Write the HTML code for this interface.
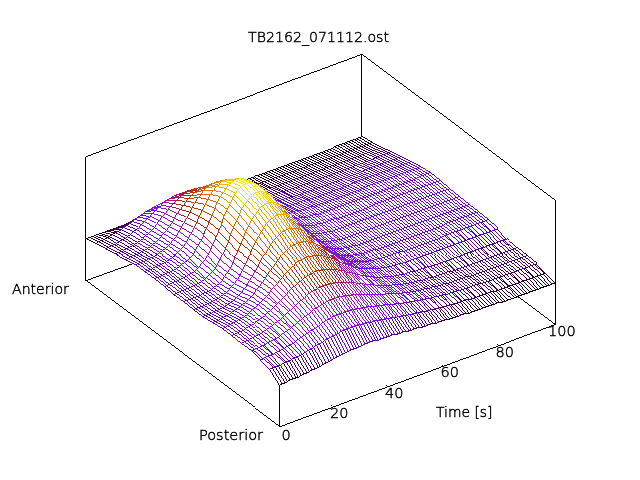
<!DOCTYPE html>
<html><head><meta charset="utf-8"><style>
html,body{margin:0;padding:0;background:#fff;width:640px;height:480px;overflow:hidden}
svg{position:absolute;left:0;top:0}
#m path{fill:#fff;stroke-width:.999}
.k{stroke:#000;fill:none;stroke-width:.999}
.c0{stroke:#000000}.c1{stroke:#250022}.c2{stroke:#350043}.c3{stroke:#400064}.c4{stroke:#4a0082}.c5{stroke:#53009e}.c6{stroke:#5b01b7}.c7{stroke:#6201cd}.c8{stroke:#6901e0}.c9{stroke:#7002ee}.c10{stroke:#7602f8}.c11{stroke:#7b03fe}.c12{stroke:#8104ff}.c13{stroke:#8605fb}.c14{stroke:#8b07f4}.c15{stroke:#9008e7}.c16{stroke:#950ad7}.c17{stroke:#990cc3}.c18{stroke:#9e0eab}.c19{stroke:#a21190}.c20{stroke:#a61473}.c21{stroke:#aa1754}.c22{stroke:#ae1a33}.c23{stroke:#b21e11}.c24{stroke:#b62200}.c25{stroke:#ba2600}.c26{stroke:#be2b00}.c27{stroke:#c13000}.c28{stroke:#c53600}.c29{stroke:#c83c00}.c30{stroke:#cc4200}.c31{stroke:#cf4900}.c32{stroke:#d25000}.c33{stroke:#d65800}.c34{stroke:#d96100}.c35{stroke:#dc6900}.c36{stroke:#df7300}.c37{stroke:#e27c00}.c38{stroke:#e58700}.c39{stroke:#e89200}.c40{stroke:#eb9d00}.c41{stroke:#eea900}.c42{stroke:#f1b600}.c43{stroke:#f4c300}.c44{stroke:#f7d100}.c45{stroke:#fae000}.c46{stroke:#fcef00}.c47{stroke:#ffff00}
text{font-family:"DejaVu Sans","Liberation Sans",sans-serif;font-weight:200;font-size:14.5px;fill:#000;stroke:#000;stroke-width:.45px}
</style></head><body>
<svg width="640" height="480" viewBox="0 0 640 480" shape-rendering="crispEdges">
<g transform="translate(.5 .5)">
<path class="k" d="M85 280L361 180L555 324M85 156L361 54L555 200M85 156V280M361 54V180M555 200V324"/>
<g id="m">
<path class="c0" d="M358 137l3-1l10 6l-3 1z"/>
<path class="c1" d="M361 136l10 6"/>
<path class="c0" d="M355 138l3-1l10 6l-3 1z"/>
<path class="c1" d="M358 137l10 6"/>
<path class="c0" d="M353 139l2-1l10 6l-3 1z"/>
<path class="c1" d="M355 138l10 6"/>
<path class="c0" d="M350 140l3-1l9 6l-2 1z"/>
<path class="c1" d="M353 139l9 6"/>
<path class="c0" d="M347 141l3-1l10 6l-3 1z"/>
<path class="c1" d="M350 140l10 6"/>
<path class="c0" d="M344 142l3-1l10 6l-3 1z"/>
<path class="c1" d="M347 141l10 6"/>
<path class="c0" d="M342 143l2-1l10 6l-3 1z"/>
<path class="c1" d="M344 142l10 6"/>
<path class="c0" d="M339 144l3-1l9 6l-2 1z"/>
<path class="c1" d="M342 143l9 6"/>
<path class="c1" d="M368 143l3-1l9 5l-2 1z"/>
<path class="c2" d="M371 142l9 5"/>
<path class="c0" d="M336 145l3-1l10 6l-3 1z"/>
<path class="c1" d="M339 144l10 6"/>
<path class="c1" d="M365 144l3-1l10 5l-3 1z"/>
<path class="c2" d="M368 143l10 5"/>
<path class="c0" d="M333 146l3-1l10 6l-3 1z"/>
<path class="c1" d="M336 145l10 6"/>
<path class="c1" d="M362 145l3-1l10 5l-3 1z"/>
<path class="c2" d="M365 144l10 5"/>
<path class="c0" d="M331 148l2-2l10 6l-3 1z"/>
<path class="c1" d="M333 146l10 6"/>
<path class="c1" d="M360 146l2-1l10 5l-3 1z"/>
<path class="c2" d="M362 145l10 5"/>
<path class="c0" d="M328 149l3-1l9 5l-2 1z"/>
<path class="c1" d="M331 148l9 5"/>
<path class="c1" d="M357 147l3-1l9 5l-2 1z"/>
<path class="c2" d="M360 146l9 5"/>
<path class="c0" d="M325 150l3-1l10 5l-3 1z"/>
<path class="c1" d="M328 149l10 5"/>
<path class="c1" d="M354 148l3-1l10 5l-3 1z"/>
<path class="c2" d="M357 147l10 5"/>
<path class="c0" d="M322 151l3-1l10 5l-3 1z"/>
<path class="c1" d="M325 150l10 5"/>
<path class="c1" d="M351 149l3-1l10 5l-3 1z"/>
<path class="c2" d="M354 148l10 5"/>
<path class="c0" d="M320 152l2-1l10 5l-3 1z"/>
<path class="c1" d="M322 151l10 5"/>
<path class="c1" d="M349 150l2-1l10 5l-3 1z"/>
<path class="c2" d="M351 149l10 5"/>
<path class="c2" d="M378 148l2-1l10 4l-3 1z"/>
<path class="c3" d="M380 147l10 4"/>
<path class="c0" d="M317 153l3-1l9 5l-2 1z"/>
<path class="c1" d="M320 152l9 5"/>
<path class="c1" d="M346 151l3-1l9 5l-2 1z"/>
<path class="c2" d="M349 150l9 5"/>
<path class="c2" d="M375 149l3-1l9 4l-2 1z"/>
<path class="c3" d="M378 148l9 4"/>
<path class="c0" d="M314 154l3-1l10 5l-3 1z"/>
<path class="c1" d="M317 153l10 5"/>
<path class="c1" d="M343 152l3-1l10 5l-3 1z"/>
<path class="c2" d="M346 151l10 5"/>
<path class="c2" d="M372 150l3-1l10 4l-3 1z"/>
<path class="c3" d="M375 149l10 4"/>
<path class="c0" d="M311 155l3-1l10 5l-3 1z"/>
<path class="c1" d="M314 154l10 5"/>
<path class="c1" d="M340 153l3-1l10 5l-3 1z"/>
<path class="c2" d="M343 152l10 5"/>
<path class="c2" d="M369 151l3-1l10 4l-3 1z"/>
<path class="c3" d="M372 150l10 4"/>
<path class="c0" d="M309 156l2-1l10 5l-3 1z"/>
<path class="c1" d="M311 155l10 5"/>
<path class="c1" d="M338 154l2-1l10 5l-3 1z"/>
<path class="c2" d="M340 153l10 5"/>
<path class="c2" d="M367 152l2-1l10 4l-3 1z"/>
<path class="c3" d="M369 151l10 4"/>
<path class="c0" d="M306 157l3-1l9 5l-2 1z"/>
<path class="c1" d="M309 156l9 5"/>
<path class="c1" d="M335 155l3-1l9 5l-2 1z"/>
<path class="c2" d="M338 154l9 5"/>
<path class="c2" d="M364 153l3-1l9 4l-2 1z"/>
<path class="c3" d="M367 152l9 4"/>
<path class="c0" d="M303 158l3-1l10 5l-3 1z"/>
<path class="c1" d="M306 157l10 5"/>
<path class="c1" d="M332 156l3-1l10 5l-3 1z"/>
<path class="c2" d="M335 155l10 5"/>
<path class="c2" d="M361 154l3-1l10 4l-3 2z"/>
<path class="c3" d="M364 153l10 4"/>
<path class="c0" d="M300 159l3-1l10 5l-3 1z"/>
<path class="c1" d="M303 158l10 5"/>
<path class="c1" d="M329 157l3-1l10 5l-3 1z"/>
<path class="c2" d="M332 156l10 5"/>
<path class="c2" d="M358 155l3-1l10 5l-3 1z"/>
<path class="c3" d="M361 154l10 5"/>
<path class="c4" d="M387 152l3-1l10 5l-3 1z"/>
<path class="c5" d="M390 151l10 5"/>
<path class="c0" d="M298 160l2-1l10 5l-3 1z"/>
<path class="c1" d="M300 159l10 5"/>
<path class="c1" d="M327 158l2-1l10 5l-3 1z"/>
<path class="c2" d="M329 157l10 5"/>
<path class="c2" d="M356 156l2-1l10 5l-3 1z"/>
<path class="c3" d="M358 155l10 5"/>
<path class="c4" d="M385 153l2-1l10 5l-3 1z"/>
<path class="c5" d="M387 152l10 5"/>
<path class="c0" d="M295 161l3-1l9 5l-3 1z"/>
<path class="c1" d="M298 160l9 5"/>
<path class="c1" d="M324 159l3-1l9 5l-3 1z"/>
<path class="c2" d="M327 158l9 5"/>
<path class="c2" d="M353 157l3-1l9 5l-3 1z"/>
<path class="c3" d="M356 156l9 5"/>
<path class="c4" d="M382 154l3-1l9 5l-2 1z"/>
<path class="c5" d="M385 153l9 5"/>
<path class="c0" d="M292 162l3-1l9 5l-2 1z"/>
<path class="c1" d="M295 161l9 5"/>
<path class="c1" d="M321 160l3-1l9 5l-2 1z"/>
<path class="c2" d="M324 159l9 5"/>
<path class="c2" d="M350 158l3-1l9 5l-2 1z"/>
<path class="c3" d="M353 157l9 5"/>
<path class="c4" d="M379 155l3-1l10 5l-3 1z"/>
<path class="c5" d="M382 154l10 5"/>
<path class="c0" d="M289 163l3-1l10 5l-3 1z"/>
<path class="c1" d="M292 162l10 5"/>
<path class="c1" d="M318 161l3-1l10 5l-3 1z"/>
<path class="c2" d="M321 160l10 5"/>
<path class="c2" d="M347 159l3-1l10 5l-3 1z"/>
<path class="c3" d="M350 158l10 5"/>
<path class="c4" d="M376 156l3-1l10 5l-3 1z"/>
<path class="c5" d="M379 155l10 5"/>
<path class="c0" d="M286 164l3-1l10 5l-3 1z"/>
<path class="c1" d="M289 163l10 5"/>
<path class="c1" d="M316 162l2-1l10 5l-3 1z"/>
<path class="c2" d="M318 161l10 5"/>
<path class="c2" d="M345 160l2-1l10 5l-3 1z"/>
<path class="c3" d="M347 159l10 5"/>
<path class="c4" d="M374 157l2-1l10 5l-3 1z"/>
<path class="c5" d="M376 156l10 5"/>
<path class="c0" d="M284 165l2-1l10 5l-3 1z"/>
<path class="c1" d="M286 164l10 5"/>
<path class="c1" d="M313 163l3-1l9 5l-3 1z"/>
<path class="c2" d="M316 162l9 5"/>
<path class="c2" d="M342 161l3-1l9 5l-3 1z"/>
<path class="c3" d="M345 160l9 5"/>
<path class="c4" d="M371 159l3-2l9 5l-3 1z"/>
<path class="c5" d="M374 157l9 5"/>
<path class="c0" d="M281 166l3-1l9 5l-2 1z"/>
<path class="c1" d="M284 165l9 5"/>
<path class="c1" d="M310 164l3-1l9 5l-2 1z"/>
<path class="c2" d="M313 163l9 5"/>
<path class="c2" d="M339 162l3-1l9 5l-2 1z"/>
<path class="c3" d="M342 161l9 5"/>
<path class="c4" d="M368 160l3-1l9 4l-2 1z"/>
<path class="c5" d="M371 159l9 4"/>
<path class="c5" d="M397 157l3-1l10 5l-3 1z"/>
<path class="c6" d="M400 156l10 5"/>
<path class="c0" d="M278 167l3-1l10 5l-3 1z"/>
<path class="c1" d="M281 166l10 5"/>
<path class="c1" d="M307 165l3-1l10 5l-3 1z"/>
<path class="c2" d="M310 164l10 5"/>
<path class="c2" d="M336 163l3-1l10 5l-3 1z"/>
<path class="c3" d="M339 162l10 5"/>
<path class="c4" d="M365 161l3-1l10 4l-3 1z"/>
<path class="c5" d="M368 160l10 4"/>
<path class="c5" d="M394 158l3-1l10 5l-3 1z"/>
<path class="c6" d="M397 157l10 5"/>
<path class="c0" d="M275 168l3-1l10 5l-3 1z"/>
<path class="c1" d="M278 167l10 5"/>
<path class="c1" d="M304 166l3-1l10 5l-3 1z"/>
<path class="c2" d="M307 165l10 5"/>
<path class="c2" d="M333 164l3-1l10 5l-3 1z"/>
<path class="c3" d="M336 163l10 5"/>
<path class="c4" d="M362 162l3-1l10 4l-3 1z"/>
<path class="c5" d="M365 161l10 4"/>
<path class="c5" d="M392 159l2-1l10 5l-3 1z"/>
<path class="c6" d="M394 158l10 5"/>
<path class="c0" d="M273 169l2-1l10 5l-3 1z"/>
<path class="c1" d="M275 168l10 5"/>
<path class="c1" d="M302 167l2-1l10 5l-3 1z"/>
<path class="c2" d="M304 166l10 5"/>
<path class="c2" d="M331 165l2-1l10 5l-3 1z"/>
<path class="c3" d="M333 164l10 5"/>
<path class="c4" d="M360 163l2-1l10 4l-3 1z"/>
<path class="c5" d="M362 162l10 4"/>
<path class="c5" d="M389 160l3-1l9 5l-3 1z"/>
<path class="c6" d="M392 159l9 5"/>
<path class="c0" d="M270 170l3-1l9 5l-2 1z"/>
<path class="c1" d="M273 169l9 5"/>
<path class="c1" d="M299 168l3-1l9 5l-2 1z"/>
<path class="c2" d="M302 167l9 5"/>
<path class="c2" d="M328 166l3-1l9 5l-2 1z"/>
<path class="c3" d="M331 165l9 5"/>
<path class="c4" d="M357 164l3-1l9 4l-2 1z"/>
<path class="c5" d="M360 163l9 4"/>
<path class="c5" d="M386 161l3-1l9 5l-2 1z"/>
<path class="c6" d="M389 160l9 5"/>
<path class="c0" d="M267 171l3-1l10 5l-3 1z"/>
<path class="c1" d="M270 170l10 5"/>
<path class="c1" d="M296 169l3-1l10 5l-3 1z"/>
<path class="c2" d="M299 168l10 5"/>
<path class="c2" d="M325 167l3-1l10 5l-3 1z"/>
<path class="c3" d="M328 166l10 5"/>
<path class="c4" d="M354 165l3-1l10 4l-3 1z"/>
<path class="c5" d="M357 164l10 4"/>
<path class="c5" d="M383 162l3-1l10 5l-3 1z"/>
<path class="c6" d="M386 161l10 5"/>
<path class="c0" d="M264 172l3-1l10 5l-3 1z"/>
<path class="c1" d="M267 171l10 5"/>
<path class="c1" d="M293 170l3-1l10 5l-3 1z"/>
<path class="c2" d="M296 169l10 5"/>
<path class="c2" d="M322 168l3-1l10 5l-3 1z"/>
<path class="c3" d="M325 167l10 5"/>
<path class="c4" d="M351 166l3-1l10 4l-3 2z"/>
<path class="c5" d="M354 165l10 4"/>
<path class="c5" d="M380 163l3-1l10 5l-3 1z"/>
<path class="c6" d="M383 162l10 5"/>
<path class="c0" d="M262 173l2-1l10 5l-3 1z"/>
<path class="c1" d="M264 172l10 5"/>
<path class="c1" d="M291 171l2-1l10 5l-3 1z"/>
<path class="c2" d="M293 170l10 5"/>
<path class="c2" d="M320 169l2-1l10 5l-3 1z"/>
<path class="c3" d="M322 168l10 5"/>
<path class="c4" d="M349 167l2-1l10 5l-3 1z"/>
<path class="c5" d="M351 166l10 5"/>
<path class="c5" d="M378 164l2-1l10 5l-3 1z"/>
<path class="c6" d="M380 163l10 5"/>
<path class="c7" d="M407 162l3-1l9 5l-3 1z"/>
<path class="c0" d="M259 174l3-1l9 5l-2 1z"/>
<path class="c1" d="M262 173l9 5"/>
<path class="c1" d="M288 172l3-1l9 5l-2 1z"/>
<path class="c2" d="M291 171l9 5"/>
<path class="c2" d="M317 170l3-1l9 5l-2 1z"/>
<path class="c3" d="M320 169l9 5"/>
<path class="c4" d="M346 168l3-1l9 5l-2 1z"/>
<path class="c5" d="M349 167l9 5"/>
<path class="c5" d="M375 165l3-1l9 5l-2 1z"/>
<path class="c6" d="M378 164l9 5"/>
<path class="c7" d="M404 163l3-1l9 5l-2 1z"/>
<path class="c0" d="M256 175l3-1l10 5l-3 1z"/>
<path class="c1" d="M259 174l10 5"/>
<path class="c1" d="M285 173l3-1l10 5l-3 1z"/>
<path class="c2" d="M288 172l10 5"/>
<path class="c2" d="M314 171l3-1l10 5l-3 1z"/>
<path class="c3" d="M317 170l10 5"/>
<path class="c4" d="M343 169l3-1l10 5l-3 1z"/>
<path class="c5" d="M346 168l10 5"/>
<path class="c5" d="M372 166l3-1l10 5l-3 1z"/>
<path class="c6" d="M375 165l10 5"/>
<path class="c7" d="M401 164l3-1l10 5l-3 1z"/>
<path class="c0" d="M253 176l3-1l10 5l-3 1z"/>
<path class="c1" d="M256 175l10 5"/>
<path class="c1" d="M282 174l3-1l10 5l-3 1z"/>
<path class="c2" d="M285 173l10 5"/>
<path class="c2" d="M311 172l3-1l10 5l-3 1z"/>
<path class="c3" d="M314 171l10 5"/>
<path class="c4" d="M340 170l3-1l10 5l-3 1z"/>
<path class="c5" d="M343 169l10 5"/>
<path class="c5" d="M369 167l3-1l10 5l-3 1z"/>
<path class="c6" d="M372 166l10 5"/>
<path class="c7" d="M398 165l3-1l10 5l-3 1z"/>
<path class="c0" d="M251 177l2-1l10 5l-3 1z"/>
<path class="c1" d="M253 176l10 5"/>
<path class="c1" d="M280 175l2-1l10 5l-3 1z"/>
<path class="c2" d="M282 174l10 5"/>
<path class="c2" d="M309 173l2-1l10 5l-3 1z"/>
<path class="c3" d="M311 172l10 5"/>
<path class="c4" d="M338 171l2-1l10 5l-3 1z"/>
<path class="c5" d="M340 170l10 5"/>
<path class="c5" d="M367 168l2-1l10 5l-3 1z"/>
<path class="c6" d="M369 167l10 5"/>
<path class="c7" d="M396 166l2-1l10 5l-3 1z"/>
<path class="c0" d="M248 178l3-1l9 5l-2 1z"/>
<path class="c1" d="M251 177l9 5"/>
<path class="c1" d="M277 176l3-1l9 5l-2 1z"/>
<path class="c2" d="M280 175l9 5"/>
<path class="c2" d="M306 174l3-1l9 5l-2 1z"/>
<path class="c3" d="M309 173l9 5"/>
<path class="c4" d="M335 172l3-1l9 5l-2 1z"/>
<path class="c5" d="M338 171l9 5"/>
<path class="c5" d="M364 169l3-1l9 5l-2 1z"/>
<path class="c6" d="M367 168l9 5"/>
<path class="c7" d="M393 167l3-1l9 5l-2 1z"/>
<path class="c0" d="M245 179l3-1l10 5l-3 0z"/>
<path class="c1" d="M248 178l10 5"/>
<path class="c1" d="M274 177l3-1l10 5l-3 1z"/>
<path class="c2" d="M277 176l10 5"/>
<path class="c2" d="M303 175l3-1l10 5l-3 1z"/>
<path class="c3" d="M306 174l10 5"/>
<path class="c4" d="M332 173l3-1l10 5l-3 1z"/>
<path class="c5" d="M335 172l10 5"/>
<path class="c5" d="M361 171l3-2l10 5l-3 1z"/>
<path class="c6" d="M364 169l10 5"/>
<path class="c7" d="M390 168l3-1l10 5l-3 1z"/>
<path class="c0" d="M242 180l3-1l10 4l-3 1z"/>
<path class="c1" d="M245 179l10 4"/>
<path class="c1" d="M271 178l3-1l10 5l-3 1z"/>
<path class="c2" d="M274 177l10 5"/>
<path class="c2" d="M300 176l3-1l10 5l-3 1z"/>
<path class="c3" d="M303 175l10 5"/>
<path class="c4" d="M329 174l3-1l10 5l-3 1z"/>
<path class="c5" d="M332 173l10 5"/>
<path class="c5" d="M358 172l3-1l10 4l-3 1z"/>
<path class="c6" d="M361 171l10 4"/>
<path class="c7" d="M387 169l3-1l10 5l-3 1z"/>
<path class="c8" d="M416 167l3-1l10 6l-3 1z"/>
<path class="c0" d="M240 181l2-1l10 4l-3 1z"/>
<path class="c1" d="M242 180l10 4"/>
<path class="c1" d="M269 179l2-1l10 5l-3 1z"/>
<path class="c2" d="M271 178l10 5"/>
<path class="c2" d="M298 177l2-1l10 5l-3 1z"/>
<path class="c3" d="M300 176l10 5"/>
<path class="c4" d="M327 175l2-1l10 5l-3 1z"/>
<path class="c5" d="M329 174l10 5"/>
<path class="c5" d="M356 173l2-1l10 4l-3 1z"/>
<path class="c6" d="M358 172l10 4"/>
<path class="c7" d="M385 170l2-1l10 5l-3 1z"/>
<path class="c8" d="M414 168l2-1l10 6l-3 1z"/>
<path class="c0" d="M237 182l3-1l9 4l-3 1z"/>
<path class="c1" d="M240 181l9 4"/>
<path class="c1" d="M266 180l3-1l9 5l-2 1z"/>
<path class="c2" d="M269 179l9 5"/>
<path class="c3" d="M295 178l3-1l9 5l-2 1z"/>
<path class="c4" d="M324 176l3-1l9 5l-2 1z"/>
<path class="c5" d="M327 175l9 5"/>
<path class="c5" d="M353 174l3-1l9 4l-2 1z"/>
<path class="c6" d="M356 173l9 4"/>
<path class="c7" d="M382 171l3-1l9 5l-2 1z"/>
<path class="c8" d="M411 169l3-1l9 6l-2 1z"/>
<path class="c0" d="M234 183l3-1l9 4l-2 1z"/>
<path class="c1" d="M237 182l9 4"/>
<path class="c1" d="M263 181l3-1l10 5l-3 1z"/>
<path class="c2" d="M266 180l10 5"/>
<path class="c3" d="M292 179l3-1l10 5l-3 1z"/>
<path class="c4" d="M321 177l3-1l10 5l-3 1z"/>
<path class="c5" d="M324 176l10 5"/>
<path class="c5" d="M350 175l3-1l10 4l-3 1z"/>
<path class="c6" d="M353 174l10 4"/>
<path class="c7" d="M379 172l3-1l10 5l-3 1z"/>
<path class="c8" d="M408 170l3-1l10 6l-3 1z"/>
<path class="c0" d="M231 184l3-1l10 4l-3 1z"/>
<path class="c1" d="M234 183l10 4"/>
<path class="c2" d="M260 182l3-1l10 5l-3 1z"/>
<path class="c3" d="M289 180l3-1l10 5l-3 1z"/>
<path class="c4" d="M318 178l3-1l10 5l-3 1z"/>
<path class="c5" d="M321 177l10 5"/>
<path class="c5" d="M347 176l3-1l10 4l-3 1z"/>
<path class="c6" d="M350 175l10 4"/>
<path class="c7" d="M376 173l3-1l10 5l-3 1z"/>
<path class="c8" d="M405 171l3-1l10 6l-3 2z"/>
<path class="c0" d="M229 185l2-1l10 4l-3 0z"/>
<path class="c1" d="M231 184l10 4"/>
<path class="c2" d="M258 183l2-1l10 5l-3 0z"/>
<path class="c3" d="M287 181l2-1l10 5l-3 1z"/>
<path class="c4" d="M316 179l2-1l10 5l-3 1z"/>
<path class="c5" d="M318 178l10 5"/>
<path class="c5" d="M345 177l2-1l10 4l-3 1z"/>
<path class="c6" d="M347 176l10 4"/>
<path class="c7" d="M374 174l2-1l10 5l-3 1z"/>
<path class="c8" d="M403 172l2-1l10 7l-3 1z"/>
<path class="c0" d="M226 186l3-1l9 3l-3 1z"/>
<path class="c1" d="M229 185l9 3"/>
<path class="c2" d="M255 183l3 0l9 4l-3 1z"/>
<path class="c3" d="M284 182l3-1l9 5l-2 1z"/>
<path class="c4" d="M313 180l3-1l9 5l-2 1z"/>
<path class="c5" d="M316 179l9 5"/>
<path class="c5" d="M342 178l3-1l9 4l-2 1z"/>
<path class="c6" d="M345 177l9 4"/>
<path class="c7" d="M371 175l3-1l9 5l-2 1z"/>
<path class="c8" d="M400 173l3-1l9 7l-2 1z"/>
<path class="c0" d="M223 187l3-1l9 3l-2 1z"/>
<path class="c1" d="M226 186l9 3"/>
<path class="c2" d="M252 184l3-1l9 5l-2 1z"/>
<path class="c3" d="M281 183l3-1l10 5l-3 1z"/>
<path class="c4" d="M310 181l3-1l10 5l-3 1z"/>
<path class="c5" d="M313 180l10 5"/>
<path class="c5" d="M339 179l3-1l10 4l-3 2z"/>
<path class="c6" d="M342 178l10 4"/>
<path class="c7" d="M368 176l3-1l10 5l-3 1z"/>
<path class="c8" d="M397 174l3-1l10 7l-3 1z"/>
<path class="c0" d="M220 188l3-1l10 3l-3 0z"/>
<path class="c1" d="M223 187l10 3"/>
<path class="c8" d="M426 173l3-1l10 8l-3 1z"/>
<path class="c2" d="M249 185l3-1l10 5l-3 1z"/>
<path class="c3" d="M278 184l3-1l10 5l-3 1z"/>
<path class="c4" d="M307 182l3-1l10 5l-3 1z"/>
<path class="c5" d="M310 181l10 5"/>
<path class="c5" d="M336 180l3-1l10 5l-3 1z"/>
<path class="c6" d="M339 179l10 5"/>
<path class="c7" d="M365 177l3-1l10 5l-3 1z"/>
<path class="c8" d="M394 175l3-1l10 7l-3 1z"/>
<path class="c0" d="M217 189l3-1l10 2l-3 1z"/>
<path class="c2" d="M220 188l10 2"/>
<path class="c8" d="M423 174l3-1l10 8l-3 1z"/>
<path class="c2" d="M246 186l3-1l10 5l-3 1z"/>
<path class="c3" d="M249 185l10 5"/>
<path class="c3" d="M276 185l2-1l10 5l-3 1z"/>
<path class="c4" d="M305 183l2-1l10 5l-3 1z"/>
<path class="c5" d="M307 182l10 5"/>
<path class="c5" d="M334 181l2-1l10 5l-3 1z"/>
<path class="c6" d="M336 180l10 5"/>
<path class="c7" d="M363 178l2-1l10 5l-3 1z"/>
<path class="c8" d="M392 176l2-1l10 7l-3 1z"/>
<path class="c0" d="M215 190l2-1l10 2l-3 0z"/>
<path class="c2" d="M217 189l10 2"/>
<path class="c8" d="M421 175l2-1l10 8l-3 1z"/>
<path class="c2" d="M244 187l2-1l10 5l-3 0z"/>
<path class="c3" d="M246 186l10 5"/>
<path class="c3" d="M273 186l3-1l9 5l-3 1z"/>
<path class="c4" d="M302 184l3-1l9 5l-3 1z"/>
<path class="c5" d="M305 183l9 5"/>
<path class="c5" d="M331 182l3-1l9 5l-3 1z"/>
<path class="c6" d="M334 181l9 5"/>
<path class="c7" d="M360 179l3-1l9 5l-2 1z"/>
<path class="c8" d="M389 177l3-1l9 7l-2 1z"/>
<path class="c0" d="M212 191l3-1l9 1l-2 1z"/>
<path class="c2" d="M215 190l9 1"/>
<path class="c8" d="M418 176l3-1l9 8l-2 1z"/>
<path class="c2" d="M241 188l3-1l9 4l-2 1z"/>
<path class="c3" d="M244 187l9 4"/>
<path class="c3" d="M270 187l3-1l9 5l-2 0z"/>
<path class="c4" d="M299 185l3-1l9 5l-2 1z"/>
<path class="c5" d="M302 184l9 5"/>
<path class="c5" d="M328 183l3-1l9 5l-2 1z"/>
<path class="c6" d="M331 182l9 5"/>
<path class="c7" d="M357 180l3-1l10 5l-3 1z"/>
<path class="c8" d="M386 178l3-1l10 7l-3 1z"/>
<path class="c0" d="M209 192l3-1l10 1l-3 0z"/>
<path class="c2" d="M212 191l10 1"/>
<path class="c8" d="M415 178l3-2l10 8l-3 1z"/>
<path class="c2" d="M238 188l3 0l10 4l-3 1z"/>
<path class="c3" d="M241 188l10 4"/>
<path class="c3" d="M267 187l3 0l10 4l-3 1z"/>
<path class="c4" d="M270 187l10 4"/>
<path class="c4" d="M296 186l3-1l10 5l-3 1z"/>
<path class="c5" d="M299 185l10 5"/>
<path class="c5" d="M325 184l3-1l10 5l-3 1z"/>
<path class="c6" d="M328 183l10 5"/>
<path class="c7" d="M354 181l3-1l10 5l-3 2z"/>
<path class="c8" d="M383 179l3-1l10 7l-3 1z"/>
<path class="c0" d="M206 193l3-1l10 0l-3 0z"/>
<path class="c2" d="M209 192l10 0"/>
<path class="c8" d="M412 179l3-1l10 7l-3 1z"/>
<path class="c3" d="M235 189l3-1l10 5l-3 0z"/>
<path class="c3" d="M264 188l3-1l10 5l-3 1z"/>
<path class="c4" d="M267 187l10 5"/>
<path class="c4" d="M294 187l2-1l10 5l-3 1z"/>
<path class="c5" d="M296 186l10 5"/>
<path class="c5" d="M323 185l2-1l10 5l-3 1z"/>
<path class="c6" d="M325 184l10 5"/>
<path class="c7" d="M352 182l2-1l10 6l-3 1z"/>
<path class="c8" d="M381 180l2-1l10 7l-3 1z"/>
<path class="c0" d="M204 194l2-1l10-1l-3 0z"/>
<path class="c2" d="M206 193l10-1"/>
<path class="c8" d="M410 180l2-1l10 7l-3 1z"/>
<path class="c3" d="M233 190l2-1l10 4l-3 0z"/>
<path class="c4" d="M235 189l10 4"/>
<path class="c3" d="M262 189l2-1l10 5l-3 1z"/>
<path class="c4" d="M264 188l10 5"/>
<path class="c4" d="M291 188l3-1l9 5l-3 1z"/>
<path class="c5" d="M294 187l9 5"/>
<path class="c5" d="M320 186l3-1l9 5l-3 1z"/>
<path class="c6" d="M323 185l9 5"/>
<path class="c7" d="M349 184l3-2l9 6l-3 1z"/>
<path class="c8" d="M378 181l3-1l9 7l-2 1z"/>
<path class="c0" d="M201 195l3-1l9-2l-2 1z"/>
<path class="c3" d="M204 194l9-2"/>
<path class="c8" d="M407 181l3-1l9 7l-2 1z"/>
<path class="c3" d="M230 190l3 0l9 3l-2 1z"/>
<path class="c4" d="M233 190l9 3"/>
<path class="c8" d="M436 181l3-1l9 8l-2 1z"/>
<path class="c3" d="M259 190l3-1l9 5l-2 1z"/>
<path class="c4" d="M262 189l9 5"/>
<path class="c4" d="M288 189l3-1l9 5l-2 1z"/>
<path class="c5" d="M291 188l9 5"/>
<path class="c5" d="M317 187l3-1l9 5l-2 1z"/>
<path class="c6" d="M320 186l9 5"/>
<path class="c7" d="M346 185l3-1l9 5l-2 1z"/>
<path class="c8" d="M375 182l3-1l10 7l-3 1z"/>
<path class="c0" d="M198 196l3-1l10-2l-3 0z"/>
<path class="c3" d="M201 195l10-2"/>
<path class="c8" d="M404 182l3-1l10 7l-3 1z"/>
<path class="c3" d="M227 191l3-1l10 4l-3 0z"/>
<path class="c4" d="M230 190l10 4"/>
<path class="c8" d="M433 182l3-1l10 8l-3 1z"/>
<path class="c3" d="M256 191l3-1l10 5l-3 0z"/>
<path class="c4" d="M259 190l10 5"/>
<path class="c4" d="M285 190l3-1l10 5l-3 1z"/>
<path class="c5" d="M288 189l10 5"/>
<path class="c5" d="M314 188l3-1l10 5l-3 1z"/>
<path class="c6" d="M317 187l10 5"/>
<path class="c7" d="M343 186l3-1l10 5l-3 1z"/>
<path class="c8" d="M372 183l3-1l10 7l-3 1z"/>
<path class="c0" d="M195 198l3-2l10-3l-3 0z"/>
<path class="c3" d="M198 196l10-3"/>
<path class="c8" d="M401 183l3-1l10 7l-3 1z"/>
<path class="c4" d="M224 191l3 0l10 3l-3 0z"/>
<path class="c5" d="M227 191l10 3"/>
<path class="c8" d="M430 183l3-1l10 8l-3 1z"/>
<path class="c4" d="M253 191l3 0l10 4l-3 1z"/>
<path class="c4" d="M282 191l3-1l10 5l-3 1z"/>
<path class="c5" d="M285 190l10 5"/>
<path class="c5" d="M311 189l3-1l10 5l-3 1z"/>
<path class="c6" d="M314 188l10 5"/>
<path class="c7" d="M340 187l3-1l10 5l-3 1z"/>
<path class="c8" d="M370 184l2-1l10 7l-3 1z"/>
<path class="c0" d="M193 199l2-1l10-5l-3 0z"/>
<path class="c3" d="M195 198l10-5"/>
<path class="c8" d="M399 184l2-1l10 7l-3 1z"/>
<path class="c4" d="M222 192l2-1l10 3l-3 0z"/>
<path class="c5" d="M224 191l10 3"/>
<path class="c8" d="M428 184l2-1l10 8l-3 1z"/>
<path class="c4" d="M251 192l2-1l10 5l-3 1z"/>
<path class="c4" d="M280 191l2 0l10 5l-3 0z"/>
<path class="c5" d="M282 191l10 5"/>
<path class="c5" d="M309 190l2-1l10 5l-3 1z"/>
<path class="c6" d="M311 189l10 5"/>
<path class="c7" d="M338 188l2-1l10 5l-3 1z"/>
<path class="c8" d="M367 185l3-1l9 7l-3 1z"/>
<path class="c0" d="M190 200l3-1l9-6l-2 1z"/>
<path class="c4" d="M193 199l9-6"/>
<path class="c8" d="M396 185l3-1l9 7l-3 1z"/>
<path class="c4" d="M219 192l3 0l9 2l-2 0z"/>
<path class="c5" d="M222 192l9 2"/>
<path class="c8" d="M425 185l3-1l9 8l-3 1z"/>
<path class="c4" d="M248 193l3-1l9 5l-2 0z"/>
<path class="c5" d="M251 192l9 5"/>
<path class="c4" d="M277 192l3-1l9 5l-2 1z"/>
<path class="c5" d="M280 191l9 5"/>
<path class="c5" d="M306 191l3-1l9 5l-2 1z"/>
<path class="c6" d="M309 190l9 5"/>
<path class="c7" d="M335 189l3-1l9 5l-2 1z"/>
<path class="c8" d="M364 187l3-2l9 7l-2 1z"/>
<path class="c0" d="M187 201l3-1l10-6l-3 0z"/>
<path class="c4" d="M190 200l10-6"/>
<path class="c8" d="M393 186l3-1l9 7l-2 1z"/>
<path class="c5" d="M216 192l3 0l10 2l-3 0z"/>
<path class="c6" d="M219 192l10 2"/>
<path class="c8" d="M422 186l3-1l9 8l-2 1z"/>
<path class="c4" d="M245 193l3 0l10 4l-3 1z"/>
<path class="c5" d="M248 193l10 4"/>
<path class="c4" d="M274 193l3-1l10 5l-3 1z"/>
<path class="c5" d="M277 192l10 5"/>
<path class="c5" d="M303 192l3-1l10 5l-3 1z"/>
<path class="c6" d="M306 191l10 5"/>
<path class="c7" d="M332 190l3-1l10 5l-3 1z"/>
<path class="c8" d="M361 188l3-1l10 6l-3 1z"/>
<path class="c0" d="M184 202l3-1l10-7l-3 0z"/>
<path class="c4" d="M187 201l10-7"/>
<path class="c8" d="M390 187l3-1l10 7l-3 1z"/>
<path class="c5" d="M213 192l3 0l10 2l-3-1z"/>
<path class="c6" d="M216 192l10 2"/>
<path class="c8" d="M419 187l3-1l10 8l-3 1z"/>
<path class="c5" d="M242 193l3 0l10 5l-3 0z"/>
<path class="c4" d="M271 194l3-1l10 5l-3 1z"/>
<path class="c5" d="M274 193l10 5"/>
<path class="c5" d="M300 193l3-1l10 5l-3 1z"/>
<path class="c6" d="M303 192l10 5"/>
<path class="c7" d="M329 191l3-1l10 5l-3 1z"/>
<path class="c8" d="M358 189l3-1l10 6l-3 1z"/>
<path class="c0" d="M182 203l2-1l10-8l-3 0z"/>
<path class="c4" d="M184 202l10-8"/>
<path class="c8" d="M388 188l2-1l10 7l-3 1z"/>
<path class="c5" d="M211 193l2-1l10 1l-3 0z"/>
<path class="c7" d="M213 192l10 1"/>
<path class="c8" d="M417 188l2-1l10 8l-3 1z"/>
<path class="c5" d="M240 194l2-1l10 5l-3 0z"/>
<path class="c6" d="M242 193l10 5"/>
<path class="c8" d="M446 189l2-1l10 8l-3 1z"/>
<path class="c5" d="M269 195l2-1l10 5l-3 1z"/>
<path class="c5" d="M298 194l2-1l10 5l-3 1z"/>
<path class="c6" d="M300 193l10 5"/>
<path class="c7" d="M327 192l2-1l10 5l-3 1z"/>
<path class="c8" d="M356 190l2-1l10 6l-3 1z"/>
<path class="c0" d="M179 204l3-1l9-9l-2 1z"/>
<path class="c4" d="M182 203l9-9"/>
<path class="c8" d="M385 189l3-1l9 7l-3 1z"/>
<path class="c6" d="M208 193l3 0l9 0l-2 0z"/>
<path class="c8" d="M211 193l9 0"/>
<path class="c8" d="M414 189l3-1l9 8l-3 1z"/>
<path class="c5" d="M237 194l3 0l9 4l-2 0z"/>
<path class="c6" d="M240 194l9 4"/>
<path class="c8" d="M443 190l3-1l9 8l-3 1z"/>
<path class="c5" d="M266 195l3 0l9 5l-2 0z"/>
<path class="c5" d="M295 195l3-1l9 5l-2 0z"/>
<path class="c6" d="M298 194l9 5"/>
<path class="c7" d="M324 193l3-1l9 5l-2 1z"/>
<path class="c8" d="M353 191l3-1l9 6l-2 1z"/>
<path class="c0" d="M176 205l3-1l10-9l-3 0z"/>
<path class="c5" d="M179 204l10-9"/>
<path class="c8" d="M382 190l3-1l9 7l-2 1z"/>
<path class="c6" d="M205 193l3 0l10 0l-3-1z"/>
<path class="c8" d="M208 193l10 0"/>
<path class="c8" d="M411 190l3-1l9 8l-2 1z"/>
<path class="c6" d="M234 194l3 0l10 4l-3 0z"/>
<path class="c7" d="M237 194l10 4"/>
<path class="c8" d="M440 191l3-1l9 8l-2 1z"/>
<path class="c5" d="M263 196l3-1l10 5l-3 1z"/>
<path class="c6" d="M266 195l10 5"/>
<path class="c5" d="M292 196l3-1l10 4l-3 1z"/>
<path class="c6" d="M295 195l10 4"/>
<path class="c7" d="M321 194l3-1l10 5l-3 1z"/>
<path class="c8" d="M350 192l3-1l10 6l-3 1z"/>
<path class="c0" d="M173 206l3-1l10-10l-3 0z"/>
<path class="c5" d="M176 205l10-10"/>
<path class="c8" d="M379 191l3-1l10 7l-3 1z"/>
<path class="c7" d="M202 193l3 0l10-1l-3 0z"/>
<path class="c9" d="M205 193l10-1"/>
<path class="c8" d="M408 191l3-1l10 8l-3 1z"/>
<path class="c6" d="M231 194l3 0l10 4l-3 0z"/>
<path class="c7" d="M234 194l10 4"/>
<path class="c8" d="M437 192l3-1l10 8l-3 1z"/>
<path class="c5" d="M260 197l3-1l10 5l-3 1z"/>
<path class="c6" d="M263 196l10 5"/>
<path class="c6" d="M289 196l3 0l10 4l-3 1z"/>
<path class="c7" d="M318 195l3-1l10 5l-3 1z"/>
<path class="c8" d="M347 193l3-1l10 6l-3 1z"/>
<path class="c0" d="M171 207l2-1l10-11l-3 1z"/>
<path class="c5" d="M173 206l10-11"/>
<path class="c8" d="M376 192l3-1l10 7l-3 1z"/>
<path class="c7" d="M200 194l2-1l10-1l-3-1z"/>
<path class="c10" d="M202 193l10-1"/>
<path class="c8" d="M405 192l3-1l10 8l-3 1z"/>
<path class="c7" d="M229 194l2 0l10 4l-3-1z"/>
<path class="c8" d="M231 194l10 4"/>
<path class="c8" d="M434 193l3-1l10 8l-3 1z"/>
<path class="c5" d="M258 197l2 0l10 5l-3 0z"/>
<path class="c6" d="M260 197l10 5"/>
<path class="c6" d="M287 197l2-1l10 5l-3 1z"/>
<path class="c7" d="M316 196l2-1l10 5l-3 1z"/>
<path class="c8" d="M345 194l2-1l10 6l-3 1z"/>
<path class="c0" d="M168 208l3-1l9-11l-2 1z"/>
<path class="c5" d="M171 207l9-11"/>
<path class="c8" d="M374 193l2-1l10 7l-3 1z"/>
<path class="c8" d="M197 194l3 0l9-3l-2 0z"/>
<path class="c10" d="M200 194l9-3"/>
<path class="c8" d="M403 193l2-1l10 8l-3 1z"/>
<path class="c8" d="M226 194l3 0l9 3l-2 0z"/>
<path class="c9" d="M229 194l9 3"/>
<path class="c8" d="M432 194l2-1l10 8l-3 1z"/>
<path class="c6" d="M255 198l3-1l9 5l-2 0z"/>
<path class="c6" d="M284 198l3-1l9 5l-2 1z"/>
<path class="c7" d="M313 197l3-1l9 5l-2 1z"/>
<path class="c8" d="M342 195l3-1l9 6l-2 1z"/>
<path class="c0" d="M165 209l3-1l10-11l-3 0z"/>
<path class="c5" d="M168 208l10-11"/>
<path class="c8" d="M371 194l3-1l9 7l-2 1z"/>
<path class="c8" d="M194 194l3 0l10-3l-3-1z"/>
<path class="c11" d="M197 194l10-3"/>
<path class="c8" d="M400 194l3-1l9 8l-2 1z"/>
<path class="c8" d="M223 193l3 1l10 3l-3-1z"/>
<path class="c9" d="M226 194l10 3"/>
<path class="c8" d="M429 195l3-1l9 8l-2 1z"/>
<path class="c6" d="M252 198l3 0l10 4l-3 0z"/>
<path class="c7" d="M255 198l10 4"/>
<path class="c6" d="M281 199l3-1l10 5l-3 1z"/>
<path class="c7" d="M310 198l3-1l10 5l-3 1z"/>
<path class="c8" d="M339 196l3-1l10 6l-3 1z"/>
<path class="c0" d="M162 210l3-1l10-12l-3 1z"/>
<path class="c5" d="M165 209l10-12"/>
<path class="c8" d="M368 195l3-1l10 7l-3 1z"/>
<path class="c9" d="M191 194l3 0l10-4l-3 0z"/>
<path class="c12" d="M194 194l10-4"/>
<path class="c8" d="M397 195l3-1l10 8l-3 1z"/>
<path class="c9" d="M220 193l3 0l10 3l-3-1z"/>
<path class="c10" d="M223 193l10 3"/>
<path class="c8" d="M426 196l3-1l10 8l-3 1z"/>
<path class="c7" d="M249 198l3 0l10 4l-3 1z"/>
<path class="c8" d="M455 197l3-1l10 8l-3 1z"/>
<path class="c6" d="M278 200l3-1l10 5l-3 1z"/>
<path class="c7" d="M281 199l10 5"/>
<path class="c7" d="M307 199l3-1l10 5l-3 1z"/>
<path class="c8" d="M336 197l3-1l10 6l-3 1z"/>
<path class="c0" d="M160 211l2-1l10-12l-3 1z"/>
<path class="c5" d="M162 210l10-12"/>
<path class="c8" d="M365 196l3-1l10 7l-3 1z"/>
<path class="c9" d="M189 195l2-1l10-4l-3 0z"/>
<path class="c12" d="M191 194l10-4"/>
<path class="c8" d="M394 196l3-1l10 8l-3 1z"/>
<path class="c10" d="M218 193l2 0l10 2l-3-1z"/>
<path class="c11" d="M220 193l10 2"/>
<path class="c8" d="M423 197l3-1l10 8l-3 1z"/>
<path class="c7" d="M247 198l2 0l10 5l-3-1z"/>
<path class="c8" d="M249 198l10 5"/>
<path class="c8" d="M452 198l3-1l10 8l-3 1z"/>
<path class="c6" d="M276 200l2 0l10 5l-3 0z"/>
<path class="c7" d="M278 200l10 5"/>
<path class="c7" d="M305 199l2 0l10 5l-3 1z"/>
<path class="c8" d="M334 198l2-1l10 6l-3 1z"/>
<path class="c0" d="M157 212l3-1l9-12l-3 1z"/>
<path class="c5" d="M160 211l9-12"/>
<path class="c8" d="M363 197l2-1l10 7l-3 1z"/>
<path class="c9" d="M186 195l3 0l9-5l-3 0z"/>
<path class="c13" d="M189 195l9-5"/>
<path class="c8" d="M392 197l2-1l10 8l-3 1z"/>
<path class="c11" d="M215 192l3 1l9 1l-3-1z"/>
<path class="c12" d="M218 193l9 1"/>
<path class="c8" d="M421 198l2-1l10 8l-3 1z"/>
<path class="c8" d="M244 198l3 0l9 4l-2 0z"/>
<path class="c8" d="M450 199l2-1l10 8l-3 1z"/>
<path class="c6" d="M273 201l3-1l9 5l-2 1z"/>
<path class="c7" d="M276 200l9 5"/>
<path class="c7" d="M302 200l3-1l9 6l-2 1z"/>
<path class="c8" d="M331 199l3-1l9 6l-2 1z"/>
<path class="c0" d="M154 213l3-1l9-12l-2 1z"/>
<path class="c5" d="M157 212l9-12"/>
<path class="c8" d="M360 198l3-1l9 7l-2 1z"/>
<path class="c10" d="M183 195l3 0l9-5l-2 0z"/>
<path class="c13" d="M186 195l9-5"/>
<path class="c8" d="M389 198l3-1l9 8l-2 1z"/>
<path class="c12" d="M212 192l3 0l9 1l-2-1z"/>
<path class="c13" d="M215 192l9 1"/>
<path class="c8" d="M418 199l3-1l9 8l-2 1z"/>
<path class="c8" d="M241 198l3 0l10 4l-3-1z"/>
<path class="c9" d="M244 198l10 4"/>
<path class="c8" d="M447 200l3-1l9 8l-2 1z"/>
<path class="c7" d="M270 202l3-1l10 5l-3 0z"/>
<path class="c7" d="M299 201l3-1l10 6l-3 0z"/>
<path class="c8" d="M328 200l3-1l10 6l-3 1z"/>
<path class="c0" d="M151 214l3-1l10-12l-3 1z"/>
<path class="c5" d="M154 213l10-12"/>
<path class="c8" d="M357 199l3-1l10 7l-3 2z"/>
<path class="c10" d="M180 196l3-1l10-5l-3 0z"/>
<path class="c14" d="M183 195l10-5"/>
<path class="c8" d="M386 199l3-1l10 8l-3 1z"/>
<path class="c13" d="M209 191l3 1l10 0l-3-1z"/>
<path class="c14" d="M212 192l10 0"/>
<path class="c8" d="M415 200l3-1l10 8l-3 1z"/>
<path class="c9" d="M238 197l3 1l10 3l-3 0z"/>
<path class="c10" d="M241 198l10 3"/>
<path class="c8" d="M444 201l3-1l10 8l-3 1z"/>
<path class="c7" d="M267 202l3 0l10 4l-3 1z"/>
<path class="c7" d="M296 202l3-1l10 5l-3 1z"/>
<path class="c8" d="M299 201l10 5"/>
<path class="c8" d="M325 201l3-1l10 6l-3 1z"/>
<path class="c0" d="M148 215l3-1l10-12l-3 2z"/>
<path class="c5" d="M151 214l10-12"/>
<path class="c8" d="M354 200l3-1l10 8l-3 1z"/>
<path class="c10" d="M178 197l2-1l10-6l-3 0z"/>
<path class="c14" d="M180 196l10-6"/>
<path class="c8" d="M383 200l3-1l10 8l-3 1z"/>
<path class="c13" d="M207 191l2 0l10 0l-3-1z"/>
<path class="c15" d="M209 191l10 0"/>
<path class="c8" d="M412 201l3-1l10 8l-3 1z"/>
<path class="c10" d="M236 197l2 0l10 4l-3-1z"/>
<path class="c11" d="M238 197l10 4"/>
<path class="c8" d="M441 202l3-1l10 8l-3 1z"/>
<path class="c7" d="M265 202l2 0l10 5l-3 0z"/>
<path class="c8" d="M267 202l10 5"/>
<path class="c7" d="M294 203l2-1l10 5l-3 1z"/>
<path class="c8" d="M296 202l10 5"/>
<path class="c8" d="M323 202l2-1l10 6l-3 1z"/>
<path class="c0" d="M146 216l2-1l10-11l-3 1z"/>
<path class="c5" d="M148 215l10-11"/>
<path class="c8" d="M352 201l2-1l10 8l-3 1z"/>
<path class="c10" d="M175 197l3 0l9-7l-3 1z"/>
<path class="c14" d="M178 197l9-7"/>
<path class="c8" d="M381 201l2-1l10 8l-3 1z"/>
<path class="c14" d="M204 190l3 1l9-1l-3-1z"/>
<path class="c16" d="M207 191l9-1"/>
<path class="c8" d="M410 202l2-1l10 8l-3 1z"/>
<path class="c11" d="M233 196l3 1l9 3l-3-1z"/>
<path class="c12" d="M236 197l9 3"/>
<path class="c8" d="M439 203l2-1l10 8l-3 1z"/>
<path class="c8" d="M262 202l3 0l9 5l-2 0z"/>
<path class="c7" d="M291 204l3-1l9 5l-2 1z"/>
<path class="c8" d="M294 203l9 5"/>
<path class="c8" d="M320 203l3-1l9 6l-2 1z"/>
<path class="c0" d="M143 217l3-1l9-11l-2 1z"/>
<path class="c5" d="M146 216l9-11"/>
<path class="c8" d="M349 202l3-1l9 8l-2 1z"/>
<path class="c11" d="M172 198l3-1l9-6l-2 1z"/>
<path class="c14" d="M175 197l9-6"/>
<path class="c8" d="M378 202l3-1l9 8l-2 1z"/>
<path class="c15" d="M201 190l3 0l9-1l-2-1z"/>
<path class="c17" d="M204 190l9-1"/>
<path class="c8" d="M407 203l3-1l9 8l-2 1z"/>
<path class="c12" d="M230 195l3 1l9 3l-2-2z"/>
<path class="c13" d="M233 196l9 3"/>
<path class="c8" d="M436 204l3-1l9 8l-2 1z"/>
<path class="c8" d="M259 203l3-1l10 5l-3 0z"/>
<path class="c9" d="M262 202l10 5"/>
<path class="c7" d="M465 205l3-1l9 7l-2 1z"/>
<path class="c7" d="M288 205l3-1l10 5l-3 1z"/>
<path class="c8" d="M291 204l10 5"/>
<path class="c8" d="M317 204l3-1l10 6l-3 1z"/>
<path class="c0" d="M140 218l3-1l10-11l-3 2z"/>
<path class="c5" d="M143 217l10-11"/>
<path class="c8" d="M346 203l3-1l10 8l-3 1z"/>
<path class="c11" d="M169 199l3-1l10-6l-3 1z"/>
<path class="c15" d="M172 198l10-6"/>
<path class="c8" d="M375 203l3-1l10 8l-3 1z"/>
<path class="c16" d="M198 190l3 0l10-2l-3 0z"/>
<path class="c18" d="M201 190l10-2"/>
<path class="c8" d="M404 204l3-1l10 8l-3 1z"/>
<path class="c13" d="M227 194l3 1l10 2l-3-1z"/>
<path class="c14" d="M230 195l10 2"/>
<path class="c8" d="M433 205l3-1l10 8l-3 1z"/>
<path class="c9" d="M256 202l3 1l10 4l-3-1z"/>
<path class="c7" d="M462 206l3-1l10 7l-3 1z"/>
<path class="c8" d="M285 205l3 0l10 5l-3 0z"/>
<path class="c8" d="M314 205l3-1l10 6l-3 1z"/>
<path class="c0" d="M137 219l3-1l10-10l-3 2z"/>
<path class="c5" d="M140 218l10-10"/>
<path class="c8" d="M343 204l3-1l10 8l-3 1z"/>
<path class="c11" d="M166 200l3-1l10-6l-3 1z"/>
<path class="c15" d="M169 199l10-6"/>
<path class="c8" d="M372 204l3-1l10 8l-3 1z"/>
<path class="c16" d="M195 190l3 0l10-2l-3-1z"/>
<path class="c19" d="M198 190l10-2"/>
<path class="c8" d="M401 205l3-1l10 8l-3 1z"/>
<path class="c14" d="M224 193l3 1l10 2l-3-2z"/>
<path class="c15" d="M227 194l10 2"/>
<path class="c8" d="M430 206l3-1l10 8l-3 1z"/>
<path class="c10" d="M254 202l2 0l10 4l-3 0z"/>
<path class="c7" d="M459 207l3-1l10 7l-3 1z"/>
<path class="c8" d="M283 206l2-1l10 5l-3 1z"/>
<path class="c8" d="M312 206l2-1l10 6l-3 1z"/>
<path class="c0" d="M135 220l2-1l10-9l-3 1z"/>
<path class="c5" d="M137 219l10-9"/>
<path class="c8" d="M341 205l2-1l10 8l-3 1z"/>
<path class="c11" d="M164 201l2-1l10-6l-3 1z"/>
<path class="c15" d="M166 200l10-6"/>
<path class="c8" d="M370 205l2-1l10 8l-3 1z"/>
<path class="c17" d="M193 190l2 0l10-3l-3 0z"/>
<path class="c19" d="M195 190l10-3"/>
<path class="c8" d="M399 206l2-1l10 8l-3 1z"/>
<path class="c15" d="M222 192l2 1l10 1l-3-1z"/>
<path class="c17" d="M224 193l10 1"/>
<path class="c8" d="M428 207l2-1l10 8l-3 1z"/>
<path class="c10" d="M251 201l3 1l9 4l-3-1z"/>
<path class="c11" d="M254 202l9 4"/>
<path class="c7" d="M457 208l2-1l10 7l-3 1z"/>
<path class="c8" d="M280 206l3 0l9 5l-3 0z"/>
<path class="c8" d="M309 206l3 0l9 6l-3 1z"/>
<path class="c0" d="M132 221l3-1l9-9l-2 2z"/>
<path class="c4" d="M135 220l9-9"/>
<path class="c8" d="M338 206l3-1l9 8l-2 1z"/>
<path class="c11" d="M161 202l3-1l9-6l-2 2z"/>
<path class="c14" d="M164 201l9-6"/>
<path class="c8" d="M367 207l3-2l9 8l-2 1z"/>
<path class="c17" d="M190 190l3 0l9-3l-2 0z"/>
<path class="c20" d="M193 190l9-3"/>
<path class="c8" d="M396 207l3-1l9 8l-2 1z"/>
<path class="c17" d="M219 191l3 1l9 1l-2-2z"/>
<path class="c18" d="M222 192l9 1"/>
<path class="c8" d="M425 208l3-1l9 8l-2 1z"/>
<path class="c11" d="M248 201l3 0l9 4l-2-1z"/>
<path class="c12" d="M251 201l9 4"/>
<path class="c7" d="M454 209l3-1l9 7l-2 1z"/>
<path class="c8" d="M277 207l3-1l9 5l-2 1z"/>
<path class="c9" d="M280 206l9 5"/>
<path class="c8" d="M306 207l3-1l9 7l-2 1z"/>
<path class="c0" d="M129 222l3-1l10-8l-3 2z"/>
<path class="c4" d="M132 221l10-8"/>
<path class="c8" d="M335 207l3-1l10 8l-3 1z"/>
<path class="c11" d="M158 204l3-2l10-5l-3 1z"/>
<path class="c14" d="M161 202l10-5"/>
<path class="c8" d="M364 208l3-1l10 7l-3 1z"/>
<path class="c18" d="M187 190l3 0l10-3l-3 1z"/>
<path class="c20" d="M190 190l10-3"/>
<path class="c8" d="M393 208l3-1l10 8l-3 1z"/>
<path class="c18" d="M216 190l3 1l10 0l-3-2z"/>
<path class="c19" d="M219 191l10 0"/>
<path class="c8" d="M422 209l3-1l10 8l-3 1z"/>
<path class="c12" d="M245 200l3 1l10 3l-3-2z"/>
<path class="c13" d="M248 201l10 3"/>
<path class="c7" d="M451 210l3-1l10 7l-3 1z"/>
<path class="c9" d="M274 207l3 0l10 5l-3 0z"/>
<path class="c8" d="M303 208l3-1l10 7l-3 0z"/>
<path class="c9" d="M306 207l10 7"/>
<path class="c0" d="M126 223l3-1l10-7l-3 2z"/>
<path class="c4" d="M129 222l10-7"/>
<path class="c9" d="M332 208l3-1l10 8l-3 1z"/>
<path class="c8" d="M335 207l10 8"/>
<path class="c10" d="M155 205l3-1l10-6l-3 2z"/>
<path class="c14" d="M158 204l10-6"/>
<path class="c8" d="M361 209l3-1l10 7l-3 1z"/>
<path class="c18" d="M184 191l3-1l10-2l-3 0z"/>
<path class="c21" d="M187 190l10-2"/>
<path class="c8" d="M390 209l3-1l10 8l-3 1z"/>
<path class="c19" d="M213 189l3 1l10-1l-3-1z"/>
<path class="c21" d="M216 190l10-1"/>
<path class="c8" d="M419 210l3-1l10 8l-3 1z"/>
<path class="c7" d="M422 209l10 8"/>
<path class="c14" d="M242 199l3 1l10 2l-3-1z"/>
<path class="c7" d="M448 211l3-1l10 7l-3 1z"/>
<path class="c9" d="M272 207l2 0l10 5l-3 0z"/>
<path class="c10" d="M274 207l10 5"/>
<path class="c8" d="M301 209l2-1l10 6l-3 1z"/>
<path class="c9" d="M303 208l10 6"/>
<path class="c0" d="M124 224l2-1l10-6l-3 2z"/>
<path class="c4" d="M126 223l10-6"/>
<path class="c9" d="M330 209l2-1l10 8l-3 1z"/>
<path class="c8" d="M332 208l10 8"/>
<path class="c10" d="M153 206l2-1l10-5l-3 2z"/>
<path class="c14" d="M155 205l10-5"/>
<path class="c8" d="M359 210l2-1l10 7l-3 1z"/>
<path class="c18" d="M182 192l2-1l10-3l-3 1z"/>
<path class="c21" d="M184 191l10-3"/>
<path class="c8" d="M388 210l2-1l10 8l-3 1z"/>
<path class="c20" d="M211 188l2 1l10-1l-3-1z"/>
<path class="c22" d="M213 189l10-1"/>
<path class="c8" d="M417 211l2-1l10 8l-3 1z"/>
<path class="c7" d="M419 210l10 8"/>
<path class="c15" d="M240 197l2 2l10 2l-3-2z"/>
<path class="c16" d="M242 199l10 2"/>
<path class="c7" d="M446 212l2-1l10 7l-3 1z"/>
<path class="c10" d="M269 207l3 0l9 5l-3-1z"/>
<path class="c7" d="M475 212l2-1l10 8l-3 1z"/>
<path class="c9" d="M298 210l3-1l9 6l-3 1z"/>
<path class="c0" d="M121 225l3-1l9-5l-2 2z"/>
<path class="c3" d="M124 224l9-5"/>
<path class="c9" d="M327 210l3-1l9 8l-3 1z"/>
<path class="c8" d="M330 209l9 8"/>
<path class="c10" d="M150 208l3-2l9-4l-2 3z"/>
<path class="c13" d="M153 206l9-4"/>
<path class="c8" d="M356 211l3-1l9 7l-2 1z"/>
<path class="c18" d="M179 193l3-1l9-3l-2 1z"/>
<path class="c21" d="M182 192l9-3"/>
<path class="c8" d="M385 211l3-1l9 8l-2 1z"/>
<path class="c21" d="M208 188l3 0l9-1l-2-1z"/>
<path class="c23" d="M211 188l9-1"/>
<path class="c8" d="M414 212l3-1l9 8l-2 1z"/>
<path class="c7" d="M417 211l9 8"/>
<path class="c16" d="M237 196l3 1l9 2l-2-2z"/>
<path class="c17" d="M240 197l9 2"/>
<path class="c7" d="M443 213l3-1l9 7l-2 1z"/>
<path class="c11" d="M266 206l3 1l9 4l-2 0z"/>
<path class="c7" d="M472 213l3-1l9 8l-2 1z"/>
<path class="c9" d="M295 210l3 0l9 6l-2 1z"/>
<path class="c0" d="M118 226l3-1l10-4l-3 2z"/>
<path class="c3" d="M121 225l10-4"/>
<path class="c9" d="M324 211l3-1l9 8l-2 0z"/>
<path class="c8" d="M327 210l9 8"/>
<path class="c10" d="M147 210l3-2l10-3l-3 2z"/>
<path class="c13" d="M150 208l10-3"/>
<path class="c8" d="M353 212l3-1l10 7l-3 1z"/>
<path class="c18" d="M176 194l3-1l10-3l-3 1z"/>
<path class="c21" d="M179 193l10-3"/>
<path class="c8" d="M382 212l3-1l10 8l-3 1z"/>
<path class="c22" d="M205 187l3 1l10-2l-3-1z"/>
<path class="c24" d="M208 188l10-2"/>
<path class="c8" d="M411 213l3-1l10 8l-3 1z"/>
<path class="c7" d="M414 212l10 8"/>
<path class="c18" d="M234 194l3 2l10 1l-3-3z"/>
<path class="c19" d="M237 196l10 1"/>
<path class="c7" d="M440 214l3-1l10 7l-3 1z"/>
<path class="c11" d="M263 206l3 0l10 5l-3-1z"/>
<path class="c12" d="M266 206l10 5"/>
<path class="c7" d="M469 214l3-1l10 8l-3 1z"/>
<path class="c9" d="M292 211l3-1l10 7l-3 0z"/>
<path class="c0" d="M115 227l3-1l10-3l-3 2z"/>
<path class="c3" d="M118 226l10-3"/>
<path class="c9" d="M321 212l3-1l10 7l-3 1z"/>
<path class="c9" d="M144 211l3-1l10-3l-3 3z"/>
<path class="c12" d="M147 210l10-3"/>
<path class="c8" d="M350 213l3-1l10 7l-3 1z"/>
<path class="c18" d="M173 195l3-1l10-3l-3 2z"/>
<path class="c21" d="M176 194l10-3"/>
<path class="c8" d="M379 213l3-1l10 8l-3 1z"/>
<path class="c22" d="M202 187l3 0l10-2l-3 0z"/>
<path class="c25" d="M205 187l10-2"/>
<path class="c8" d="M408 214l3-1l10 8l-3 1z"/>
<path class="c7" d="M411 213l10 8"/>
<path class="c19" d="M231 193l3 1l10 0l-3-2z"/>
<path class="c20" d="M234 194l10 0"/>
<path class="c7" d="M437 215l3-1l10 7l-3 1z"/>
<path class="c12" d="M260 205l3 1l10 4l-3-1z"/>
<path class="c13" d="M263 206l10 4"/>
<path class="c7" d="M466 215l3-1l10 8l-3 1z"/>
<path class="c9" d="M289 211l3 0l10 6l-3 0z"/>
<path class="c0" d="M113 228l2-1l10-2l-3 2z"/>
<path class="c3" d="M115 227l10-2"/>
<path class="c9" d="M318 213l3-1l10 7l-3 1z"/>
<path class="c9" d="M142 213l2-2l10-1l-3 3z"/>
<path class="c11" d="M144 211l10-1"/>
<path class="c8" d="M348 214l2-1l10 7l-3 1z"/>
<path class="c18" d="M171 197l2-2l10-2l-3 2z"/>
<path class="c21" d="M173 195l10-2"/>
<path class="c8" d="M377 214l2-1l10 8l-3 1z"/>
<path class="c23" d="M200 187l2 0l10-2l-3 0z"/>
<path class="c25" d="M202 187l10-2"/>
<path class="c8" d="M406 215l2-1l10 8l-3 1z"/>
<path class="c7" d="M408 214l10 8"/>
<path class="c21" d="M229 191l2 2l10-1l-3-2z"/>
<path class="c22" d="M231 193l10-1"/>
<path class="c7" d="M435 216l2-1l10 7l-3 1z"/>
<path class="c14" d="M258 204l2 1l10 4l-3-2z"/>
<path class="c7" d="M464 216l2-1l10 8l-3 1z"/>
<path class="c10" d="M287 212l2-1l10 6l-3 1z"/>
<path class="c0" d="M110 229l3-1l9-1l-2 2z"/>
<path class="c2" d="M113 228l9-1"/>
<path class="c9" d="M316 214l2-1l10 7l-3 1z"/>
<path class="c8" d="M139 215l3-2l9 0l-2 3z"/>
<path class="c11" d="M142 213l9 0"/>
<path class="c8" d="M345 215l3-1l9 7l-3 1z"/>
<path class="c18" d="M168 198l3-1l9-2l-2 2z"/>
<path class="c20" d="M171 197l9-2"/>
<path class="c8" d="M374 215l3-1l9 8l-3 1z"/>
<path class="c24" d="M197 188l3-1l9-2l-2 0z"/>
<path class="c26" d="M200 187l9-2"/>
<path class="c8" d="M403 216l3-1l9 8l-3 1z"/>
<path class="c7" d="M406 215l9 8"/>
<path class="c22" d="M226 189l3 2l9-1l-2-2z"/>
<path class="c24" d="M229 191l9-1"/>
<path class="c7" d="M432 217l3-1l9 7l-2 2z"/>
<path class="c15" d="M255 202l3 2l9 3l-2-2z"/>
<path class="c7" d="M461 217l3-1l9 8l-2 1z"/>
<path class="c10" d="M284 212l3 0l9 6l-2 0z"/>
<path class="c0" d="M107 230l3-1l10 0l-3 2z"/>
<path class="c2" d="M110 229l10 0"/>
<path class="c9" d="M313 214l3 0l9 7l-2 1z"/>
<path class="c8" d="M136 217l3-2l10 1l-3 2z"/>
<path class="c10" d="M139 215l10 1"/>
<path class="c8" d="M342 216l3-1l9 7l-2 1z"/>
<path class="c17" d="M165 200l3-2l10-1l-3 3z"/>
<path class="c20" d="M168 198l10-1"/>
<path class="c8" d="M371 216l3-1l9 8l-2 1z"/>
<path class="c24" d="M194 188l3 0l10-3l-3 1z"/>
<path class="c26" d="M197 188l10-3"/>
<path class="c8" d="M400 217l3-1l9 8l-2 1z"/>
<path class="c7" d="M403 216l9 8"/>
<path class="c23" d="M223 188l3 1l10-1l-3-2z"/>
<path class="c25" d="M226 189l10-1"/>
<path class="c7" d="M429 218l3-1l10 8l-3 1z"/>
<path class="c16" d="M252 201l3 1l10 3l-3-2z"/>
<path class="c17" d="M255 202l10 3"/>
<path class="c7" d="M458 218l3-1l10 8l-3 1z"/>
<path class="c11" d="M281 212l3 0l10 6l-3 0z"/>
<path class="c0" d="M104 231l3-1l10 1l-3 1z"/>
<path class="c2" d="M107 230l10 1"/>
<path class="c9" d="M310 215l3-1l10 8l-3 1z"/>
<path class="c7" d="M133 219l3-2l10 1l-3 3z"/>
<path class="c9" d="M136 217l10 1"/>
<path class="c8" d="M339 217l3-1l10 7l-3 1z"/>
<path class="c17" d="M162 202l3-2l10 0l-3 3z"/>
<path class="c19" d="M165 200l10 0"/>
<path class="c8" d="M368 217l3-1l10 8l-3 1z"/>
<path class="c24" d="M191 189l3-1l10-2l-3 1z"/>
<path class="c27" d="M194 188l10-2"/>
<path class="c8" d="M397 218l3-1l10 8l-3 1z"/>
<path class="c7" d="M400 217l10 8"/>
<path class="c25" d="M220 187l3 1l10-2l-3-2z"/>
<path class="c27" d="M223 188l10-2"/>
<path class="c7" d="M426 219l3-1l10 8l-3 1z"/>
<path class="c18" d="M249 199l3 2l10 2l-3-2z"/>
<path class="c7" d="M455 219l3-1l10 8l-3 1z"/>
<path class="c11" d="M278 211l3 1l10 6l-3-1z"/>
<path class="c0" d="M102 232l2-1l10 1l-3 2z"/>
<path class="c2" d="M104 231l10 1"/>
<path class="c7" d="M484 220l3-1l10 9l-3 1z"/>
<path class="c6" d="M487 219l10 9"/>
<path class="c9" d="M307 216l3-1l10 8l-3 0z"/>
<path class="c7" d="M131 221l2-2l10 2l-3 3z"/>
<path class="c8" d="M133 219l10 2"/>
<path class="c8" d="M336 218l3-1l10 7l-3 1z"/>
<path class="c16" d="M160 205l2-3l10 1l-3 3z"/>
<path class="c18" d="M162 202l10 1"/>
<path class="c8" d="M366 218l2-1l10 8l-3 1z"/>
<path class="c24" d="M189 190l2-1l10-2l-3 1z"/>
<path class="c27" d="M191 189l10-2"/>
<path class="c8" d="M395 219l2-1l10 8l-3 1z"/>
<path class="c7" d="M397 218l10 8"/>
<path class="c26" d="M218 186l2 1l10-3l-3-1z"/>
<path class="c28" d="M220 187l10-3"/>
<path class="c7" d="M424 220l2-1l10 8l-3 1z"/>
<path class="c20" d="M247 197l2 2l10 2l-3-3z"/>
<path class="c7" d="M453 220l2-1l10 8l-3 1z"/>
<path class="c12" d="M276 211l2 0l10 6l-3-1z"/>
<path class="c0" d="M99 233l3-1l9 2l-3 2z"/>
<path class="c2" d="M102 232l9 2"/>
<path class="c7" d="M482 221l2-1l10 9l-3 1z"/>
<path class="c6" d="M484 220l10 9"/>
<path class="c9" d="M305 217l2-1l10 7l-3 1z"/>
<path class="c6" d="M128 223l3-2l9 3l-2 3z"/>
<path class="c8" d="M131 221l9 3"/>
<path class="c8" d="M334 218l2 0l10 7l-3 1z"/>
<path class="c15" d="M157 207l3-2l9 1l-2 3z"/>
<path class="c17" d="M160 205l9 1"/>
<path class="c8" d="M363 219l3-1l9 8l-3 1z"/>
<path class="c24" d="M186 191l3-1l9-2l-2 2z"/>
<path class="c27" d="M189 190l9-2"/>
<path class="c8" d="M392 220l3-1l9 8l-3 1z"/>
<path class="c7" d="M395 219l9 8"/>
<path class="c27" d="M215 185l3 1l9-3l-2-1z"/>
<path class="c29" d="M218 186l9-3"/>
<path class="c7" d="M421 221l3-1l9 8l-3 1z"/>
<path class="c21" d="M244 194l3 3l9 1l-2-3z"/>
<path class="c22" d="M247 197l9 1"/>
<path class="c7" d="M450 221l3-1l9 8l-2 1z"/>
<path class="c13" d="M273 210l3 1l9 5l-2-1z"/>
<path class="c0" d="M96 234l3-1l9 3l-2 1z"/>
<path class="c1" d="M99 233l9 3"/>
<path class="c7" d="M479 222l3-1l9 9l-2 1z"/>
<path class="c6" d="M482 221l9 9"/>
<path class="c10" d="M302 217l3 0l9 7l-2 1z"/>
<path class="c9" d="M305 217l9 7"/>
<path class="c5" d="M125 225l3-2l10 4l-3 2z"/>
<path class="c7" d="M128 223l10 4"/>
<path class="c8" d="M331 219l3-1l9 8l-2 1z"/>
<path class="c14" d="M154 210l3-3l10 2l-3 4z"/>
<path class="c16" d="M157 207l10 2"/>
<path class="c8" d="M360 220l3-1l9 8l-2 1z"/>
<path class="c24" d="M183 193l3-2l10-1l-3 2z"/>
<path class="c26" d="M186 191l10-1"/>
<path class="c8" d="M389 221l3-1l9 8l-2 1z"/>
<path class="c7" d="M392 220l9 8"/>
<path class="c28" d="M212 185l3 0l10-3l-3-1z"/>
<path class="c30" d="M215 185l10-3"/>
<path class="c7" d="M418 222l3-1l9 8l-2 1z"/>
<path class="c23" d="M241 192l3 2l10 1l-3-3z"/>
<path class="c24" d="M244 194l10 1"/>
<path class="c7" d="M447 222l3-1l10 8l-3 1z"/>
<path class="c14" d="M270 209l3 1l10 5l-3-1z"/>
<path class="c0" d="M93 235l3-1l10 3l-3 2z"/>
<path class="c1" d="M96 234l10 3"/>
<path class="c7" d="M476 223l3-1l10 9l-3 1z"/>
<path class="c6" d="M479 222l10 9"/>
<path class="c10" d="M299 217l3 0l10 8l-3 0z"/>
<path class="c5" d="M122 227l3-2l10 4l-3 2z"/>
<path class="c6" d="M125 225l10 4"/>
<path class="c9" d="M328 220l3-1l10 8l-3 1z"/>
<path class="c8" d="M331 219l10 8"/>
<path class="c13" d="M151 213l3-3l10 3l-3 3z"/>
<path class="c15" d="M154 210l10 3"/>
<path class="c8" d="M357 221l3-1l10 8l-3 1z"/>
<path class="c23" d="M180 195l3-2l10-1l-3 3z"/>
<path class="c26" d="M183 193l10-1"/>
<path class="c8" d="M386 222l3-1l10 8l-3 1z"/>
<path class="c7" d="M389 221l10 8"/>
<path class="c28" d="M209 185l3 0l10-4l-3 0z"/>
<path class="c31" d="M212 185l10-4"/>
<path class="c7" d="M415 223l3-1l10 8l-3 1z"/>
<path class="c25" d="M238 190l3 2l10 0l-3-3z"/>
<path class="c26" d="M241 192l10 0"/>
<path class="c7" d="M444 223l3-1l10 8l-3 1z"/>
<path class="c16" d="M267 207l3 2l10 5l-3-2z"/>
<path class="c0" d="M91 236l2-1l10 4l-3 1z"/>
<path class="c1" d="M93 235l10 4"/>
<path class="c7" d="M473 224l3-1l10 9l-3 1z"/>
<path class="c6" d="M476 223l10 9"/>
<path class="c10" d="M296 218l3-1l10 8l-3 0z"/>
<path class="c4" d="M120 229l2-2l10 4l-3 3z"/>
<path class="c6" d="M122 227l10 4"/>
<path class="c9" d="M325 221l3-1l10 8l-3 1z"/>
<path class="c8" d="M328 220l10 8"/>
<path class="c12" d="M149 216l2-3l10 3l-3 4z"/>
<path class="c14" d="M151 213l10 3"/>
<path class="c8" d="M354 222l3-1l10 8l-3 1z"/>
<path class="c23" d="M178 197l2-2l10 0l-3 3z"/>
<path class="c25" d="M180 195l10 0"/>
<path class="c8" d="M383 223l3-1l10 8l-3 1z"/>
<path class="c29" d="M207 185l2 0l10-4l-3 0z"/>
<path class="c32" d="M209 185l10-4"/>
<path class="c7" d="M412 224l3-1l10 8l-3 1z"/>
<path class="c27" d="M236 188l2 2l10-1l-3-2z"/>
<path class="c28" d="M238 190l10-1"/>
<path class="c7" d="M442 225l2-2l10 8l-3 1z"/>
<path class="c17" d="M265 205l2 2l10 5l-3-2z"/>
<path class="c0" d="M88 237l3-1l9 4l-3 1z"/>
<path class="c1" d="M91 236l9 4"/>
<path class="c7" d="M471 225l2-1l10 9l-3 1z"/>
<path class="c6" d="M473 224l10 9"/>
<path class="c11" d="M294 218l2 0l10 7l-3 0z"/>
<path class="c4" d="M117 231l3-2l9 5l-3 2z"/>
<path class="c5" d="M120 229l9 5"/>
<path class="c9" d="M323 222l2-1l10 8l-3 1z"/>
<path class="c11" d="M146 218l3-2l9 4l-2 3z"/>
<path class="c13" d="M149 216l9 4"/>
<path class="c8" d="M352 223l2-1l10 8l-3 1z"/>
<path class="c22" d="M175 200l3-3l9 1l-2 3z"/>
<path class="c24" d="M178 197l9 1"/>
<path class="c8" d="M381 224l2-1l10 8l-3 1z"/>
<path class="c29" d="M204 186l3-1l9-4l-2 1z"/>
<path class="c32" d="M207 185l9-4"/>
<path class="c7" d="M410 225l2-1l10 8l-3 1z"/>
<path class="c29" d="M233 186l3 2l9-1l-2-3z"/>
<path class="c30" d="M236 188l9-1"/>
<path class="c7" d="M439 226l3-1l9 7l-3 1z"/>
<path class="c19" d="M262 203l3 2l9 5l-2-3z"/>
<path class="c0" d="M85 238l3-1l9 4l-2 2z"/>
<path class="c1" d="M88 237l9 4"/>
<path class="c1" d="M85 238l10 5"/>
<path class="c7" d="M468 226l3-1l9 9l-3 1z"/>
<path class="c6" d="M471 225l9 9"/>
<path class="c11" d="M291 218l3 0l9 7l-2 0z"/>
<path class="c4" d="M114 232l3-1l9 5l-2 2z"/>
<path class="c9" d="M320 223l3-1l9 8l-2 1z"/>
<path class="c10" d="M143 221l3-3l10 5l-3 4z"/>
<path class="c12" d="M146 218l10 5"/>
<path class="c8" d="M349 224l3-1l9 8l-2 1z"/>
<path class="c21" d="M172 203l3-3l10 1l-3 4z"/>
<path class="c23" d="M175 200l10 1"/>
<path class="c8" d="M378 225l3-1l9 8l-2 1z"/>
<path class="c29" d="M201 187l3-1l10-4l-3 1z"/>
<path class="c32" d="M204 186l10-4"/>
<path class="c7" d="M407 226l3-1l9 8l-2 1z"/>
<path class="c30" d="M230 184l3 2l10-2l-3-2z"/>
<path class="c32" d="M233 186l10-2"/>
<path class="c7" d="M436 227l3-1l9 7l-2 1z"/>
<path class="c21" d="M259 201l3 2l10 4l-3-3z"/>
<path class="c7" d="M465 227l3-1l9 9l-2 1z"/>
<path class="c6" d="M468 226l9 9"/>
<path class="c12" d="M288 217l3 1l10 7l-3-1z"/>
<path class="c3" d="M111 234l3-2l10 6l-3 1z"/>
<path class="c4" d="M114 232l10 6"/>
<path class="c6" d="M494 229l3-1l9 10l-2 1z"/>
<path class="c5" d="M497 228l9 10"/>
<path class="c9" d="M317 223l3 0l10 8l-3 0z"/>
<path class="c9" d="M140 224l3-3l10 6l-3 3z"/>
<path class="c10" d="M143 221l10 6"/>
<path class="c8" d="M346 225l3-1l10 8l-3 1z"/>
<path class="c20" d="M169 206l3-3l10 2l-3 4z"/>
<path class="c22" d="M172 203l10 2"/>
<path class="c8" d="M375 226l3-1l10 8l-3 1z"/>
<path class="c29" d="M198 188l3-1l10-4l-3 2z"/>
<path class="c32" d="M201 187l10-4"/>
<path class="c7" d="M404 227l3-1l10 8l-3 1z"/>
<path class="c32" d="M227 183l3 1l10-2l-3-1z"/>
<path class="c34" d="M230 184l10-2"/>
<path class="c7" d="M433 228l3-1l10 7l-3 1z"/>
<path class="c23" d="M256 198l3 3l10 3l-3-3z"/>
<path class="c7" d="M462 228l3-1l10 9l-3 1z"/>
<path class="c6" d="M465 227l10 9"/>
<path class="c13" d="M285 216l3 1l10 7l-3-1z"/>
<path class="c3" d="M108 236l3-2l10 5l-3 2z"/>
<path class="c4" d="M111 234l10 5"/>
<path class="c6" d="M491 230l3-1l10 10l-3 1z"/>
<path class="c5" d="M494 229l10 10"/>
<path class="c9" d="M314 224l3-1l10 8l-3 1z"/>
<path class="c8" d="M138 227l2-3l10 6l-3 3z"/>
<path class="c9" d="M140 224l10 6"/>
<path class="c8" d="M343 226l3-1l10 8l-3 1z"/>
<path class="c18" d="M167 209l2-3l10 3l-3 4z"/>
<path class="c20" d="M169 206l10 3"/>
<path class="c8" d="M372 227l3-1l10 8l-3 1z"/>
<path class="c29" d="M196 190l2-2l10-3l-3 2z"/>
<path class="c32" d="M198 188l10-3"/>
<path class="c7" d="M401 228l3-1l10 8l-3 1z"/>
<path class="c33" d="M225 182l2 1l10-2l-3-2z"/>
<path class="c35" d="M227 183l10-2"/>
<path class="c7" d="M430 229l3-1l10 7l-3 2z"/>
<path class="c25" d="M254 195l2 3l10 3l-3-4z"/>
<path class="c7" d="M460 229l2-1l10 9l-3 1z"/>
<path class="c6" d="M462 228l10 9"/>
<path class="c14" d="M283 215l2 1l10 7l-3-1z"/>
<path class="c3" d="M106 237l2-1l10 5l-3 2z"/>
<path class="c6" d="M489 231l2-1l10 10l-3 1z"/>
<path class="c5" d="M491 230l10 10"/>
<path class="c10" d="M312 225l2-1l10 8l-3 0z"/>
<path class="c9" d="M314 224l10 8"/>
<path class="c8" d="M135 229l3-2l9 6l-3 2z"/>
<path class="c8" d="M341 227l2-1l10 8l-3 1z"/>
<path class="c17" d="M164 213l3-4l9 4l-3 5z"/>
<path class="c19" d="M167 209l9 4"/>
<path class="c8" d="M370 228l2-1l10 8l-3 1z"/>
<path class="c28" d="M193 192l3-2l9-3l-3 3z"/>
<path class="c32" d="M196 190l9-3"/>
<path class="c7" d="M399 229l2-1l10 8l-3 1z"/>
<path class="c34" d="M222 181l3 1l9-3l-2 0z"/>
<path class="c36" d="M225 182l9-3"/>
<path class="c7" d="M428 230l2-1l10 8l-3 1z"/>
<path class="c27" d="M251 192l3 3l9 2l-2-3z"/>
<path class="c28" d="M254 195l9 2"/>
<path class="c7" d="M457 230l3-1l9 9l-3 1z"/>
<path class="c6" d="M460 229l9 9"/>
<path class="c15" d="M280 214l3 1l9 7l-2-2z"/>
<path class="c2" d="M103 239l3-2l9 6l-2 1z"/>
<path class="c3" d="M106 237l9 6"/>
<path class="c6" d="M486 232l3-1l9 10l-3 1z"/>
<path class="c5" d="M489 231l9 10"/>
<path class="c10" d="M309 225l3 0l9 7l-2 1z"/>
<path class="c9" d="M312 225l9 7"/>
<path class="c7" d="M132 231l3-2l9 6l-2 3z"/>
<path class="c8" d="M338 228l3-1l9 8l-2 1z"/>
<path class="c16" d="M161 216l3-3l9 5l-2 4z"/>
<path class="c17" d="M164 213l9 5"/>
<path class="c8" d="M367 229l3-1l9 8l-2 1z"/>
<path class="c28" d="M190 195l3-3l9-2l-2 4z"/>
<path class="c31" d="M193 192l9-2"/>
<path class="c7" d="M396 230l3-1l9 8l-2 1z"/>
<path class="c35" d="M219 181l3 0l10-2l-3 0z"/>
<path class="c37" d="M222 181l10-2"/>
<path class="c7" d="M425 231l3-1l9 8l-2 1z"/>
<path class="c29" d="M248 189l3 3l10 2l-3-3z"/>
<path class="c30" d="M251 192l10 2"/>
<path class="c7" d="M454 231l3-1l9 9l-2 1z"/>
<path class="c6" d="M457 230l9 9"/>
<path class="c17" d="M277 212l3 2l10 6l-3-2z"/>
<path class="c16" d="M280 214l10 6"/>
<path class="c2" d="M100 240l3-1l10 5l-3 1z"/>
<path class="c3" d="M103 239l10 5"/>
<path class="c6" d="M483 233l3-1l9 10l-2 1z"/>
<path class="c5" d="M486 232l9 10"/>
<path class="c10" d="M306 225l3 0l10 8l-3 0z"/>
<path class="c6" d="M129 234l3-3l10 7l-3 2z"/>
<path class="c7" d="M132 231l10 7"/>
<path class="c8" d="M335 229l3-1l10 8l-3 1z"/>
<path class="c14" d="M158 220l3-4l10 6l-3 4z"/>
<path class="c15" d="M161 216l10 6"/>
<path class="c8" d="M364 230l3-1l10 8l-3 1z"/>
<path class="c27" d="M187 198l3-3l10-1l-3 3z"/>
<path class="c30" d="M190 195l10-1"/>
<path class="c7" d="M393 231l3-1l10 8l-3 1z"/>
<path class="c35" d="M216 181l3 0l10-2l-3 0z"/>
<path class="c38" d="M219 181l10-2"/>
<path class="c7" d="M422 232l3-1l10 8l-3 1z"/>
<path class="c32" d="M245 187l3 2l10 2l-3-4z"/>
<path class="c7" d="M451 232l3-1l10 9l-3 1z"/>
<path class="c6" d="M454 231l10 9"/>
<path class="c19" d="M274 210l3 2l10 6l-3-2z"/>
<path class="c18" d="M277 212l10 6"/>
<path class="c2" d="M97 241l3-1l10 5l-3 2z"/>
<path class="c3" d="M100 240l10 5"/>
<path class="c6" d="M480 234l3-1l10 10l-3 1z"/>
<path class="c5" d="M483 233l10 10"/>
<path class="c11" d="M303 225l3 0l10 8l-3 0z"/>
<path class="c10" d="M306 225l10 8"/>
<path class="c5" d="M126 236l3-2l10 6l-3 2z"/>
<path class="c6" d="M129 234l10 6"/>
<path class="c8" d="M332 230l3-1l10 8l-3 1z"/>
<path class="c13" d="M156 223l2-3l10 6l-3 4z"/>
<path class="c14" d="M158 220l10 6"/>
<path class="c8" d="M361 231l3-1l10 8l-3 1z"/>
<path class="c25" d="M185 201l2-3l10-1l-3 5z"/>
<path class="c28" d="M187 198l10-1"/>
<path class="c7" d="M390 232l3-1l10 8l-3 1z"/>
<path class="c35" d="M214 182l2-1l10-2l-3 1z"/>
<path class="c38" d="M216 181l10-2"/>
<path class="c7" d="M419 233l3-1l10 8l-3 1z"/>
<path class="c34" d="M243 184l2 3l10 0l-3-2z"/>
<path class="c7" d="M448 233l3-1l10 9l-3 1z"/>
<path class="c6" d="M451 232l10 9"/>
<path class="c21" d="M272 207l2 3l10 6l-3-3z"/>
<path class="c20" d="M274 210l10 6"/>
<path class="c2" d="M95 243l2-2l10 6l-3 1z"/>
<path class="c2" d="M95 243l9 5"/>
<path class="c6" d="M477 235l3-1l10 10l-3 1z"/>
<path class="c5" d="M480 234l10 10"/>
<path class="c11" d="M301 225l2 0l10 8l-3 0z"/>
<path class="c5" d="M124 238l2-2l10 6l-3 2z"/>
<path class="c9" d="M330 231l2-1l10 8l-3 1z"/>
<path class="c8" d="M332 230l10 8"/>
<path class="c12" d="M153 227l3-4l9 7l-3 3z"/>
<path class="c8" d="M359 232l2-1l10 8l-3 1z"/>
<path class="c24" d="M182 205l3-4l9 1l-3 5z"/>
<path class="c27" d="M185 201l9 1"/>
<path class="c7" d="M388 233l2-1l10 8l-3 1z"/>
<path class="c35" d="M211 183l3-1l9-2l-3 1z"/>
<path class="c38" d="M214 182l9-2"/>
<path class="c7" d="M417 234l2-1l10 8l-3 1z"/>
<path class="c35" d="M240 182l3 2l9 1l-2-3z"/>
<path class="c36" d="M243 184l9 1"/>
<path class="c7" d="M446 234l2-1l10 9l-3 1z"/>
<path class="c6" d="M448 233l10 9"/>
<path class="c23" d="M269 204l3 3l9 6l-2-4z"/>
<path class="c22" d="M272 207l9 6"/>
<path class="c6" d="M475 236l2-1l10 10l-3 1z"/>
<path class="c5" d="M477 235l10 10"/>
<path class="c12" d="M298 224l3 1l9 8l-2-1z"/>
<path class="c4" d="M121 239l3-1l9 6l-2 1z"/>
<path class="c5" d="M124 238l9 6"/>
<path class="c5" d="M504 239l2-1l10 9l-3 1z"/>
<path class="c4" d="M506 238l10 9"/>
<path class="c9" d="M327 231l3 0l9 8l-2 0z"/>
<path class="c8" d="M330 231l9 8"/>
<path class="c10" d="M150 230l3-3l9 6l-2 3z"/>
<path class="c11" d="M153 227l9 6"/>
<path class="c8" d="M356 233l3-1l9 8l-2 1z"/>
<path class="c22" d="M179 209l3-4l9 2l-2 5z"/>
<path class="c25" d="M182 205l9 2"/>
<path class="c7" d="M385 234l3-1l9 8l-2 1z"/>
<path class="c35" d="M208 185l3-2l9-2l-2 3z"/>
<path class="c38" d="M211 183l9-2"/>
<path class="c7" d="M414 235l3-1l9 8l-2 1z"/>
<path class="c37" d="M237 181l3 1l10 0l-3-2z"/>
<path class="c38" d="M240 182l10 0"/>
<path class="c7" d="M443 235l3-1l9 9l-2 1z"/>
<path class="c6" d="M446 234l9 9"/>
<path class="c25" d="M266 201l3 3l10 5l-3-3z"/>
<path class="c6" d="M472 237l3-1l9 10l-2 1z"/>
<path class="c5" d="M475 236l9 10"/>
<path class="c13" d="M295 223l3 1l10 8l-3-1z"/>
<path class="c4" d="M118 241l3-2l10 6l-3 2z"/>
<path class="c5" d="M121 239l10 6"/>
<path class="c5" d="M501 240l3-1l9 9l-2 1z"/>
<path class="c4" d="M504 239l9 9"/>
<path class="c9" d="M324 232l3-1l10 8l-3 1z"/>
<path class="c9" d="M147 233l3-3l10 6l-3 3z"/>
<path class="c10" d="M150 230l10 6"/>
<path class="c8" d="M353 234l3-1l10 8l-3 1z"/>
<path class="c21" d="M176 213l3-4l10 3l-3 5z"/>
<path class="c23" d="M179 209l10 3"/>
<path class="c7" d="M382 235l3-1l10 8l-3 1z"/>
<path class="c35" d="M205 187l3-2l10-1l-3 2z"/>
<path class="c38" d="M208 185l10-1"/>
<path class="c7" d="M411 236l3-1l10 8l-3 1z"/>
<path class="c38" d="M234 179l3 2l10-1l-3-1z"/>
<path class="c40" d="M237 181l10-1"/>
<path class="c7" d="M440 237l3-2l10 9l-3 1z"/>
<path class="c6" d="M443 235l10 9"/>
<path class="c28" d="M263 197l3 4l10 5l-3-4z"/>
<path class="c27" d="M266 201l10 5"/>
<path class="c6" d="M469 238l3-1l10 10l-3 1z"/>
<path class="c5" d="M472 237l10 10"/>
<path class="c14" d="M292 222l3 1l10 8l-3-1z"/>
<path class="c4" d="M115 243l3-2l10 6l-3 1z"/>
<path class="c5" d="M498 241l3-1l10 9l-3 1z"/>
<path class="c4" d="M501 240l10 9"/>
<path class="c9" d="M321 232l3 0l10 8l-3 0z"/>
<path class="c8" d="M144 235l3-2l10 6l-3 3z"/>
<path class="c9" d="M147 233l10 6"/>
<path class="c8" d="M350 235l3-1l10 8l-3 1z"/>
<path class="c19" d="M173 218l3-5l10 4l-3 5z"/>
<path class="c21" d="M176 213l10 4"/>
<path class="c7" d="M379 236l3-1l10 8l-3 1z"/>
<path class="c34" d="M202 190l3-3l10-1l-3 4z"/>
<path class="c37" d="M205 187l10-1"/>
<path class="c7" d="M408 237l3-1l10 8l-3 1z"/>
<path class="c39" d="M232 179l2 0l10 0l-3-1z"/>
<path class="c41" d="M234 179l10 0"/>
<path class="c7" d="M437 238l3-1l10 8l-3 1z"/>
<path class="c6" d="M440 237l10 8"/>
<path class="c30" d="M261 194l2 3l10 5l-3-4z"/>
<path class="c6" d="M466 239l3-1l10 10l-3 1z"/>
<path class="c5" d="M469 238l10 10"/>
<path class="c16" d="M290 220l2 2l10 8l-3-2z"/>
<path class="c15" d="M292 222l10 8"/>
<path class="c3" d="M113 244l2-1l10 5l-3 2z"/>
<path class="c4" d="M115 243l10 5"/>
<path class="c5" d="M495 242l3-1l10 9l-3 1z"/>
<path class="c4" d="M498 241l10 9"/>
<path class="c10" d="M319 233l2-1l10 8l-3 1z"/>
<path class="c9" d="M321 232l10 8"/>
<path class="c7" d="M142 238l2-3l10 7l-3 2z"/>
<path class="c8" d="M144 235l10 7"/>
<path class="c8" d="M348 236l2-1l10 8l-3 1z"/>
<path class="c17" d="M171 222l2-4l10 4l-3 5z"/>
<path class="c19" d="M173 218l10 4"/>
<path class="c7" d="M377 237l2-1l10 8l-3 1z"/>
<path class="c33" d="M200 194l2-4l10 0l-3 4z"/>
<path class="c36" d="M202 190l10 0"/>
<path class="c7" d="M406 238l2-1l10 8l-3 1z"/>
<path class="c40" d="M229 179l3 0l9-1l-3 0z"/>
<path class="c42" d="M232 179l9-1"/>
<path class="c7" d="M435 239l2-1l10 8l-3 1z"/>
<path class="c6" d="M437 238l10 8"/>
<path class="c33" d="M258 191l3 3l9 4l-3-3z"/>
<path class="c32" d="M261 194l9 4"/>
<path class="c6" d="M464 240l2-1l10 10l-3 1z"/>
<path class="c5" d="M466 239l10 10"/>
<path class="c17" d="M287 218l3 2l9 8l-3-2z"/>
<path class="c16" d="M290 220l9 8"/>
<path class="c3" d="M110 245l3-1l9 6l-2 1z"/>
<path class="c4" d="M113 244l9 6"/>
<path class="c5" d="M493 243l2-1l10 9l-3 1z"/>
<path class="c4" d="M495 242l10 9"/>
<path class="c10" d="M316 233l3 0l9 8l-2 0z"/>
<path class="c7" d="M139 240l3-2l9 6l-2 2z"/>
<path class="c8" d="M345 237l3-1l9 8l-2 1z"/>
<path class="c15" d="M168 226l3-4l9 5l-2 4z"/>
<path class="c17" d="M171 222l9 5"/>
<path class="c7" d="M374 238l3-1l9 8l-2 1z"/>
<path class="c31" d="M197 197l3-3l9 0l-2 5z"/>
<path class="c34" d="M200 194l9 0"/>
<path class="c7" d="M403 239l3-1l9 8l-2 1z"/>
<path class="c41" d="M226 179l3 0l9-1l-2 1z"/>
<path class="c43" d="M229 179l9-1"/>
<path class="c7" d="M432 240l3-1l9 8l-2 1z"/>
<path class="c6" d="M435 239l9 8"/>
<path class="c35" d="M255 187l3 4l9 4l-2-3z"/>
<path class="c6" d="M461 241l3-1l9 10l-2 1z"/>
<path class="c5" d="M464 240l9 10"/>
<path class="c19" d="M284 216l3 2l9 8l-2-2z"/>
<path class="c18" d="M287 218l9 8"/>
<path class="c3" d="M107 247l3-2l10 6l-3 1z"/>
<path class="c4" d="M110 245l10 6"/>
<path class="c5" d="M490 244l3-1l9 9l-2 1z"/>
<path class="c4" d="M493 243l9 9"/>
<path class="c10" d="M313 233l3 0l10 8l-3 0z"/>
<path class="c6" d="M136 242l3-2l10 6l-3 2z"/>
<path class="c7" d="M139 240l10 6"/>
<path class="c8" d="M342 238l3-1l10 8l-3 0z"/>
<path class="c14" d="M165 230l3-4l10 5l-3 5z"/>
<path class="c15" d="M168 226l10 5"/>
<path class="c7" d="M371 239l3-1l10 8l-3 1z"/>
<path class="c29" d="M194 202l3-5l10 2l-3 5z"/>
<path class="c32" d="M197 197l10 2"/>
<path class="c7" d="M400 240l3-1l10 8l-3 1z"/>
<path class="c41" d="M223 180l3-1l10 0l-3 1z"/>
<path class="c43" d="M226 179l10 0"/>
<path class="c7" d="M429 241l3-1l10 8l-3 1z"/>
<path class="c6" d="M432 240l10 8"/>
<path class="c37" d="M252 185l3 2l10 5l-3-3z"/>
<path class="c6" d="M458 242l3-1l10 10l-3 1z"/>
<path class="c5" d="M461 241l10 10"/>
<path class="c21" d="M281 213l3 3l10 8l-3-3z"/>
<path class="c20" d="M284 216l10 8"/>
<path class="c3" d="M104 248l3-1l10 5l-3 1z"/>
<path class="c3" d="M104 248l10 5"/>
<path class="c5" d="M487 245l3-1l10 9l-3 1z"/>
<path class="c4" d="M490 244l10 9"/>
<path class="c11" d="M310 233l3 0l10 8l-3 0z"/>
<path class="c6" d="M133 244l3-2l10 6l-3 2z"/>
<path class="c8" d="M339 239l3-1l10 7l-3 1z"/>
<path class="c12" d="M162 233l3-3l10 6l-3 3z"/>
<path class="c13" d="M165 230l10 6"/>
<path class="c7" d="M368 240l3-1l10 8l-3 1z"/>
<path class="c27" d="M191 207l3-5l10 2l-3 6z"/>
<path class="c30" d="M194 202l10 2"/>
<path class="c7" d="M397 241l3-1l10 8l-3 1z"/>
<path class="c41" d="M220 181l3-1l10 0l-3 2z"/>
<path class="c43" d="M223 180l10 0"/>
<path class="c7" d="M426 242l3-1l10 8l-3 1z"/>
<path class="c6" d="M429 241l10 8"/>
<path class="c39" d="M250 182l2 3l10 4l-3-3z"/>
<path class="c6" d="M455 243l3-1l10 10l-3 1z"/>
<path class="c5" d="M458 242l10 10"/>
<path class="c24" d="M279 209l2 4l10 8l-3-4z"/>
<path class="c22" d="M281 213l10 8"/>
<path class="c5" d="M484 246l3-1l10 9l-3 1z"/>
<path class="c4" d="M487 245l10 9"/>
<path class="c12" d="M308 232l2 1l10 8l-3-1z"/>
<path class="c11" d="M310 233l10 8"/>
<path class="c5" d="M131 245l2-1l10 6l-3 1z"/>
<path class="c6" d="M133 244l10 6"/>
<path class="c4" d="M513 248l3-1l10 8l-3 1z"/>
<path class="c3" d="M516 247l10 8"/>
<path class="c8" d="M337 239l2 0l10 7l-3 1z"/>
<path class="c11" d="M160 236l2-3l10 6l-3 4z"/>
<path class="c12" d="M162 233l10 6"/>
<path class="c8" d="M366 241l2-1l10 8l-3 1z"/>
<path class="c7" d="M368 240l10 8"/>
<path class="c25" d="M189 212l2-5l10 3l-3 6z"/>
<path class="c28" d="M191 207l10 3"/>
<path class="c7" d="M395 242l2-1l10 8l-3 1z"/>
<path class="c40" d="M218 184l2-3l10 1l-3 2z"/>
<path class="c43" d="M220 181l10 1"/>
<path class="c7" d="M424 243l2-1l10 8l-3 1z"/>
<path class="c6" d="M426 242l10 8"/>
<path class="c41" d="M247 180l3 2l9 4l-3-2z"/>
<path class="c6" d="M453 244l2-1l10 10l-3 1z"/>
<path class="c5" d="M455 243l10 10"/>
<path class="c26" d="M276 206l3 3l9 8l-3-3z"/>
<path class="c25" d="M279 209l9 8"/>
<path class="c5" d="M482 247l2-1l10 9l-3 1z"/>
<path class="c4" d="M484 246l10 9"/>
<path class="c13" d="M305 231l3 1l9 8l-3-1z"/>
<path class="c12" d="M308 232l9 8"/>
<path class="c5" d="M128 247l3-2l9 6l-2 2z"/>
<path class="c4" d="M511 249l2-1l10 8l-3 1z"/>
<path class="c3" d="M513 248l10 8"/>
<path class="c9" d="M334 240l3-1l9 8l-2 0z"/>
<path class="c8" d="M337 239l9 8"/>
<path class="c10" d="M157 239l3-3l9 7l-2 2z"/>
<path class="c8" d="M363 242l3-1l9 8l-2 0z"/>
<path class="c7" d="M366 241l9 8"/>
<path class="c23" d="M186 217l3-5l9 4l-2 6z"/>
<path class="c25" d="M189 212l9 4"/>
<path class="c7" d="M392 243l3-1l9 8l-2 1z"/>
<path class="c40" d="M215 186l3-2l9 0l-2 4z"/>
<path class="c42" d="M218 184l9 0"/>
<path class="c7" d="M421 244l3-1l9 8l-2 1z"/>
<path class="c6" d="M424 243l9 8"/>
<path class="c43" d="M244 179l3 1l9 4l-2-1z"/>
<path class="c6" d="M450 245l3-1l9 10l-2 1z"/>
<path class="c5" d="M453 244l9 10"/>
<path class="c29" d="M273 202l3 4l9 8l-2-4z"/>
<path class="c27" d="M276 206l9 8"/>
<path class="c5" d="M479 248l3-1l9 9l-2 1z"/>
<path class="c4" d="M482 247l9 9"/>
<path class="c14" d="M302 230l3 1l9 8l-2-1z"/>
<path class="c13" d="M305 231l9 8"/>
<path class="c5" d="M125 248l3-1l10 6l-3 1z"/>
<path class="c4" d="M508 250l3-1l9 8l-2 1z"/>
<path class="c3" d="M511 249l9 8"/>
<path class="c9" d="M331 240l3 0l10 7l-3 1z"/>
<path class="c9" d="M154 242l3-3l10 6l-3 3z"/>
<path class="c8" d="M360 243l3-1l10 7l-3 1z"/>
<path class="c21" d="M183 222l3-5l10 5l-3 5z"/>
<path class="c23" d="M186 217l10 5"/>
<path class="c7" d="M389 244l3-1l10 8l-3 0z"/>
<path class="c38" d="M212 190l3-4l10 2l-3 4z"/>
<path class="c41" d="M215 186l10 2"/>
<path class="c7" d="M418 245l3-1l10 8l-3 1z"/>
<path class="c6" d="M421 244l10 8"/>
<path class="c44" d="M241 178l3 1l10 4l-3-1z"/>
<path class="c6" d="M447 246l3-1l10 10l-3 1z"/>
<path class="c5" d="M450 245l10 10"/>
<path class="c32" d="M270 198l3 4l10 8l-3-3z"/>
<path class="c30" d="M273 202l10 8"/>
<path class="c5" d="M476 249l3-1l10 9l-3 1z"/>
<path class="c4" d="M479 248l10 9"/>
<path class="c16" d="M299 228l3 2l10 8l-3-2z"/>
<path class="c15" d="M302 230l10 8"/>
<path class="c4" d="M122 250l3-2l10 6l-3 1z"/>
<path class="c5" d="M125 248l10 6"/>
<path class="c4" d="M505 251l3-1l10 8l-3 1z"/>
<path class="c3" d="M508 250l10 8"/>
<path class="c9" d="M328 241l3-1l10 8l-3 0z"/>
<path class="c8" d="M151 244l3-2l10 6l-3 2z"/>
<path class="c8" d="M357 244l3-1l10 7l-3 1z"/>
<path class="c18" d="M180 227l3-5l10 5l-3 6z"/>
<path class="c20" d="M183 222l10 5"/>
<path class="c7" d="M386 245l3-1l10 7l-3 1z"/>
<path class="c37" d="M209 194l3-4l10 2l-3 4z"/>
<path class="c39" d="M212 190l10 2"/>
<path class="c7" d="M415 246l3-1l10 8l-3 1z"/>
<path class="c6" d="M418 245l10 8"/>
<path class="c45" d="M238 178l3 0l10 4l-3 0z"/>
<path class="c6" d="M444 247l3-1l10 10l-3 1z"/>
<path class="c5" d="M447 246l10 10"/>
<path class="c34" d="M267 195l3 3l10 9l-3-4z"/>
<path class="c33" d="M270 198l10 9"/>
<path class="c5" d="M473 250l3-1l10 9l-3 1z"/>
<path class="c4" d="M476 249l10 9"/>
<path class="c17" d="M296 226l3 2l10 8l-3-2z"/>
<path class="c16" d="M299 228l10 8"/>
<path class="c4" d="M120 251l2-1l10 5l-3 1z"/>
<path class="c5" d="M122 250l10 5"/>
<path class="c4" d="M502 252l3-1l10 8l-3 1z"/>
<path class="c3" d="M505 251l10 8"/>
<path class="c10" d="M326 241l2 0l10 7l-3 0z"/>
<path class="c9" d="M328 241l10 7"/>
<path class="c7" d="M149 246l2-2l10 6l-3 2z"/>
<path class="c8" d="M151 244l10 6"/>
<path class="c8" d="M355 245l2-1l10 7l-3 1z"/>
<path class="c16" d="M178 231l2-4l10 6l-3 5z"/>
<path class="c18" d="M180 227l10 6"/>
<path class="c7" d="M384 246l2-1l10 7l-3 1z"/>
<path class="c35" d="M207 199l2-5l10 2l-3 6z"/>
<path class="c37" d="M209 194l10 2"/>
<path class="c7" d="M413 247l2-1l10 8l-3 1z"/>
<path class="c6" d="M415 246l10 8"/>
<path class="c45" d="M236 179l2-1l10 4l-3 1z"/>
<path class="c46" d="M238 178l10 4"/>
<path class="c6" d="M442 248l2-1l10 10l-3 1z"/>
<path class="c5" d="M444 247l10 10"/>
<path class="c37" d="M265 192l2 3l10 8l-3-3z"/>
<path class="c35" d="M267 195l10 8"/>
<path class="c5" d="M471 251l2-1l10 9l-3 1z"/>
<path class="c4" d="M473 250l10 9"/>
<path class="c19" d="M294 224l2 2l10 8l-3-2z"/>
<path class="c18" d="M296 226l10 8"/>
<path class="c4" d="M117 252l3-1l9 5l-2 2z"/>
<path class="c5" d="M120 251l9 5"/>
<path class="c4" d="M500 253l2-1l10 8l-3 1z"/>
<path class="c3" d="M502 252l10 8"/>
<path class="c10" d="M323 241l3 0l9 7l-3 0z"/>
<path class="c7" d="M146 248l3-2l9 6l-2 2z"/>
<path class="c8" d="M352 245l3 0l9 7l-3 1z"/>
<path class="c14" d="M175 236l3-5l9 7l-2 4z"/>
<path class="c16" d="M178 231l9 7"/>
<path class="c7" d="M381 247l3-1l9 7l-3 1z"/>
<path class="c33" d="M204 204l3-5l9 3l-2 6z"/>
<path class="c35" d="M207 199l9 3"/>
<path class="c7" d="M410 248l3-1l9 8l-2 1z"/>
<path class="c6" d="M413 247l9 8"/>
<path class="c45" d="M233 180l3-1l9 4l-2 1z"/>
<path class="c46" d="M236 179l9 4"/>
<path class="c6" d="M439 249l3-1l9 10l-2 1z"/>
<path class="c5" d="M442 248l9 10"/>
<path class="c39" d="M262 189l3 3l9 8l-2-3z"/>
<path class="c38" d="M265 192l9 8"/>
<path class="c5" d="M468 252l3-1l9 9l-2 1z"/>
<path class="c4" d="M471 251l9 9"/>
<path class="c21" d="M291 221l3 3l9 8l-2-3z"/>
<path class="c20" d="M294 224l9 8"/>
<path class="c4" d="M114 253l3-1l10 6l-3 1z"/>
<path class="c5" d="M117 252l10 6"/>
<path class="c4" d="M114 253l10 6"/>
<path class="c4" d="M497 254l3-1l9 8l-2 1z"/>
<path class="c3" d="M500 253l9 8"/>
<path class="c11" d="M320 241l3 0l9 7l-2 0z"/>
<path class="c10" d="M323 241l9 7"/>
<path class="c6" d="M143 250l3-2l10 6l-3 2z"/>
<path class="c7" d="M146 248l10 6"/>
<path class="c8" d="M349 246l3-1l9 8l-2 0z"/>
<path class="c13" d="M172 239l3-3l10 6l-3 4z"/>
<path class="c14" d="M175 236l10 6"/>
<path class="c7" d="M378 248l3-1l9 7l-2 1z"/>
<path class="c30" d="M201 210l3-6l10 4l-3 7z"/>
<path class="c32" d="M204 204l10 4"/>
<path class="c7" d="M407 249l3-1l10 8l-3 1z"/>
<path class="c6" d="M410 248l10 8"/>
<path class="c45" d="M230 182l3-2l10 4l-3 2z"/>
<path class="c46" d="M233 180l10 4"/>
<path class="c6" d="M436 250l3-1l10 10l-3 1z"/>
<path class="c5" d="M439 249l10 10"/>
<path class="c41" d="M259 186l3 3l10 8l-3-2z"/>
<path class="c40" d="M262 189l10 8"/>
<path class="c5" d="M465 253l3-1l10 9l-3 1z"/>
<path class="c4" d="M468 252l10 9"/>
<path class="c24" d="M288 217l3 4l10 8l-3-3z"/>
<path class="c22" d="M291 221l10 8"/>
<path class="c4" d="M494 255l3-1l10 8l-3 1z"/>
<path class="c3" d="M497 254l10 8"/>
<path class="c12" d="M317 240l3 1l10 7l-3-1z"/>
<path class="c11" d="M320 241l10 7"/>
<path class="c6" d="M140 251l3-1l10 6l-3 1z"/>
<path class="c3" d="M523 256l3-1l10 8l-3 1z"/>
<path class="c8" d="M346 247l3-1l10 7l-3 1z"/>
<path class="c11" d="M169 243l3-4l10 7l-3 3z"/>
<path class="c12" d="M172 239l10 7"/>
<path class="c7" d="M375 249l3-1l10 7l-3 1z"/>
<path class="c27" d="M198 216l3-6l10 5l-3 7z"/>
<path class="c29" d="M201 210l10 5"/>
<path class="c7" d="M404 250l3-1l10 8l-3 1z"/>
<path class="c44" d="M227 184l3-2l10 4l-3 3z"/>
<path class="c45" d="M230 182l10 4"/>
<path class="c6" d="M433 251l3-1l10 10l-3 1z"/>
<path class="c5" d="M436 250l10 10"/>
<path class="c43" d="M256 184l3 2l10 9l-3-2z"/>
<path class="c42" d="M259 186l10 9"/>
<path class="c5" d="M462 254l3-1l10 9l-3 1z"/>
<path class="c4" d="M465 253l10 9"/>
<path class="c26" d="M285 214l3 3l10 9l-3-4z"/>
<path class="c24" d="M288 217l10 9"/>
<path class="c4" d="M491 256l3-1l10 8l-3 1z"/>
<path class="c3" d="M494 255l10 8"/>
<path class="c13" d="M314 239l3 1l10 7l-3 0z"/>
<path class="c12" d="M317 240l10 7"/>
<path class="c6" d="M138 253l2-2l10 6l-3 1z"/>
<path class="c3" d="M520 257l3-1l10 8l-3 1z"/>
<path class="c8" d="M344 247l2 0l10 7l-3 0z"/>
<path class="c10" d="M167 245l2-2l10 6l-3 3z"/>
<path class="c11" d="M169 243l10 6"/>
<path class="c7" d="M373 249l2 0l10 7l-3 1z"/>
<path class="c25" d="M196 222l2-6l10 6l-3 6z"/>
<path class="c26" d="M198 216l10 6"/>
<path class="c7" d="M402 251l2-1l10 8l-3 1z"/>
<path class="c43" d="M225 188l2-4l10 5l-3 4z"/>
<path class="c45" d="M227 184l10 5"/>
<path class="c6" d="M431 252l2-1l10 10l-3 1z"/>
<path class="c5" d="M433 251l10 10"/>
<path class="c45" d="M254 183l2 1l10 9l-3-1z"/>
<path class="c43" d="M256 184l10 9"/>
<path class="c5" d="M460 255l2-1l10 9l-3 1z"/>
<path class="c4" d="M462 254l10 9"/>
<path class="c29" d="M283 210l2 4l10 8l-3-3z"/>
<path class="c27" d="M285 214l10 8"/>
<path class="c4" d="M489 257l2-1l10 8l-3 1z"/>
<path class="c3" d="M491 256l10 8"/>
<path class="c14" d="M312 238l2 1l10 8l-3-2z"/>
<path class="c13" d="M314 239l10 8"/>
<path class="c5" d="M135 254l3-1l9 5l-2 2z"/>
<path class="c6" d="M138 253l9 5"/>
<path class="c3" d="M518 258l2-1l10 8l-3 1z"/>
<path class="c9" d="M341 248l3-1l9 7l-3 1z"/>
<path class="c9" d="M164 248l3-3l9 7l-2 3z"/>
<path class="c10" d="M167 245l9 7"/>
<path class="c8" d="M370 250l3-1l9 8l-3 1z"/>
<path class="c7" d="M373 249l9 8"/>
<path class="c22" d="M193 227l3-5l9 6l-2 6z"/>
<path class="c23" d="M196 222l9 6"/>
<path class="c7" d="M399 251l3 0l9 8l-3 1z"/>
<path class="c42" d="M222 192l3-4l9 5l-2 4z"/>
<path class="c43" d="M225 188l9 5"/>
<path class="c6" d="M428 253l3-1l9 10l-2 1z"/>
<path class="c5" d="M431 252l9 10"/>
<path class="c46" d="M251 182l3 1l9 9l-2-1z"/>
<path class="c45" d="M254 183l9 9"/>
<path class="c5" d="M457 256l3-1l9 9l-2 1z"/>
<path class="c4" d="M460 255l9 9"/>
<path class="c31" d="M280 207l3 3l9 9l-2-3z"/>
<path class="c29" d="M283 210l9 9"/>
<path class="c4" d="M486 258l3-1l9 8l-2 1z"/>
<path class="c3" d="M489 257l9 8"/>
<path class="c15" d="M309 236l3 2l9 7l-2-1z"/>
<path class="c14" d="M312 238l9 7"/>
<path class="c5" d="M132 255l3-1l10 6l-3 1z"/>
<path class="c6" d="M135 254l10 6"/>
<path class="c3" d="M515 259l3-1l9 8l-2 1z"/>
<path class="c9" d="M338 248l3 0l9 7l-2 0z"/>
<path class="c8" d="M161 250l3-2l10 7l-3 2z"/>
<path class="c9" d="M164 248l10 7"/>
<path class="c8" d="M367 251l3-1l9 8l-2 0z"/>
<path class="c19" d="M190 233l3-6l10 7l-3 6z"/>
<path class="c21" d="M193 227l10 7"/>
<path class="c7" d="M396 252l3-1l9 9l-2 1z"/>
<path class="c40" d="M219 196l3-4l10 5l-3 6z"/>
<path class="c41" d="M222 192l10 5"/>
<path class="c6" d="M425 254l3-1l10 10l-3 1z"/>
<path class="c5" d="M428 253l10 10"/>
<path class="c46" d="M248 182l3 0l10 9l-3 0z"/>
<path class="c5" d="M454 257l3-1l10 9l-3 1z"/>
<path class="c4" d="M457 256l10 9"/>
<path class="c34" d="M277 203l3 4l10 9l-3-4z"/>
<path class="c32" d="M280 207l10 9"/>
<path class="c4" d="M483 259l3-1l10 8l-3 1z"/>
<path class="c3" d="M486 258l10 8"/>
<path class="c17" d="M306 234l3 2l10 8l-3-2z"/>
<path class="c16" d="M309 236l10 8"/>
<path class="c5" d="M129 256l3-1l10 6l-3 1z"/>
<path class="c6" d="M132 255l10 6"/>
<path class="c3" d="M512 260l3-1l10 8l-3 1z"/>
<path class="c10" d="M335 248l3 0l10 7l-3 0z"/>
<path class="c9" d="M338 248l10 7"/>
<path class="c8" d="M158 252l3-2l10 7l-3 2z"/>
<path class="c8" d="M364 252l3-1l10 7l-3 1z"/>
<path class="c17" d="M187 238l3-5l10 7l-3 5z"/>
<path class="c18" d="M190 233l10 7"/>
<path class="c7" d="M393 253l3-1l10 9l-3 1z"/>
<path class="c37" d="M216 202l3-6l10 7l-3 6z"/>
<path class="c39" d="M219 196l10 7"/>
<path class="c6" d="M422 255l3-1l10 10l-3 1z"/>
<path class="c5" d="M425 254l10 10"/>
<path class="c47" d="M245 183l3-1l10 9l-3 1z"/>
<path class="c46" d="M248 182l10 9"/>
<path class="c5" d="M451 258l3-1l10 9l-3 1z"/>
<path class="c4" d="M454 257l10 9"/>
<path class="c36" d="M274 200l3 3l10 9l-3-3z"/>
<path class="c35" d="M277 203l10 9"/>
<path class="c4" d="M480 260l3-1l10 8l-3 1z"/>
<path class="c3" d="M483 259l10 8"/>
<path class="c19" d="M303 232l3 2l10 8l-3-2z"/>
<path class="c17" d="M306 234l10 8"/>
<path class="c5" d="M127 258l2-2l10 6l-3 1z"/>
<path class="c6" d="M129 256l10 6"/>
<path class="c3" d="M509 261l3-1l10 8l-3 1z"/>
<path class="c10" d="M332 248l3 0l10 7l-3 0z"/>
<path class="c7" d="M156 254l2-2l10 7l-3 2z"/>
<path class="c8" d="M158 252l10 7"/>
<path class="c8" d="M361 253l3-1l10 7l-3 1z"/>
<path class="c15" d="M185 242l2-4l10 7l-3 5z"/>
<path class="c16" d="M187 238l10 7"/>
<path class="c7" d="M390 254l3-1l10 9l-3 1z"/>
<path class="c35" d="M214 208l2-6l10 7l-3 7z"/>
<path class="c36" d="M216 202l10 7"/>
<path class="c6" d="M420 256l2-1l10 10l-3 1z"/>
<path class="c47" d="M243 184l2-1l10 9l-3 2z"/>
<path class="c46" d="M245 183l10 9"/>
<path class="c5" d="M449 259l2-1l10 9l-3 1z"/>
<path class="c4" d="M451 258l10 9"/>
<path class="c39" d="M272 197l2 3l10 9l-3-2z"/>
<path class="c37" d="M274 200l10 9"/>
<path class="c4" d="M478 261l2-1l10 8l-3 1z"/>
<path class="c3" d="M480 260l10 8"/>
<path class="c21" d="M301 229l2 3l10 8l-3-3z"/>
<path class="c19" d="M303 232l10 8"/>
<path class="c5" d="M124 259l3-1l9 5l-2 1z"/>
<path class="c6" d="M127 258l9 5"/>
<path class="c5" d="M124 259l10 5"/>
<path class="c3" d="M507 262l2-1l10 8l-3 1z"/>
<path class="c11" d="M330 248l2 0l10 7l-3 0z"/>
<path class="c7" d="M153 256l3-2l9 7l-2 1z"/>
<path class="c8" d="M359 253l2 0l10 7l-3 0z"/>
<path class="c13" d="M182 246l3-4l9 8l-2 4z"/>
<path class="c14" d="M185 242l9 8"/>
<path class="c7" d="M388 255l2-1l10 9l-3 0z"/>
<path class="c32" d="M211 215l3-7l9 8l-2 7z"/>
<path class="c33" d="M214 208l9 8"/>
<path class="c6" d="M417 257l3-1l9 10l-3 0z"/>
<path class="c47" d="M240 186l3-2l9 10l-2 2z"/>
<path class="c46" d="M243 184l9 10"/>
<path class="c5" d="M446 260l3-1l9 9l-3 1z"/>
<path class="c4" d="M449 259l9 9"/>
<path class="c41" d="M269 195l3 2l9 10l-2-2z"/>
<path class="c39" d="M272 197l9 10"/>
<path class="c4" d="M475 262l3-1l9 8l-3 1z"/>
<path class="c3" d="M478 261l9 8"/>
<path class="c23" d="M298 226l3 3l9 8l-2-3z"/>
<path class="c21" d="M301 229l9 8"/>
<path class="c3" d="M504 263l3-1l9 8l-2 1z"/>
<path class="c12" d="M327 247l3 1l9 7l-2-1z"/>
<path class="c11" d="M330 248l9 7"/>
<path class="c7" d="M150 257l3-1l10 6l-3 2z"/>
<path class="c3" d="M533 264l3-1l9 9l-2 1z"/>
<path class="c2" d="M536 263l9 9"/>
<path class="c8" d="M356 254l3-1l9 7l-2 1z"/>
<path class="c12" d="M179 249l3-3l10 8l-3 3z"/>
<path class="c7" d="M385 256l3-1l9 8l-2 1z"/>
<path class="c28" d="M208 222l3-7l10 8l-3 7z"/>
<path class="c30" d="M211 215l10 8"/>
<path class="c6" d="M414 258l3-1l9 9l-2 1z"/>
<path class="c46" d="M237 189l3-3l10 10l-3 3z"/>
<path class="c5" d="M443 261l3-1l9 9l-2 1z"/>
<path class="c4" d="M446 260l9 9"/>
<path class="c42" d="M266 193l3 2l10 10l-3-2z"/>
<path class="c41" d="M269 195l10 10"/>
<path class="c4" d="M472 263l3-1l9 8l-2 1z"/>
<path class="c3" d="M475 262l9 8"/>
<path class="c25" d="M295 222l3 4l10 8l-3-3z"/>
<path class="c24" d="M298 226l10 8"/>
<path class="c3" d="M501 264l3-1l10 8l-3 1z"/>
<path class="c13" d="M324 247l3 0l10 7l-3-1z"/>
<path class="c12" d="M327 247l10 7"/>
<path class="c6" d="M147 258l3-1l10 7l-3 1z"/>
<path class="c7" d="M150 257l10 7"/>
<path class="c3" d="M530 265l3-1l10 9l-3 1z"/>
<path class="c2" d="M533 264l10 9"/>
<path class="c9" d="M353 254l3 0l10 7l-3 0z"/>
<path class="c10" d="M176 252l3-3l10 8l-3 3z"/>
<path class="c11" d="M179 249l10 8"/>
<path class="c7" d="M382 257l3-1l10 8l-3 1z"/>
<path class="c25" d="M205 228l3-6l10 8l-3 7z"/>
<path class="c26" d="M208 222l10 8"/>
<path class="c6" d="M411 259l3-1l10 9l-3 1z"/>
<path class="c44" d="M234 193l3-4l10 10l-3 4z"/>
<path class="c45" d="M237 189l10 10"/>
<path class="c5" d="M440 262l3-1l10 9l-3 1z"/>
<path class="c4" d="M443 261l10 9"/>
<path class="c44" d="M263 192l3 1l10 10l-3-1z"/>
<path class="c42" d="M266 193l10 10"/>
<path class="c4" d="M469 264l3-1l10 8l-3 1z"/>
<path class="c3" d="M472 263l10 8"/>
<path class="c28" d="M292 219l3 3l10 9l-3-3z"/>
<path class="c26" d="M295 222l10 9"/>
<path class="c3" d="M498 265l3-1l10 8l-3 1z"/>
<path class="c14" d="M321 245l3 2l10 6l-3-1z"/>
<path class="c13" d="M324 247l10 6"/>
<path class="c6" d="M145 260l2-2l10 7l-3 1z"/>
<path class="c7" d="M147 258l10 7"/>
<path class="c3" d="M527 266l3-1l10 9l-3 1z"/>
<path class="c2" d="M530 265l10 9"/>
<path class="c9" d="M350 255l3-1l10 7l-3 0z"/>
<path class="c9" d="M174 255l2-3l10 8l-3 2z"/>
<path class="c10" d="M176 252l10 8"/>
<path class="c7" d="M379 258l3-1l10 8l-3 1z"/>
<path class="c22" d="M203 234l2-6l10 9l-3 6z"/>
<path class="c23" d="M205 228l10 9"/>
<path class="c6" d="M408 260l3-1l10 9l-3 1z"/>
<path class="c43" d="M232 197l2-4l10 10l-3 4z"/>
<path class="c5" d="M438 263l2-1l10 9l-3 0z"/>
<path class="c4" d="M440 262l10 9"/>
<path class="c45" d="M261 191l2 1l10 10l-3 0z"/>
<path class="c43" d="M263 192l10 10"/>
<path class="c4" d="M467 265l2-1l10 8l-3 1z"/>
<path class="c30" d="M290 216l2 3l10 9l-3-3z"/>
<path class="c29" d="M292 219l10 9"/>
<path class="c3" d="M496 266l2-1l10 8l-3 1z"/>
<path class="c15" d="M319 244l2 1l10 7l-3-1z"/>
<path class="c14" d="M321 245l10 7"/>
<path class="c6" d="M142 261l3-1l9 6l-3 2z"/>
<path class="c3" d="M525 267l2-1l10 9l-3 1z"/>
<path class="c2" d="M527 266l10 9"/>
<path class="c9" d="M348 255l2 0l10 6l-3 0z"/>
<path class="c9" d="M171 257l3-2l9 7l-3 2z"/>
<path class="c8" d="M377 258l2 0l10 8l-3 0z"/>
<path class="c7" d="M379 258l10 8"/>
<path class="c19" d="M200 240l3-6l9 9l-2 6z"/>
<path class="c20" d="M203 234l9 9"/>
<path class="c6" d="M406 261l2-1l10 9l-3 1z"/>
<path class="c40" d="M229 203l3-6l9 10l-2 6z"/>
<path class="c41" d="M232 197l9 10"/>
<path class="c5" d="M435 264l3-1l9 8l-3 1z"/>
<path class="c4" d="M438 263l9 8"/>
<path class="c45" d="M258 191l3 0l9 11l-2 0z"/>
<path class="c44" d="M261 191l9 11"/>
<path class="c4" d="M464 266l3-1l9 8l-3 1z"/>
<path class="c33" d="M287 212l3 4l9 9l-2-3z"/>
<path class="c31" d="M290 216l9 9"/>
<path class="c3" d="M493 267l3-1l9 8l-3 1z"/>
<path class="c17" d="M316 242l3 2l9 7l-2-2z"/>
<path class="c16" d="M319 244l9 7"/>
<path class="c6" d="M139 262l3-1l9 7l-2 1z"/>
<path class="c3" d="M522 268l3-1l9 9l-2 1z"/>
<path class="c2" d="M525 267l9 9"/>
<path class="c10" d="M345 255l3 0l9 6l-2 0z"/>
<path class="c8" d="M168 259l3-2l9 7l-2 2z"/>
<path class="c8" d="M374 259l3-1l9 8l-2 1z"/>
<path class="c17" d="M197 245l3-5l10 9l-3 5z"/>
<path class="c18" d="M200 240l10 9"/>
<path class="c6" d="M403 262l3-1l9 9l-2 1z"/>
<path class="c38" d="M226 209l3-6l10 10l-3 6z"/>
<path class="c5" d="M432 265l3-1l9 8l-2 1z"/>
<path class="c4" d="M435 264l9 8"/>
<path class="c46" d="M255 192l3-1l10 11l-3 1z"/>
<path class="c45" d="M258 191l10 11"/>
<path class="c4" d="M461 267l3-1l9 8l-2 1z"/>
<path class="c35" d="M284 209l3 3l10 10l-3-2z"/>
<path class="c33" d="M287 212l10 10"/>
<path class="c3" d="M490 268l3-1l9 8l-2 1z"/>
<path class="c18" d="M313 240l3 2l10 7l-3-2z"/>
<path class="c17" d="M316 242l10 7"/>
<path class="c6" d="M136 263l3-1l10 7l-3 1z"/>
<path class="c3" d="M519 269l3-1l10 9l-3 1z"/>
<path class="c2" d="M522 268l10 9"/>
<path class="c10" d="M342 255l3 0l10 6l-3 0z"/>
<path class="c8" d="M165 261l3-2l10 7l-3 2z"/>
<path class="c8" d="M371 260l3-1l10 8l-3 0z"/>
<path class="c15" d="M194 250l3-5l10 9l-3 5z"/>
<path class="c7" d="M400 263l3-1l10 9l-3 0z"/>
<path class="c6" d="M403 262l10 9"/>
<path class="c35" d="M223 216l3-7l10 10l-3 7z"/>
<path class="c5" d="M429 266l3-1l10 8l-3 1z"/>
<path class="c46" d="M252 194l3-2l10 11l-3 2z"/>
<path class="c45" d="M255 192l10 11"/>
<path class="c4" d="M458 268l3-1l10 8l-3 1z"/>
<path class="c37" d="M281 207l3 2l10 11l-3-2z"/>
<path class="c35" d="M284 209l10 11"/>
<path class="c3" d="M487 269l3-1l10 8l-3 1z"/>
<path class="c20" d="M310 237l3 3l10 7l-3-2z"/>
<path class="c19" d="M313 240l10 7"/>
<path class="c6" d="M134 264l2-1l10 7l-3 1z"/>
<path class="c6" d="M134 264l9 7"/>
<path class="c3" d="M516 270l3-1l10 9l-3 1z"/>
<path class="c2" d="M519 269l10 9"/>
<path class="c11" d="M339 255l3 0l10 6l-3 0z"/>
<path class="c7" d="M163 262l2-1l10 7l-3 2z"/>
<path class="c8" d="M368 260l3 0l10 7l-3 1z"/>
<path class="c13" d="M192 254l2-4l10 9l-3 3z"/>
<path class="c7" d="M397 263l3 0l10 8l-3 1z"/>
<path class="c6" d="M400 263l10 8"/>
<path class="c31" d="M221 223l2-7l10 10l-3 7z"/>
<path class="c32" d="M223 216l10 10"/>
<path class="c5" d="M426 266l3 0l10 8l-3 1z"/>
<path class="c45" d="M250 196l2-2l10 11l-3 2z"/>
<path class="c4" d="M455 269l3-1l10 8l-3 0z"/>
<path class="c39" d="M279 205l2 2l10 11l-3-2z"/>
<path class="c37" d="M281 207l10 11"/>
<path class="c3" d="M484 270l3-1l10 8l-3 1z"/>
<path class="c22" d="M308 234l2 3l10 8l-3-2z"/>
<path class="c21" d="M310 237l10 8"/>
<path class="c3" d="M514 271l2-1l10 9l-3 1z"/>
<path class="c2" d="M516 270l10 9"/>
<path class="c12" d="M337 254l2 1l10 6l-3-1z"/>
<path class="c7" d="M160 264l3-2l9 8l-3 1z"/>
<path class="c2" d="M543 273l2-1l10 10l-3 1z"/>
<path class="c1" d="M545 272l10 10"/>
<path class="c0" d="M552 283l3-1"/>
<path class="c9" d="M366 261l2-1l10 8l-3 0z"/>
<path class="c8" d="M368 260l10 8"/>
<path class="c11" d="M189 257l3-3l9 8l-3 4z"/>
<path class="c12" d="M192 254l9 8"/>
<path class="c7" d="M395 264l2-1l10 9l-3 1z"/>
<path class="c6" d="M397 263l10 9"/>
<path class="c28" d="M218 230l3-7l9 10l-2 7z"/>
<path class="c29" d="M221 223l9 10"/>
<path class="c5" d="M424 267l2-1l10 9l-3 1z"/>
<path class="c44" d="M247 199l3-3l9 11l-2 3z"/>
<path class="c4" d="M453 270l2-1l10 7l-3 1z"/>
<path class="c41" d="M276 203l3 2l9 11l-2-1z"/>
<path class="c39" d="M279 205l9 11"/>
<path class="c3" d="M482 271l2-1l10 8l-3 1z"/>
<path class="c25" d="M305 231l3 3l9 9l-2-3z"/>
<path class="c23" d="M308 234l9 9"/>
<path class="c3" d="M511 272l3-1l9 9l-3 1z"/>
<path class="c2" d="M514 271l9 9"/>
<path class="c13" d="M334 253l3 1l9 6l-2-1z"/>
<path class="c7" d="M157 265l3-1l9 7l-2 1z"/>
<path class="c2" d="M540 274l3-1l9 10l-3 1z"/>
<path class="c1" d="M543 273l9 10"/>
<path class="c0" d="M549 284l3-1"/>
<path class="c9" d="M363 261l3 0l9 7l-2 0z"/>
<path class="c10" d="M186 260l3-3l9 9l-2 2z"/>
<path class="c7" d="M392 265l3-1l9 9l-2 1z"/>
<path class="c6" d="M395 264l9 9"/>
<path class="c25" d="M215 237l3-7l10 10l-3 7z"/>
<path class="c5" d="M421 268l3-1l9 9l-2 1z"/>
<path class="c43" d="M244 203l3-4l10 11l-3 4z"/>
<path class="c4" d="M450 271l3-1l9 7l-2 1z"/>
<path class="c42" d="M273 202l3 1l10 12l-3-1z"/>
<path class="c40" d="M276 203l10 12"/>
<path class="c3" d="M479 272l3-1l9 8l-2 1z"/>
<path class="c27" d="M302 228l3 3l10 9l-3-2z"/>
<path class="c25" d="M305 231l10 9"/>
<path class="c3" d="M508 273l3-1l9 9l-2 1z"/>
<path class="c2" d="M511 272l9 9"/>
<path class="c14" d="M331 252l3 1l10 6l-3-1z"/>
<path class="c7" d="M154 266l3-1l10 7l-3 1z"/>
<path class="c2" d="M537 275l3-1l9 10l-2 1z"/>
<path class="c1" d="M540 274l9 10"/>
<path class="c0" d="M547 285l2-1"/>
<path class="c9" d="M360 261l3 0l10 7l-3 0z"/>
<path class="c9" d="M183 262l3-2l10 8l-3 3z"/>
<path class="c7" d="M389 266l3-1l10 9l-3 0z"/>
<path class="c21" d="M212 243l3-6l10 10l-3 6z"/>
<path class="c22" d="M215 237l10 10"/>
<path class="c5" d="M418 269l3-1l10 9l-3 0z"/>
<path class="c41" d="M241 207l3-4l10 11l-3 4z"/>
<path class="c4" d="M447 271l3 0l10 7l-3 1z"/>
<path class="c43" d="M270 202l3 0l10 12l-3 0z"/>
<path class="c41" d="M273 202l10 12"/>
<path class="c3" d="M476 273l3-1l10 8l-3 1z"/>
<path class="c29" d="M299 225l3 3l10 10l-3-3z"/>
<path class="c27" d="M302 228l10 10"/>
<path class="c3" d="M505 274l3-1l10 9l-3 1z"/>
<path class="c2" d="M508 273l10 9"/>
<path class="c15" d="M328 251l3 1l10 6l-3-1z"/>
<path class="c7" d="M151 268l3-2l10 7l-3 2z"/>
<path class="c2" d="M534 276l3-1l10 10l-3 1z"/>
<path class="c1" d="M537 275l10 10"/>
<path class="c0" d="M544 286l3-1"/>
<path class="c10" d="M357 261l3 0l10 7l-3 0z"/>
<path class="c9" d="M180 264l3-2l10 9l-3 2z"/>
<path class="c7" d="M386 266l3 0l10 8l-3 1z"/>
<path class="c18" d="M210 249l2-6l10 10l-3 6z"/>
<path class="c19" d="M212 243l10 10"/>
<path class="c5" d="M415 270l3-1l10 8l-3 1z"/>
<path class="c39" d="M239 213l2-6l10 11l-3 6z"/>
<path class="c4" d="M444 272l3-1l10 8l-3 1z"/>
<path class="c43" d="M268 202l2 0l10 12l-3 0z"/>
<path class="c42" d="M270 202l10 12"/>
<path class="c3" d="M473 274l3-1l10 8l-3 1z"/>
<path class="c31" d="M297 222l2 3l10 10l-3-2z"/>
<path class="c29" d="M299 225l10 10"/>
<path class="c3" d="M502 275l3-1l10 9l-3 1z"/>
<path class="c2" d="M505 274l10 9"/>
<path class="c17" d="M326 249l2 2l10 6l-3-1z"/>
<path class="c16" d="M328 251l10 6"/>
<path class="c6" d="M149 269l2-1l10 7l-3 1z"/>
<path class="c7" d="M151 268l10 7"/>
<path class="c2" d="M532 277l2-1l10 10l-3 1z"/>
<path class="c1" d="M534 276l10 10"/>
<path class="c0" d="M541 287l3-1"/>
<path class="c10" d="M355 261l2 0l10 7l-3 0z"/>
<path class="c8" d="M178 266l2-2l10 9l-3 1z"/>
<path class="c8" d="M384 267l2-1l10 9l-3 0z"/>
<path class="c7" d="M386 266l10 9"/>
<path class="c16" d="M207 254l3-5l9 10l-3 5z"/>
<path class="c5" d="M413 271l2-1l10 8l-3 1z"/>
<path class="c36" d="M236 219l3-6l9 11l-3 6z"/>
<path class="c37" d="M239 213l9 11"/>
<path class="c4" d="M442 273l2-1l10 8l-3 1z"/>
<path class="c44" d="M265 203l3-1l9 12l-3 1z"/>
<path class="c42" d="M268 202l9 12"/>
<path class="c3" d="M471 275l2-1l10 8l-3 1z"/>
<path class="c33" d="M294 220l3 2l9 11l-2-2z"/>
<path class="c31" d="M297 222l9 11"/>
<path class="c3" d="M500 276l2-1l10 9l-3 1z"/>
<path class="c2" d="M502 275l10 9"/>
<path class="c18" d="M323 247l3 2l9 7l-2-2z"/>
<path class="c6" d="M146 270l3-1l9 7l-2 1z"/>
<path class="c2" d="M529 278l3-1l9 10l-3 1z"/>
<path class="c1" d="M532 277l9 10"/>
<path class="c0" d="M538 288l3-1"/>
<path class="c11" d="M352 261l3 0l9 7l-2 0z"/>
<path class="c8" d="M175 268l3-2l9 8l-2 2z"/>
<path class="c8" d="M381 267l3 0l9 8l-2 1z"/>
<path class="c7" d="M384 267l9 8"/>
<path class="c14" d="M204 259l3-5l9 10l-2 4z"/>
<path class="c6" d="M410 271l3 0l9 8l-2 1z"/>
<path class="c5" d="M413 271l9 8"/>
<path class="c33" d="M233 226l3-7l9 11l-2 6z"/>
<path class="c34" d="M236 219l9 11"/>
<path class="c4" d="M439 274l3-1l9 8l-2 1z"/>
<path class="c44" d="M262 205l3-2l9 12l-2 2z"/>
<path class="c42" d="M265 203l9 12"/>
<path class="c3" d="M468 276l3-1l9 8l-2 0z"/>
<path class="c35" d="M291 218l3 2l10 11l-3-1z"/>
<path class="c33" d="M294 220l10 11"/>
<path class="c3" d="M497 277l3-1l9 9l-2 1z"/>
<path class="c2" d="M500 276l9 9"/>
<path class="c20" d="M320 245l3 2l10 7l-3-1z"/>
<path class="c19" d="M323 247l10 7"/>
<path class="c6" d="M143 271l3-1l10 7l-3 1z"/>
<path class="c6" d="M143 271l10 7"/>
<path class="c2" d="M526 279l3-1l9 10l-2 1z"/>
<path class="c1" d="M529 278l9 10"/>
<path class="c0" d="M536 289l2-1"/>
<path class="c12" d="M349 261l3 0l10 7l-3 0z"/>
<path class="c11" d="M352 261l10 7"/>
<path class="c7" d="M172 270l3-2l10 8l-3 1z"/>
<path class="c8" d="M378 268l3-1l10 9l-3 0z"/>
<path class="c12" d="M201 262l3-3l10 9l-3 3z"/>
<path class="c6" d="M407 272l3-1l10 9l-3 0z"/>
<path class="c5" d="M410 271l10 9"/>
<path class="c30" d="M230 233l3-7l10 10l-3 7z"/>
<path class="c31" d="M233 226l10 10"/>
<path class="c4" d="M436 275l3-1l10 8l-3 1z"/>
<path class="c43" d="M259 207l3-2l10 12l-3 2z"/>
<path class="c42" d="M262 205l10 12"/>
<path class="c4" d="M465 276l3 0l10 7l-3 1z"/>
<path class="c3" d="M468 276l10 7"/>
<path class="c37" d="M288 216l3 2l10 12l-3-1z"/>
<path class="c35" d="M291 218l10 12"/>
<path class="c3" d="M494 278l3-1l10 9l-3 1z"/>
<path class="c2" d="M497 277l10 9"/>
<path class="c22" d="M317 243l3 2l10 8l-3-2z"/>
<path class="c21" d="M320 245l10 8"/>
<path class="c2" d="M523 280l3-1l10 10l-3 1z"/>
<path class="c1" d="M526 279l10 10"/>
<path class="c0" d="M533 290l3-1"/>
<path class="c13" d="M346 260l3 1l10 7l-3-1z"/>
<path class="c12" d="M349 261l10 7"/>
<path class="c7" d="M169 271l3-1l10 7l-3 2z"/>
<path class="c8" d="M375 268l3 0l10 8l-3 0z"/>
<path class="c11" d="M198 266l3-4l10 9l-3 3z"/>
<path class="c6" d="M404 273l3-1l10 8l-3 1z"/>
<path class="c26" d="M228 240l2-7l10 10l-3 7z"/>
<path class="c27" d="M230 233l10 10"/>
<path class="c4" d="M433 276l3-1l10 8l-3 0z"/>
<path class="c42" d="M257 210l2-3l10 12l-3 3z"/>
<path class="c41" d="M259 207l10 12"/>
<path class="c4" d="M462 277l3-1l10 8l-3 1z"/>
<path class="c3" d="M465 276l10 8"/>
<path class="c38" d="M286 215l2 1l10 13l-3-1z"/>
<path class="c36" d="M288 216l10 13"/>
<path class="c3" d="M491 279l3-1l10 9l-3 1z"/>
<path class="c2" d="M494 278l10 9"/>
<path class="c24" d="M315 240l2 3l10 8l-3-2z"/>
<path class="c23" d="M317 243l10 8"/>
<path class="c2" d="M520 281l3-1l10 10l-3 1z"/>
<path class="c1" d="M523 280l10 10"/>
<path class="c0" d="M530 291l3-1"/>
<path class="c14" d="M344 259l2 1l10 7l-3 0z"/>
<path class="c13" d="M346 260l10 7"/>
<path class="c7" d="M167 272l2-1l10 8l-3 1z"/>
<path class="c9" d="M373 268l2 0l10 8l-3 0z"/>
<path class="c8" d="M375 268l10 8"/>
<path class="c10" d="M196 268l2-2l10 8l-3 3z"/>
<path class="c6" d="M402 274l2-1l10 8l-3 1z"/>
<path class="c23" d="M225 247l3-7l9 10l-3 7z"/>
<path class="c24" d="M228 240l9 10"/>
<path class="c4" d="M431 277l2-1l10 7l-3 1z"/>
<path class="c41" d="M254 214l3-4l9 12l-3 4z"/>
<path class="c40" d="M257 210l9 12"/>
<path class="c4" d="M460 278l2-1l10 8l-3 1z"/>
<path class="c3" d="M462 277l10 8"/>
<path class="c39" d="M283 214l3 1l9 13l-3 0z"/>
<path class="c37" d="M286 215l9 13"/>
<path class="c3" d="M489 280l2-1l10 9l-3 1z"/>
<path class="c2" d="M491 279l10 9"/>
<path class="c26" d="M312 238l3 2l9 9l-2-1z"/>
<path class="c24" d="M315 240l9 9"/>
<path class="c2" d="M518 282l2-1l10 10l-3 1z"/>
<path class="c1" d="M520 281l10 10"/>
<path class="c0" d="M527 292l3-1"/>
<path class="c15" d="M341 258l3 1l9 8l-2-1z"/>
<path class="c14" d="M344 259l9 8"/>
<path class="c7" d="M164 273l3-1l9 8l-2 1z"/>
<path class="c9" d="M370 268l3 0l9 8l-2 1z"/>
<path class="c9" d="M193 271l3-3l9 9l-2 2z"/>
<path class="c6" d="M399 274l3 0l9 8l-2 0z"/>
<path class="c20" d="M222 253l3-6l9 10l-2 5z"/>
<path class="c21" d="M225 247l9 10"/>
<path class="c5" d="M428 277l3 0l9 7l-2 1z"/>
<path class="c4" d="M431 277l9 7"/>
<path class="c39" d="M251 218l3-4l9 12l-2 4z"/>
<path class="c4" d="M457 279l3-1l9 8l-2 1z"/>
<path class="c40" d="M280 214l3 0l9 14l-2 0z"/>
<path class="c38" d="M283 214l9 14"/>
<path class="c3" d="M486 281l3-1l9 9l-2 1z"/>
<path class="c28" d="M309 235l3 3l10 10l-3-2z"/>
<path class="c26" d="M312 238l10 10"/>
<path class="c2" d="M515 283l3-1l9 10l-2 1z"/>
<path class="c1" d="M518 282l9 10"/>
<path class="c0" d="M525 293l2-1"/>
<path class="c16" d="M338 257l3 1l10 8l-3-1z"/>
<path class="c15" d="M341 258l10 8"/>
<path class="c7" d="M161 275l3-2l10 8l-3 1z"/>
<path class="c10" d="M367 268l3 0l10 9l-3 0z"/>
<path class="c9" d="M370 268l10 9"/>
<path class="c8" d="M190 273l3-2l10 8l-3 2z"/>
<path class="c7" d="M396 275l3-1l10 8l-3 1z"/>
<path class="c6" d="M399 274l10 8"/>
<path class="c17" d="M219 259l3-6l10 9l-3 6z"/>
<path class="c18" d="M222 253l10 9"/>
<path class="c5" d="M425 278l3-1l10 8l-3 1z"/>
<path class="c37" d="M248 224l3-6l10 12l-3 5z"/>
<path class="c4" d="M454 280l3-1l10 8l-3 1z"/>
<path class="c41" d="M277 214l3 0l10 14l-3 0z"/>
<path class="c39" d="M280 214l10 14"/>
<path class="c3" d="M483 282l3-1l10 9l-3 1z"/>
<path class="c29" d="M306 233l3 2l10 11l-3-2z"/>
<path class="c28" d="M309 235l10 11"/>
<path class="c2" d="M512 284l3-1l10 10l-3 1z"/>
<path class="c1" d="M515 283l10 10"/>
<path class="c0" d="M522 294l3-1"/>
<path class="c17" d="M335 256l3 1l10 8l-3-1z"/>
<path class="c16" d="M338 257l10 8"/>
<path class="c7" d="M158 276l3-1l10 7l-3 2z"/>
<path class="c6" d="M161 275l10 7"/>
<path class="c10" d="M364 268l3 0l10 9l-3 0z"/>
<path class="c8" d="M187 274l3-1l10 8l-3 2z"/>
<path class="c7" d="M393 275l3 0l10 8l-3 0z"/>
<path class="c15" d="M216 264l3-5l10 9l-3 4z"/>
<path class="c5" d="M422 279l3-1l10 8l-3 0z"/>
<path class="c34" d="M245 230l3-6l10 11l-3 5z"/>
<path class="c35" d="M248 224l10 11"/>
<path class="c4" d="M451 281l3-1l10 8l-3 1z"/>
<path class="c41" d="M274 215l3-1l10 14l-3 2z"/>
<path class="c39" d="M277 214l10 14"/>
<path class="c3" d="M480 283l3-1l10 9l-3 0z"/>
<path class="c31" d="M304 231l2 2l10 11l-3-1z"/>
<path class="c29" d="M306 233l10 11"/>
<path class="c2" d="M509 285l3-1l10 10l-3 1z"/>
<path class="c1" d="M512 284l10 10"/>
<path class="c0" d="M519 295l3-1"/>
<path class="c18" d="M333 254l2 2l10 8l-3-1z"/>
<path class="c7" d="M156 277l2-1l10 8l-3 1z"/>
<path class="c6" d="M158 276l10 8"/>
<path class="c11" d="M362 268l2 0l10 9l-3-1z"/>
<path class="c7" d="M185 276l2-2l10 9l-3 1z"/>
<path class="c7" d="M391 276l2-1l10 8l-3 1z"/>
<path class="c13" d="M214 268l2-4l10 8l-3 4z"/>
<path class="c5" d="M420 280l2-1l10 7l-3 1z"/>
<path class="c31" d="M243 236l2-6l10 10l-3 6z"/>
<path class="c32" d="M245 230l10 10"/>
<path class="c4" d="M449 282l2-1l10 8l-3 1z"/>
<path class="c41" d="M272 217l2-2l10 15l-3 1z"/>
<path class="c39" d="M274 215l10 15"/>
<path class="c3" d="M478 283l2 0l10 8l-3 1z"/>
<path class="c33" d="M301 230l3 1l9 12l-3-1z"/>
<path class="c31" d="M304 231l9 12"/>
<path class="c2" d="M507 286l2-1l10 10l-3 1z"/>
<path class="c1" d="M509 285l10 10"/>
<path class="c0" d="M516 296l3-1"/>
<path class="c20" d="M330 253l3 1l9 9l-3-1z"/>
<path class="c19" d="M333 254l9 9"/>
<path class="c6" d="M153 278l3-1l9 8l-2 1z"/>
<path class="c6" d="M153 278l10 8"/>
<path class="c12" d="M359 268l3 0l9 8l-3 0z"/>
<path class="c11" d="M362 268l9 8"/>
<path class="c7" d="M182 277l3-1l9 8l-2 1z"/>
<path class="c8" d="M388 276l3 0l9 8l-2 0z"/>
<path class="c7" d="M391 276l9 8"/>
<path class="c11" d="M211 271l3-3l9 8l-2 4z"/>
<path class="c5" d="M417 280l3 0l9 7l-2 1z"/>
<path class="c28" d="M240 243l3-7l9 10l-2 6z"/>
<path class="c29" d="M243 236l9 10"/>
<path class="c4" d="M446 283l3-1l9 8l-2 0z"/>
<path class="c40" d="M269 219l3-2l9 14l-2 2z"/>
<path class="c39" d="M272 217l9 14"/>
<path class="c3" d="M475 284l3-1l9 9l-2 1z"/>
<path class="c34" d="M298 229l3 1l9 12l-2 0z"/>
<path class="c32" d="M301 230l9 12"/>
<path class="c2" d="M504 287l3-1l9 10l-2 1z"/>
<path class="c1" d="M507 286l9 10"/>
<path class="c0" d="M514 297l2-1"/>
<path class="c21" d="M327 251l3 2l9 9l-2-1z"/>
<path class="c20" d="M330 253l9 9"/>
<path class="c13" d="M356 267l3 1l9 8l-2 0z"/>
<path class="c12" d="M359 268l9 8"/>
<path class="c7" d="M179 279l3-2l10 8l-3 2z"/>
<path class="c8" d="M385 276l3 0l10 8l-3 0z"/>
<path class="c10" d="M208 274l3-3l10 9l-3 3z"/>
<path class="c5" d="M414 281l3-1l10 8l-3 0z"/>
<path class="c25" d="M237 250l3-7l10 9l-3 6z"/>
<path class="c26" d="M240 243l10 9"/>
<path class="c4" d="M443 283l3 0l10 7l-3 1z"/>
<path class="c39" d="M266 222l3-3l10 14l-3 3z"/>
<path class="c38" d="M269 219l10 14"/>
<path class="c3" d="M472 285l3-1l10 9l-3 1z"/>
<path class="c35" d="M295 228l3 1l10 13l-3-1z"/>
<path class="c33" d="M298 229l10 13"/>
<path class="c2" d="M501 288l3-1l10 10l-3 1z"/>
<path class="c1" d="M504 287l10 10"/>
<path class="c0" d="M511 298l3-1"/>
<path class="c23" d="M324 249l3 2l10 10l-3-2z"/>
<path class="c22" d="M327 251l10 10"/>
<path class="c14" d="M353 267l3 0l10 9l-3-1z"/>
<path class="c13" d="M356 267l10 9"/>
<path class="c7" d="M176 280l3-1l10 8l-3 1z"/>
<path class="c6" d="M179 279l10 8"/>
<path class="c8" d="M382 276l3 0l10 8l-3 0z"/>
<path class="c9" d="M205 277l3-3l10 9l-3 2z"/>
<path class="c6" d="M411 282l3-1l10 7l-3 1z"/>
<path class="c5" d="M414 281l10 7"/>
<path class="c22" d="M234 257l3-7l10 8l-3 6z"/>
<path class="c23" d="M237 250l10 8"/>
<path class="c4" d="M440 284l3-1l10 8l-3 1z"/>
<path class="c38" d="M263 226l3-4l10 14l-3 3z"/>
<path class="c37" d="M266 222l10 14"/>
<path class="c3" d="M469 286l3-1l10 9l-3 1z"/>
<path class="c36" d="M292 228l3 0l10 13l-3 0z"/>
<path class="c34" d="M295 228l10 13"/>
<path class="c2" d="M498 289l3-1l10 10l-3 1z"/>
<path class="c1" d="M501 288l10 10"/>
<path class="c1" d="M508 299l3-1"/>
<path class="c25" d="M322 248l2 1l10 10l-3-1z"/>
<path class="c23" d="M324 249l10 10"/>
<path class="c15" d="M351 266l2 1l10 8l-3 0z"/>
<path class="c14" d="M353 267l10 8"/>
<path class="c6" d="M174 281l2-1l10 8l-3 1z"/>
<path class="c9" d="M380 277l2-1l10 8l-3 1z"/>
<path class="c8" d="M382 276l10 8"/>
<path class="c8" d="M203 279l2-2l10 8l-3 2z"/>
<path class="c6" d="M409 282l2 0l10 7l-3 1z"/>
<path class="c19" d="M232 262l2-5l10 7l-3 6z"/>
<path class="c20" d="M234 257l10 7"/>
<path class="c4" d="M438 285l2-1l10 8l-3 1z"/>
<path class="c37" d="M261 230l2-4l10 13l-3 4z"/>
<path class="c36" d="M263 226l10 13"/>
<path class="c3" d="M467 287l2-1l10 9l-3 1z"/>
<path class="c37" d="M290 228l2 0l10 13l-3 1z"/>
<path class="c35" d="M292 228l10 13"/>
<path class="c2" d="M496 290l2-1l10 10l-3 1z"/>
<path class="c1" d="M498 289l10 10"/>
<path class="c1" d="M505 300l3-1"/>
<path class="c26" d="M319 246l3 2l9 10l-3-1z"/>
<path class="c24" d="M322 248l9 10"/>
<path class="c16" d="M348 265l3 1l9 9l-3-1z"/>
<path class="c15" d="M351 266l9 9"/>
<path class="c6" d="M171 282l3-1l9 8l-2 1z"/>
<path class="c9" d="M377 277l3 0l9 8l-3 0z"/>
<path class="c8" d="M200 281l3-2l9 8l-2 2z"/>
<path class="c6" d="M406 283l3-1l9 8l-2 0z"/>
<path class="c16" d="M229 268l3-6l9 8l-2 5z"/>
<path class="c17" d="M232 262l9 8"/>
<path class="c5" d="M435 286l3-1l9 8l-2 1z"/>
<path class="c4" d="M438 285l9 8"/>
<path class="c35" d="M258 235l3-5l9 13l-2 4z"/>
<path class="c34" d="M261 230l9 13"/>
<path class="c4" d="M464 288l3-1l9 9l-2 1z"/>
<path class="c3" d="M467 287l9 9"/>
<path class="c37" d="M287 228l3 0l9 14l-2 0z"/>
<path class="c35" d="M290 228l9 14"/>
<path class="c2" d="M493 291l3-1l9 10l-2 1z"/>
<path class="c1" d="M496 290l9 10"/>
<path class="c1" d="M503 301l2-1"/>
<path class="c27" d="M316 244l3 2l9 11l-2 0z"/>
<path class="c26" d="M319 246l9 11"/>
<path class="c17" d="M345 264l3 1l9 9l-2 0z"/>
<path class="c16" d="M348 265l9 9"/>
<path class="c6" d="M168 284l3-2l10 8l-3 1z"/>
<path class="c10" d="M374 277l3 0l9 8l-2 0z"/>
<path class="c9" d="M377 277l9 8"/>
<path class="c7" d="M197 283l3-2l10 8l-3 2z"/>
<path class="c6" d="M403 283l3 0l10 7l-3 1z"/>
<path class="c14" d="M226 272l3-4l10 7l-3 4z"/>
<path class="c15" d="M229 268l10 7"/>
<path class="c5" d="M432 286l3 0l10 8l-3 0z"/>
<path class="c32" d="M255 240l3-5l10 12l-3 5z"/>
<path class="c4" d="M461 289l3-1l10 9l-3 1z"/>
<path class="c3" d="M464 288l10 9"/>
<path class="c37" d="M284 230l3-2l10 14l-3 2z"/>
<path class="c35" d="M287 228l10 14"/>
<path class="c2" d="M490 291l3 0l10 10l-3 1z"/>
<path class="c1" d="M493 291l10 10"/>
<path class="c1" d="M500 302l3-1"/>
<path class="c29" d="M313 243l3 1l10 13l-3-1z"/>
<path class="c27" d="M316 244l10 13"/>
<path class="c18" d="M342 263l3 1l10 10l-3-1z"/>
<path class="c17" d="M345 264l10 10"/>
<path class="c6" d="M165 285l3-1l10 7l-3 2z"/>
<path class="c11" d="M371 276l3 1l10 8l-3 0z"/>
<path class="c10" d="M374 277l10 8"/>
<path class="c7" d="M194 284l3-1l10 8l-3 1z"/>
<path class="c7" d="M400 284l3-1l10 8l-3 0z"/>
<path class="c12" d="M223 276l3-4l10 7l-3 4z"/>
<path class="c13" d="M226 272l10 7"/>
<path class="c5" d="M429 287l3-1l10 8l-3 1z"/>
<path class="c30" d="M252 246l3-6l10 12l-3 4z"/>
<path class="c4" d="M458 290l3-1l10 9l-3 1z"/>
<path class="c3" d="M461 289l10 9"/>
<path class="c37" d="M281 231l3-1l10 14l-3 1z"/>
<path class="c35" d="M284 230l10 14"/>
<path class="c2" d="M487 292l3-1l10 11l-3 0z"/>
<path class="c1" d="M490 291l10 11"/>
<path class="c1" d="M497 302l3 0"/>
<path class="c30" d="M310 242l3 1l10 13l-3-1z"/>
<path class="c28" d="M313 243l10 13"/>
<path class="c19" d="M339 262l3 1l10 10l-3-1z"/>
<path class="c18" d="M342 263l10 10"/>
<path class="c6" d="M163 286l2-1l10 8l-3 1z"/>
<path class="c6" d="M163 286l9 8"/>
<path class="c11" d="M368 276l3 0l10 9l-3 0z"/>
<path class="c7" d="M192 285l2-1l10 8l-3 1z"/>
<path class="c6" d="M194 284l10 8"/>
<path class="c7" d="M398 284l2 0l10 7l-3 1z"/>
<path class="c10" d="M221 280l2-4l10 7l-3 3z"/>
<path class="c11" d="M223 276l10 7"/>
<path class="c5" d="M427 288l2-1l10 8l-3 1z"/>
<path class="c27" d="M250 252l2-6l10 10l-3 5z"/>
<path class="c4" d="M456 290l2 0l10 9l-3 0z"/>
<path class="c3" d="M458 290l10 9"/>
<path class="c36" d="M279 233l2-2l10 14l-3 2z"/>
<path class="c35" d="M281 231l10 14"/>
<path class="c2" d="M485 293l2-1l10 10l-3 1z"/>
<path class="c1" d="M487 292l10 10"/>
<path class="c1" d="M494 303l3-1"/>
<path class="c31" d="M308 242l2 0l10 13l-3 0z"/>
<path class="c29" d="M310 242l10 13"/>
<path class="c20" d="M337 261l2 1l10 10l-3 0z"/>
<path class="c19" d="M339 262l10 10"/>
<path class="c12" d="M366 276l2 0l10 9l-3 0z"/>
<path class="c11" d="M368 276l10 9"/>
<path class="c6" d="M189 287l3-2l9 8l-2 2z"/>
<path class="c8" d="M395 284l3 0l9 8l-3 0z"/>
<path class="c7" d="M398 284l9 8"/>
<path class="c9" d="M218 283l3-3l9 6l-2 3z"/>
<path class="c10" d="M221 280l9 6"/>
<path class="c5" d="M424 288l3 0l9 8l-3 0z"/>
<path class="c24" d="M247 258l3-6l9 9l-2 5z"/>
<path class="c25" d="M250 252l9 9"/>
<path class="c4" d="M453 291l3-1l9 9l-3 1z"/>
<path class="c3" d="M456 290l9 9"/>
<path class="c36" d="M276 236l3-3l9 14l-2 2z"/>
<path class="c34" d="M279 233l9 14"/>
<path class="c2" d="M482 294l3-1l9 10l-2 1z"/>
<path class="c1" d="M492 304l2-1"/>
<path class="c32" d="M305 241l3 1l9 13l-2 0z"/>
<path class="c30" d="M308 242l9 13"/>
<path class="c21" d="M334 259l3 2l9 11l-2-1z"/>
<path class="c20" d="M337 261l9 11"/>
<path class="c13" d="M363 275l3 1l9 9l-2-1z"/>
<path class="c12" d="M366 276l9 9"/>
<path class="c6" d="M186 288l3-1l10 8l-3 1z"/>
<path class="c8" d="M392 284l3 0l9 8l-2 0z"/>
<path class="c8" d="M215 285l3-2l10 6l-3 3z"/>
<path class="c9" d="M218 283l10 6"/>
<path class="c6" d="M421 289l3-1l9 8l-2 1z"/>
<path class="c5" d="M424 288l9 8"/>
<path class="c21" d="M244 264l3-6l10 8l-3 5z"/>
<path class="c22" d="M247 258l10 8"/>
<path class="c4" d="M450 292l3-1l9 9l-2 1z"/>
<path class="c3" d="M453 291l9 9"/>
<path class="c34" d="M273 239l3-3l10 13l-3 3z"/>
<path class="c33" d="M276 236l10 13"/>
<path class="c2" d="M479 295l3-1l10 10l-3 1z"/>
<path class="c1" d="M489 305l3-1"/>
<path class="c33" d="M302 241l3 0l10 14l-3 0z"/>
<path class="c31" d="M305 241l10 14"/>
<path class="c23" d="M331 258l3 1l10 12l-3-1z"/>
<path class="c21" d="M334 259l10 12"/>
<path class="c14" d="M360 275l3 0l10 9l-3 0z"/>
<path class="c13" d="M363 275l10 9"/>
<path class="c6" d="M183 289l3-1l10 8l-3 1z"/>
<path class="c8" d="M389 285l3-1l10 8l-3 1z"/>
<path class="c8" d="M212 287l3-2l10 7l-3 2z"/>
<path class="c6" d="M418 290l3-1l10 8l-3 1z"/>
<path class="c5" d="M421 289l10 8"/>
<path class="c18" d="M241 270l3-6l10 7l-3 5z"/>
<path class="c20" d="M244 264l10 7"/>
<path class="c4" d="M447 293l3-1l10 9l-3 1z"/>
<path class="c33" d="M270 243l3-4l10 13l-3 3z"/>
<path class="c32" d="M273 239l10 13"/>
<path class="c2" d="M476 296l3-1l10 10l-3 1z"/>
<path class="c1" d="M486 306l3-1"/>
<path class="c33" d="M299 242l3-1l10 14l-3 1z"/>
<path class="c31" d="M302 241l10 14"/>
<path class="c24" d="M328 257l3 1l10 12l-3 0z"/>
<path class="c22" d="M331 258l10 12"/>
<path class="c15" d="M357 274l3 1l10 9l-3 0z"/>
<path class="c14" d="M360 275l10 9"/>
<path class="c6" d="M181 290l2-1l10 8l-3 1z"/>
<path class="c9" d="M386 285l3 0l10 8l-3 0z"/>
<path class="c8" d="M389 285l10 8"/>
<path class="c7" d="M210 289l2-2l10 7l-3 2z"/>
<path class="c6" d="M416 290l2 0l10 8l-3 0z"/>
<path class="c16" d="M239 275l2-5l10 6l-3 4z"/>
<path class="c17" d="M241 270l10 6"/>
<path class="c4" d="M445 294l2-1l10 9l-3 1z"/>
<path class="c31" d="M268 247l2-4l10 12l-3 4z"/>
<path class="c3" d="M474 297l2-1l10 10l-3 1z"/>
<path class="c2" d="M476 296l10 10"/>
<path class="c1" d="M483 307l3-1"/>
<path class="c33" d="M297 242l2 0l10 14l-3 0z"/>
<path class="c31" d="M299 242l10 14"/>
<path class="c25" d="M326 257l2 0l10 13l-3-1z"/>
<path class="c23" d="M328 257l10 13"/>
<path class="c15" d="M355 274l2 0l10 10l-3 0z"/>
<path class="c14" d="M357 274l10 10"/>
<path class="c6" d="M178 291l3-1l9 8l-2 1z"/>
<path class="c9" d="M384 285l2 0l10 8l-3 0z"/>
<path class="c7" d="M207 291l3-2l9 7l-2 2z"/>
<path class="c6" d="M413 291l3-1l9 8l-3 1z"/>
<path class="c14" d="M236 279l3-4l9 5l-2 5z"/>
<path class="c15" d="M239 275l9 5"/>
<path class="c4" d="M442 294l3 0l9 9l-3 1z"/>
<path class="c30" d="M265 252l3-5l9 12l-2 3z"/>
<path class="c29" d="M268 247l9 12"/>
<path class="c3" d="M471 298l3-1l9 10l-3 1z"/>
<path class="c2" d="M474 297l9 10"/>
<path class="c1" d="M480 308l3-1"/>
<path class="c33" d="M294 244l3-2l9 14l-2 1z"/>
<path class="c32" d="M297 242l9 14"/>
<path class="c26" d="M323 256l3 1l9 12l-2 0z"/>
<path class="c24" d="M326 257l9 12"/>
<path class="c16" d="M352 273l3 1l9 10l-2-1z"/>
<path class="c15" d="M355 274l9 10"/>
<path class="c6" d="M175 293l3-2l10 8l-3 1z"/>
<path class="c10" d="M381 285l3 0l9 8l-2 0z"/>
<path class="c9" d="M384 285l9 8"/>
<path class="c6" d="M204 292l3-1l10 7l-3 1z"/>
<path class="c7" d="M207 291l10 7"/>
<path class="c7" d="M410 291l3 0l9 8l-2 0z"/>
<path class="c6" d="M413 291l9 8"/>
<path class="c12" d="M233 283l3-4l10 6l-3 3z"/>
<path class="c14" d="M236 279l10 6"/>
<path class="c5" d="M439 295l3-1l9 10l-2 0z"/>
<path class="c4" d="M442 294l9 10"/>
<path class="c28" d="M262 256l3-4l10 10l-3 4z"/>
<path class="c3" d="M468 299l3-1l9 10l-2 1z"/>
<path class="c2" d="M471 298l9 10"/>
<path class="c1" d="M478 309l2-1"/>
<path class="c33" d="M291 245l3-1l10 13l-3 2z"/>
<path class="c31" d="M294 244l10 13"/>
<path class="c27" d="M320 255l3 1l10 13l-3 0z"/>
<path class="c25" d="M323 256l10 13"/>
<path class="c17" d="M349 272l3 1l10 10l-3 0z"/>
<path class="c16" d="M352 273l10 10"/>
<path class="c6" d="M172 294l3-1l10 7l-3 1z"/>
<path class="c6" d="M172 294l10 7"/>
<path class="c11" d="M378 285l3 0l10 8l-3 0z"/>
<path class="c10" d="M381 285l10 8"/>
<path class="c6" d="M201 293l3-1l10 7l-3 2z"/>
<path class="c7" d="M407 292l3-1l10 8l-3 1z"/>
<path class="c11" d="M230 286l3-3l10 5l-3 4z"/>
<path class="c12" d="M233 283l10 5"/>
<path class="c5" d="M436 296l3-1l10 9l-3 1z"/>
<path class="c4" d="M439 295l10 9"/>
<path class="c25" d="M259 261l3-5l10 10l-3 4z"/>
<path class="c26" d="M262 256l10 10"/>
<path class="c3" d="M465 299l3 0l10 10l-3 1z"/>
<path class="c2" d="M468 299l10 10"/>
<path class="c1" d="M475 310l3-1"/>
<path class="c33" d="M288 247l3-2l10 14l-3 1z"/>
<path class="c31" d="M291 245l10 14"/>
<path class="c28" d="M317 255l3 0l10 14l-3 0z"/>
<path class="c26" d="M320 255l10 14"/>
<path class="c18" d="M346 272l3 0l10 11l-3 0z"/>
<path class="c17" d="M349 272l10 11"/>
<path class="c11" d="M375 285l3 0l10 8l-3 0z"/>
<path class="c6" d="M199 295l2-2l10 8l-3 1z"/>
<path class="c7" d="M404 292l3 0l10 8l-3 0z"/>
<path class="c10" d="M228 289l2-3l10 6l-3 3z"/>
<path class="c11" d="M230 286l10 6"/>
<path class="c5" d="M433 296l3 0l10 9l-3 1z"/>
<path class="c4" d="M436 296l10 9"/>
<path class="c23" d="M257 266l2-5l10 9l-3 4z"/>
<path class="c24" d="M259 261l10 9"/>
<path class="c3" d="M462 300l3-1l10 11l-3 1z"/>
<path class="c2" d="M465 299l10 11"/>
<path class="c1" d="M472 311l3-1"/>
<path class="c32" d="M286 249l2-2l10 13l-3 2z"/>
<path class="c31" d="M288 247l10 13"/>
<path class="c28" d="M315 255l2 0l10 14l-3 0z"/>
<path class="c26" d="M317 255l10 14"/>
<path class="c19" d="M344 271l2 1l10 11l-3-1z"/>
<path class="c18" d="M346 272l10 11"/>
<path class="c12" d="M373 284l2 1l10 8l-3 1z"/>
<path class="c11" d="M375 285l10 8"/>
<path class="c6" d="M196 296l3-1l9 7l-2 1z"/>
<path class="c8" d="M402 292l2 0l10 8l-3 1z"/>
<path class="c7" d="M404 292l10 8"/>
<path class="c9" d="M225 292l3-3l9 6l-2 2z"/>
<path class="c10" d="M228 289l9 6"/>
<path class="c5" d="M431 297l2-1l10 10l-3 1z"/>
<path class="c4" d="M433 296l10 10"/>
<path class="c21" d="M254 271l3-5l9 8l-2 4z"/>
<path class="c22" d="M257 266l9 8"/>
<path class="c3" d="M460 301l2-1l10 11l-3 1z"/>
<path class="c2" d="M462 300l10 11"/>
<path class="c1" d="M469 312l3-1"/>
<path class="c31" d="M283 252l3-3l9 13l-2 3z"/>
<path class="c30" d="M286 249l9 13"/>
<path class="c29" d="M312 255l3 0l9 14l-2 0z"/>
<path class="c27" d="M315 255l9 14"/>
<path class="c20" d="M341 270l3 1l9 11l-2 0z"/>
<path class="c19" d="M344 271l9 11"/>
<path class="c13" d="M370 284l3 0l9 10l-2 0z"/>
<path class="c12" d="M373 284l9 10"/>
<path class="c6" d="M193 297l3-1l10 7l-3 2z"/>
<path class="c8" d="M399 293l3-1l9 9l-2 0z"/>
<path class="c8" d="M222 294l3-2l10 5l-3 3z"/>
<path class="c9" d="M225 292l10 5"/>
<path class="c5" d="M428 298l3-1l9 10l-2 0z"/>
<path class="c19" d="M251 276l3-5l10 7l-3 4z"/>
<path class="c20" d="M254 271l10 7"/>
<path class="c3" d="M457 302l3-1l9 11l-2 1z"/>
<path class="c2" d="M460 301l9 11"/>
<path class="c1" d="M467 313l2-1"/>
<path class="c30" d="M280 255l3-3l10 13l-3 2z"/>
<path class="c29" d="M283 252l10 13"/>
<path class="c29" d="M309 256l3-1l10 14l-3 1z"/>
<path class="c27" d="M312 255l10 14"/>
<path class="c21" d="M338 270l3 0l10 12l-3 0z"/>
<path class="c19" d="M341 270l10 12"/>
<path class="c13" d="M367 284l3 0l10 10l-3 0z"/>
<path class="c12" d="M370 284l10 10"/>
<path class="c6" d="M190 298l3-1l10 8l-3 1z"/>
<path class="c9" d="M396 293l3 0l10 8l-3 1z"/>
<path class="c8" d="M399 293l10 8"/>
<path class="c7" d="M219 296l3-2l10 6l-3 2z"/>
<path class="c8" d="M222 294l10 6"/>
<path class="c6" d="M425 298l3 0l10 9l-3 1z"/>
<path class="c5" d="M428 298l10 9"/>
<path class="c17" d="M248 280l3-4l10 6l-3 4z"/>
<path class="c18" d="M251 276l10 6"/>
<path class="c3" d="M454 303l3-1l10 11l-3 0z"/>
<path class="c2" d="M457 302l10 11"/>
<path class="c1" d="M464 313l3 0"/>
<path class="c29" d="M277 259l3-4l10 12l-3 3z"/>
<path class="c28" d="M280 255l10 12"/>
<path class="c30" d="M306 256l3 0l10 14l-3 0z"/>
<path class="c28" d="M309 256l10 14"/>
<path class="c22" d="M335 269l3 1l10 12l-3 0z"/>
<path class="c20" d="M338 270l10 12"/>
<path class="c14" d="M364 284l3 0l10 10l-3 0z"/>
<path class="c13" d="M367 284l10 10"/>
<path class="c6" d="M188 299l2-1l10 8l-3 1z"/>
<path class="c9" d="M393 293l3 0l10 9l-3 0z"/>
<path class="c8" d="M396 293l10 9"/>
<path class="c7" d="M217 298l2-2l10 6l-3 2z"/>
<path class="c6" d="M422 299l3-1l10 10l-3 1z"/>
<path class="c5" d="M425 298l10 10"/>
<path class="c15" d="M246 285l2-5l10 6l-3 3z"/>
<path class="c16" d="M248 280l10 6"/>
<path class="c3" d="M451 304l3-1l10 10l-3 1z"/>
<path class="c2" d="M454 303l10 10"/>
<path class="c1" d="M461 314l3-1"/>
<path class="c28" d="M275 262l2-3l10 11l-3 3z"/>
<path class="c27" d="M277 259l10 11"/>
<path class="c30" d="M304 257l2-1l10 14l-3 1z"/>
<path class="c28" d="M306 256l10 14"/>
<path class="c23" d="M333 269l2 0l10 13l-3 0z"/>
<path class="c21" d="M335 269l10 13"/>
<path class="c15" d="M362 283l2 1l10 10l-3 0z"/>
<path class="c14" d="M364 284l10 10"/>
<path class="c6" d="M185 300l3-1l9 8l-3 1z"/>
<path class="c9" d="M391 293l2 0l10 9l-3 1z"/>
<path class="c6" d="M214 299l3-1l9 6l-3 2z"/>
<path class="c7" d="M217 298l9 6"/>
<path class="c6" d="M420 299l2 0l10 10l-3 0z"/>
<path class="c5" d="M422 299l10 10"/>
<path class="c13" d="M243 288l3-3l9 4l-2 4z"/>
<path class="c15" d="M246 285l9 4"/>
<path class="c4" d="M449 304l2 0l10 10l-3 1z"/>
<path class="c2" d="M451 304l10 10"/>
<path class="c2" d="M458 315l3-1"/>
<path class="c26" d="M272 266l3-4l9 11l-2 3z"/>
<path class="c30" d="M301 259l3-2l9 14l-2 2z"/>
<path class="c28" d="M304 257l9 14"/>
<path class="c24" d="M330 269l3 0l9 13l-2 0z"/>
<path class="c22" d="M333 269l9 13"/>
<path class="c16" d="M359 283l3 0l9 11l-2 0z"/>
<path class="c14" d="M362 283l9 11"/>
<path class="c6" d="M182 301l3-1l9 8l-2 1z"/>
<path class="c6" d="M182 301l10 8"/>
<path class="c10" d="M388 293l3 0l9 10l-2 0z"/>
<path class="c9" d="M391 293l9 10"/>
<path class="c6" d="M211 301l3-2l9 7l-2 1z"/>
<path class="c7" d="M214 299l9 7"/>
<path class="c6" d="M417 300l3-1l9 10l-2 1z"/>
<path class="c12" d="M240 292l3-4l10 5l-3 3z"/>
<path class="c13" d="M243 288l10 5"/>
<path class="c4" d="M446 305l3-1l9 11l-2 1z"/>
<path class="c3" d="M449 304l9 11"/>
<path class="c2" d="M456 316l2-1"/>
<path class="c24" d="M269 270l3-4l10 10l-3 3z"/>
<path class="c29" d="M298 260l3-1l10 14l-3 1z"/>
<path class="c28" d="M301 259l10 14"/>
<path class="c24" d="M327 269l3 0l10 13l-3 0z"/>
<path class="c22" d="M330 269l10 13"/>
<path class="c16" d="M356 283l3 0l10 11l-3 0z"/>
<path class="c15" d="M359 283l10 11"/>
<path class="c10" d="M385 293l3 0l10 10l-3 0z"/>
<path class="c6" d="M208 302l3-1l10 6l-3 2z"/>
<path class="c7" d="M414 300l3 0l10 10l-3 1z"/>
<path class="c6" d="M417 300l10 10"/>
<path class="c11" d="M237 295l3-3l10 4l-3 3z"/>
<path class="c12" d="M240 292l10 4"/>
<path class="c4" d="M443 306l3-1l10 11l-3 1z"/>
<path class="c3" d="M446 305l10 11"/>
<path class="c2" d="M453 317l3-1"/>
<path class="c23" d="M266 274l3-4l10 9l-3 4z"/>
<path class="c29" d="M295 262l3-2l10 14l-3 2z"/>
<path class="c27" d="M298 260l10 14"/>
<path class="c25" d="M324 269l3 0l10 13l-3 0z"/>
<path class="c23" d="M327 269l10 13"/>
<path class="c17" d="M353 282l3 1l10 11l-3 0z"/>
<path class="c16" d="M356 283l10 11"/>
<path class="c11" d="M382 294l3-1l10 10l-3 1z"/>
<path class="c10" d="M385 293l10 10"/>
<path class="c6" d="M206 303l2-1l10 7l-3 1z"/>
<path class="c7" d="M411 301l3-1l10 11l-3 0z"/>
<path class="c6" d="M414 300l10 11"/>
<path class="c10" d="M235 297l2-2l10 4l-3 3z"/>
<path class="c11" d="M237 295l10 4"/>
<path class="c4" d="M440 307l3-1l10 11l-3 1z"/>
<path class="c3" d="M443 306l10 11"/>
<path class="c2" d="M450 318l3-1"/>
<path class="c21" d="M264 278l2-4l10 9l-3 3z"/>
<path class="c22" d="M266 274l10 9"/>
<path class="c28" d="M293 265l2-3l10 14l-3 2z"/>
<path class="c27" d="M295 262l10 14"/>
<path class="c25" d="M322 269l2 0l10 13l-3 1z"/>
<path class="c23" d="M324 269l10 13"/>
<path class="c18" d="M351 282l2 0l10 12l-3 0z"/>
<path class="c16" d="M353 282l10 12"/>
<path class="c11" d="M380 294l2 0l10 10l-3 0z"/>
<path class="c10" d="M382 294l10 10"/>
<path class="c6" d="M203 305l3-2l9 7l-3 1z"/>
<path class="c7" d="M409 301l2 0l10 10l-3 1z"/>
<path class="c6" d="M411 301l10 10"/>
<path class="c9" d="M232 300l3-3l9 5l-3 2z"/>
<path class="c10" d="M235 297l9 5"/>
<path class="c4" d="M438 307l2 0l10 11l-3 1z"/>
<path class="c3" d="M440 307l10 11"/>
<path class="c2" d="M447 319l3-1"/>
<path class="c19" d="M261 282l3-4l9 8l-3 3z"/>
<path class="c20" d="M264 278l9 8"/>
<path class="c27" d="M290 267l3-2l9 13l-2 2z"/>
<path class="c26" d="M293 265l9 13"/>
<path class="c25" d="M319 270l3-1l9 14l-2 0z"/>
<path class="c24" d="M322 269l9 14"/>
<path class="c18" d="M348 282l3 0l9 12l-2 0z"/>
<path class="c17" d="M351 282l9 12"/>
<path class="c12" d="M377 294l3 0l9 10l-2 0z"/>
<path class="c11" d="M380 294l9 10"/>
<path class="c6" d="M200 306l3-1l9 6l-2 2z"/>
<path class="c8" d="M406 302l3-1l9 11l-2 0z"/>
<path class="c7" d="M409 301l9 11"/>
<path class="c8" d="M229 302l3-2l9 4l-2 2z"/>
<path class="c9" d="M232 300l9 4"/>
<path class="c4" d="M435 308l3-1l9 12l-2 0z"/>
<path class="c3" d="M438 307l9 12"/>
<path class="c2" d="M445 319l2 0"/>
<path class="c18" d="M258 286l3-4l9 7l-2 4z"/>
<path class="c19" d="M261 282l9 7"/>
<path class="c26" d="M287 270l3-3l10 13l-3 2z"/>
<path class="c25" d="M290 267l10 13"/>
<path class="c26" d="M316 270l3 0l10 13l-3 1z"/>
<path class="c24" d="M319 270l10 13"/>
<path class="c19" d="M345 282l3 0l10 12l-3 0z"/>
<path class="c17" d="M348 282l10 12"/>
<path class="c13" d="M374 294l3 0l10 10l-3 0z"/>
<path class="c11" d="M377 294l10 10"/>
<path class="c6" d="M197 307l3-1l10 7l-3 1z"/>
<path class="c8" d="M403 302l3 0l10 10l-3 1z"/>
<path class="c7" d="M406 302l10 10"/>
<path class="c8" d="M226 304l3-2l10 4l-3 2z"/>
<path class="c9" d="M229 302l10 4"/>
<path class="c5" d="M432 309l3-1l10 11l-3 1z"/>
<path class="c3" d="M435 308l10 11"/>
<path class="c2" d="M442 320l3-1"/>
<path class="c16" d="M255 289l3-3l10 7l-3 3z"/>
<path class="c17" d="M258 286l10 7"/>
<path class="c25" d="M284 273l3-3l10 12l-3 3z"/>
<path class="c26" d="M313 271l3-1l10 14l-3 1z"/>
<path class="c24" d="M316 270l10 14"/>
<path class="c20" d="M342 282l3 0l10 12l-3 0z"/>
<path class="c18" d="M345 282l10 12"/>
<path class="c13" d="M371 294l3 0l10 10l-3 1z"/>
<path class="c12" d="M374 294l10 10"/>
<path class="c5" d="M194 308l3-1l10 7l-3 1z"/>
<path class="c6" d="M197 307l10 7"/>
<path class="c8" d="M400 303l3-1l10 11l-3 1z"/>
<path class="c7" d="M403 302l10 11"/>
<path class="c7" d="M223 306l3-2l10 4l-3 2z"/>
<path class="c8" d="M226 304l10 4"/>
<path class="c5" d="M429 309l3 0l10 11l-3 1z"/>
<path class="c3" d="M432 309l10 11"/>
<path class="c2" d="M439 321l3-1"/>
<path class="c15" d="M253 293l2-4l10 7l-3 3z"/>
<path class="c16" d="M255 289l10 7"/>
<path class="c24" d="M282 276l2-3l10 12l-3 2z"/>
<path class="c26" d="M311 273l2-2l10 14l-3 1z"/>
<path class="c24" d="M313 271l10 14"/>
<path class="c20" d="M340 282l2 0l10 12l-3 1z"/>
<path class="c19" d="M342 282l10 12"/>
<path class="c14" d="M369 294l2 0l10 11l-3 0z"/>
<path class="c12" d="M371 294l10 11"/>
<path class="c5" d="M192 309l2-1l10 7l-3 1z"/>
<path class="c5" d="M192 309l9 7"/>
<path class="c9" d="M398 303l2 0l10 11l-3 0z"/>
<path class="c7" d="M400 303l10 11"/>
<path class="c7" d="M221 307l2-1l10 4l-3 2z"/>
<path class="c8" d="M223 306l10 4"/>
<path class="c5" d="M427 310l2-1l10 12l-3 1z"/>
<path class="c4" d="M429 309l10 12"/>
<path class="c2" d="M436 322l3-1"/>
<path class="c14" d="M250 296l3-3l9 6l-3 3z"/>
<path class="c15" d="M253 293l9 6"/>
<path class="c23" d="M279 279l3-3l9 11l-3 3z"/>
<path class="c26" d="M308 274l3-1l9 13l-3 1z"/>
<path class="c24" d="M311 273l9 13"/>
<path class="c21" d="M337 282l3 0l9 13l-3 0z"/>
<path class="c19" d="M340 282l9 13"/>
<path class="c14" d="M366 294l3 0l9 11l-2 0z"/>
<path class="c13" d="M369 294l9 11"/>
<path class="c9" d="M395 303l3 0l9 11l-2 1z"/>
<path class="c8" d="M398 303l9 11"/>
<path class="c6" d="M218 309l3-2l9 5l-2 2z"/>
<path class="c7" d="M221 307l9 5"/>
<path class="c5" d="M424 311l3-1l9 12l-2 1z"/>
<path class="c4" d="M427 310l9 12"/>
<path class="c2" d="M434 323l2-1"/>
<path class="c12" d="M247 299l3-3l9 6l-2 2z"/>
<path class="c13" d="M250 296l9 6"/>
<path class="c22" d="M276 283l3-4l9 11l-2 3z"/>
<path class="c21" d="M279 279l9 11"/>
<path class="c25" d="M305 276l3-2l9 13l-2 2z"/>
<path class="c24" d="M308 274l9 13"/>
<path class="c21" d="M334 282l3 0l9 13l-2 0z"/>
<path class="c20" d="M337 282l9 13"/>
<path class="c15" d="M363 294l3 0l10 11l-3 1z"/>
<path class="c13" d="M366 294l10 11"/>
<path class="c9" d="M392 304l3-1l10 12l-3 0z"/>
<path class="c8" d="M395 303l10 12"/>
<path class="c6" d="M215 310l3-1l10 5l-3 1z"/>
<path class="c7" d="M218 309l10 5"/>
<path class="c5" d="M421 311l3 0l10 12l-3 0z"/>
<path class="c4" d="M424 311l10 12"/>
<path class="c3" d="M431 323l3 0"/>
<path class="c11" d="M244 302l3-3l10 5l-3 3z"/>
<path class="c12" d="M247 299l10 5"/>
<path class="c20" d="M273 286l3-3l10 10l-3 3z"/>
<path class="c25" d="M302 278l3-2l10 13l-3 1z"/>
<path class="c23" d="M305 276l10 13"/>
<path class="c22" d="M331 283l3-1l10 13l-3 1z"/>
<path class="c20" d="M334 282l10 13"/>
<path class="c15" d="M360 294l3 0l10 12l-3 0z"/>
<path class="c14" d="M363 294l10 12"/>
<path class="c10" d="M389 304l3 0l10 11l-3 1z"/>
<path class="c8" d="M392 304l10 11"/>
<path class="c6" d="M212 311l3-1l10 5l-3 2z"/>
<path class="c7" d="M215 310l10 5"/>
<path class="c6" d="M418 312l3-1l10 12l-3 1z"/>
<path class="c4" d="M421 311l10 12"/>
<path class="c3" d="M428 324l3-1"/>
<path class="c11" d="M241 304l3-2l10 5l-3 2z"/>
<path class="c19" d="M270 289l3-3l10 10l-3 3z"/>
<path class="c24" d="M300 280l2-2l10 12l-3 2z"/>
<path class="c23" d="M302 278l10 12"/>
<path class="c22" d="M329 283l2 0l10 13l-3 0z"/>
<path class="c20" d="M331 283l10 13"/>
<path class="c16" d="M358 294l2 0l10 12l-3 0z"/>
<path class="c14" d="M360 294l10 12"/>
<path class="c10" d="M387 304l2 0l10 12l-3 0z"/>
<path class="c9" d="M389 304l10 12"/>
<path class="c6" d="M210 313l2-2l10 6l-3 1z"/>
<path class="c6" d="M416 312l2 0l10 12l-3 1z"/>
<path class="c4" d="M418 312l10 12"/>
<path class="c3" d="M425 325l3-1"/>
<path class="c10" d="M239 306l2-2l10 5l-3 3z"/>
<path class="c11" d="M241 304l10 5"/>
<path class="c18" d="M268 293l2-4l10 10l-3 3z"/>
<path class="c24" d="M297 282l3-2l9 12l-3 2z"/>
<path class="c22" d="M300 280l9 12"/>
<path class="c22" d="M326 284l3-1l9 13l-3 1z"/>
<path class="c20" d="M329 283l9 13"/>
<path class="c16" d="M355 294l3 0l9 12l-3 1z"/>
<path class="c15" d="M358 294l9 12"/>
<path class="c11" d="M384 304l3 0l9 12l-2 1z"/>
<path class="c9" d="M387 304l9 12"/>
<path class="c6" d="M207 314l3-1l9 5l-2 2z"/>
<path class="c6" d="M413 313l3-1l9 13l-2 1z"/>
<path class="c4" d="M416 312l9 13"/>
<path class="c3" d="M423 326l2-1"/>
<path class="c9" d="M236 308l3-2l9 6l-2 2z"/>
<path class="c10" d="M239 306l9 6"/>
<path class="c17" d="M265 296l3-3l9 9l-2 2z"/>
<path class="c23" d="M294 285l3-3l9 12l-2 3z"/>
<path class="c22" d="M297 282l9 12"/>
<path class="c22" d="M323 285l3-1l9 13l-2 1z"/>
<path class="c21" d="M326 284l9 13"/>
<path class="c17" d="M352 294l3 0l9 13l-2 0z"/>
<path class="c15" d="M355 294l9 13"/>
<path class="c11" d="M381 305l3-1l10 13l-3 0z"/>
<path class="c9" d="M384 304l10 13"/>
<path class="c6" d="M204 315l3-1l10 6l-3 1z"/>
<path class="c6" d="M410 314l3-1l10 13l-3 1z"/>
<path class="c5" d="M413 313l10 13"/>
<path class="c3" d="M420 327l3-1"/>
<path class="c9" d="M233 310l3-2l10 6l-3 2z"/>
<path class="c15" d="M262 299l3-3l10 8l-3 3z"/>
<path class="c16" d="M265 296l10 8"/>
<path class="c22" d="M291 287l3-2l10 12l-3 2z"/>
<path class="c21" d="M294 285l10 12"/>
<path class="c22" d="M320 286l3-1l10 13l-3 1z"/>
<path class="c21" d="M323 285l10 13"/>
<path class="c17" d="M349 295l3-1l10 13l-3 1z"/>
<path class="c16" d="M352 294l10 13"/>
<path class="c12" d="M378 305l3 0l10 12l-3 1z"/>
<path class="c10" d="M381 305l10 12"/>
<path class="c5" d="M201 316l3-1l10 6l-3 1z"/>
<path class="c6" d="M204 315l10 6"/>
<path class="c6" d="M201 316l10 6"/>
<path class="c7" d="M407 314l3 0l10 13l-3 0z"/>
<path class="c5" d="M410 314l10 13"/>
<path class="c3" d="M417 327l3 0"/>
<path class="c8" d="M230 312l3-2l10 6l-3 2z"/>
<path class="c9" d="M233 310l10 6"/>
<path class="c14" d="M259 302l3-3l10 8l-3 3z"/>
<path class="c15" d="M262 299l10 8"/>
<path class="c21" d="M288 290l3-3l10 12l-3 2z"/>
<path class="c20" d="M291 287l10 12"/>
<path class="c22" d="M317 287l3-1l10 13l-3 1z"/>
<path class="c21" d="M320 286l10 13"/>
<path class="c18" d="M346 295l3 0l10 13l-3 0z"/>
<path class="c16" d="M349 295l10 13"/>
<path class="c12" d="M376 305l2 0l10 13l-3 0z"/>
<path class="c10" d="M378 305l10 13"/>
<path class="c7" d="M405 315l2-1l10 13l-3 1z"/>
<path class="c5" d="M407 314l10 13"/>
<path class="c3" d="M414 328l3-1"/>
<path class="c8" d="M228 314l2-2l10 6l-3 1z"/>
<path class="c13" d="M257 304l2-2l10 8l-3 2z"/>
<path class="c14" d="M259 302l10 8"/>
<path class="c20" d="M286 293l2-3l10 11l-3 3z"/>
<path class="c19" d="M288 290l10 11"/>
<path class="c22" d="M315 289l2-2l10 13l-3 2z"/>
<path class="c21" d="M317 287l10 13"/>
<path class="c18" d="M344 295l2 0l10 13l-3 1z"/>
<path class="c16" d="M346 295l10 13"/>
<path class="c12" d="M373 306l3-1l9 13l-3 1z"/>
<path class="c11" d="M376 305l9 13"/>
<path class="c7" d="M402 315l3 0l9 13l-3 1z"/>
<path class="c5" d="M405 315l9 13"/>
<path class="c4" d="M411 329l3-1"/>
<path class="c7" d="M225 315l3-1l9 5l-2 2z"/>
<path class="c8" d="M228 314l9 5"/>
<path class="c12" d="M254 307l3-3l9 8l-2 3z"/>
<path class="c13" d="M257 304l9 8"/>
<path class="c19" d="M283 296l3-3l9 11l-2 2z"/>
<path class="c18" d="M286 293l9 11"/>
<path class="c22" d="M312 290l3-1l9 13l-2 1z"/>
<path class="c20" d="M315 289l9 13"/>
<path class="c18" d="M341 296l3-1l9 14l-2 0z"/>
<path class="c17" d="M344 295l9 14"/>
<path class="c13" d="M370 306l3 0l9 13l-2 0z"/>
<path class="c11" d="M373 306l9 13"/>
<path class="c7" d="M399 316l3-1l9 14l-2 1z"/>
<path class="c5" d="M402 315l9 14"/>
<path class="c4" d="M409 330l2-1"/>
<path class="c7" d="M222 317l3-2l10 6l-3 1z"/>
<path class="c8" d="M225 315l10 6"/>
<path class="c12" d="M251 309l3-2l10 8l-3 2z"/>
<path class="c18" d="M280 299l3-3l10 10l-3 3z"/>
<path class="c17" d="M283 296l10 10"/>
<path class="c21" d="M309 292l3-2l10 13l-3 2z"/>
<path class="c20" d="M312 290l10 13"/>
<path class="c19" d="M338 296l3 0l10 13l-3 1z"/>
<path class="c17" d="M341 296l10 13"/>
<path class="c13" d="M367 306l3 0l10 13l-3 1z"/>
<path class="c11" d="M370 306l10 13"/>
<path class="c8" d="M396 316l3 0l10 14l-3 1z"/>
<path class="c6" d="M399 316l10 14"/>
<path class="c4" d="M406 331l3-1"/>
<path class="c7" d="M219 318l3-1l10 5l-3 2z"/>
<path class="c11" d="M248 312l3-3l10 8l-3 2z"/>
<path class="c17" d="M277 302l3-3l10 10l-3 2z"/>
<path class="c21" d="M306 294l3-2l10 13l-3 2z"/>
<path class="c20" d="M309 292l10 13"/>
<path class="c19" d="M335 297l3-1l10 14l-3 1z"/>
<path class="c17" d="M338 296l10 14"/>
<path class="c13" d="M364 307l3-1l10 14l-3 0z"/>
<path class="c12" d="M367 306l10 14"/>
<path class="c8" d="M394 317l2-1l10 15l-3 0z"/>
<path class="c6" d="M396 316l10 15"/>
<path class="c4" d="M403 331l3 0"/>
<path class="c7" d="M217 320l2-2l10 6l-3 1z"/>
<path class="c10" d="M246 314l2-2l10 7l-3 2z"/>
<path class="c16" d="M275 304l2-2l10 9l-3 3z"/>
<path class="c20" d="M304 297l2-3l10 13l-3 1z"/>
<path class="c19" d="M306 294l10 13"/>
<path class="c19" d="M333 298l2-1l10 14l-3 1z"/>
<path class="c17" d="M335 297l10 14"/>
<path class="c14" d="M362 307l2 0l10 13l-3 1z"/>
<path class="c12" d="M364 307l10 13"/>
<path class="c8" d="M391 317l3 0l9 14l-3 1z"/>
<path class="c6" d="M394 317l9 14"/>
<path class="c4" d="M400 332l3-1"/>
<path class="c6" d="M214 321l3-1l9 5l-2 2z"/>
<path class="c7" d="M217 320l9 5"/>
<path class="c10" d="M243 316l3-2l9 7l-2 2z"/>
<path class="c15" d="M272 307l3-3l9 10l-2 2z"/>
<path class="c19" d="M301 299l3-2l9 11l-2 2z"/>
<path class="c19" d="M330 299l3-1l9 14l-2 1z"/>
<path class="c17" d="M333 298l9 14"/>
<path class="c14" d="M359 308l3-1l9 14l-2 1z"/>
<path class="c12" d="M362 307l9 14"/>
<path class="c9" d="M388 318l3-1l9 15l-2 1z"/>
<path class="c6" d="M391 317l9 15"/>
<path class="c4" d="M398 333l2-1"/>
<path class="c6" d="M211 322l3-1l10 6l-3 1z"/>
<path class="c7" d="M214 321l10 6"/>
<path class="c7" d="M211 322l10 6"/>
<path class="c9" d="M240 318l3-2l10 7l-3 2z"/>
<path class="c14" d="M269 310l3-3l10 9l-3 3z"/>
<path class="c19" d="M298 301l3-2l10 11l-3 3z"/>
<path class="c18" d="M301 299l10 11"/>
<path class="c19" d="M327 300l3-1l10 14l-3 1z"/>
<path class="c17" d="M330 299l10 14"/>
<path class="c14" d="M356 308l3 0l10 14l-3 0z"/>
<path class="c12" d="M359 308l10 14"/>
<path class="c9" d="M385 318l3 0l10 15l-3 1z"/>
<path class="c6" d="M388 318l10 15"/>
<path class="c4" d="M395 334l3-1"/>
<path class="c9" d="M237 319l3-1l10 7l-3 1z"/>
<path class="c13" d="M266 312l3-2l10 9l-3 2z"/>
<path class="c18" d="M295 304l3-3l10 12l-3 2z"/>
<path class="c17" d="M298 301l10 12"/>
<path class="c19" d="M324 302l3-2l10 14l-3 1z"/>
<path class="c17" d="M327 300l10 14"/>
<path class="c15" d="M353 309l3-1l10 14l-3 1z"/>
<path class="c13" d="M356 308l10 14"/>
<path class="c9" d="M382 319l3-1l10 16l-3 0z"/>
<path class="c7" d="M385 318l10 16"/>
<path class="c4" d="M392 334l3 0"/>
<path class="c8" d="M235 321l2-2l10 7l-3 2z"/>
<path class="c9" d="M237 319l10 7"/>
<path class="c12" d="M264 315l2-3l10 9l-3 2z"/>
<path class="c17" d="M293 306l2-2l10 11l-3 2z"/>
<path class="c16" d="M295 304l10 11"/>
<path class="c19" d="M322 303l2-1l10 13l-3 1z"/>
<path class="c17" d="M324 302l10 13"/>
<path class="c15" d="M351 309l2 0l10 14l-3 1z"/>
<path class="c13" d="M353 309l10 14"/>
<path class="c9" d="M380 319l2 0l10 15l-3 1z"/>
<path class="c7" d="M382 319l10 15"/>
<path class="c5" d="M389 335l3-1"/>
<path class="c8" d="M232 322l3-1l9 7l-2 2z"/>
<path class="c11" d="M261 317l3-2l9 8l-2 2z"/>
<path class="c16" d="M290 309l3-3l9 11l-2 2z"/>
<path class="c18" d="M319 305l3-2l9 13l-2 2z"/>
<path class="c17" d="M322 303l9 13"/>
<path class="c15" d="M348 310l3-1l9 15l-2 0z"/>
<path class="c13" d="M351 309l9 15"/>
<path class="c10" d="M377 320l3-1l9 16l-2 1z"/>
<path class="c7" d="M380 319l9 16"/>
<path class="c5" d="M387 336l2-1"/>
<path class="c8" d="M229 324l3-2l10 8l-3 1z"/>
<path class="c11" d="M258 319l3-2l10 8l-3 2z"/>
<path class="c15" d="M287 311l3-2l10 10l-3 2z"/>
<path class="c18" d="M316 307l3-2l10 13l-3 1z"/>
<path class="c17" d="M319 305l10 13"/>
<path class="c15" d="M345 311l3-1l10 14l-3 1z"/>
<path class="c13" d="M348 310l10 14"/>
<path class="c10" d="M374 320l3 0l10 16l-3 1z"/>
<path class="c7" d="M377 320l10 16"/>
<path class="c5" d="M384 337l3-1"/>
<path class="c8" d="M226 325l3-1l10 7l-3 1z"/>
<path class="c10" d="M255 321l3-2l10 8l-3 2z"/>
<path class="c14" d="M284 314l3-3l10 10l-3 3z"/>
<path class="c17" d="M313 308l3-1l10 12l-3 2z"/>
<path class="c16" d="M316 307l10 12"/>
<path class="c15" d="M342 312l3-1l10 14l-3 1z"/>
<path class="c13" d="M345 311l10 14"/>
<path class="c10" d="M371 321l3-1l10 17l-3 1z"/>
<path class="c7" d="M374 320l10 17"/>
<path class="c5" d="M381 338l3-1"/>
<path class="c7" d="M224 327l2-2l10 7l-3 2z"/>
<path class="c10" d="M253 323l2-2l10 8l-3 2z"/>
<path class="c14" d="M282 316l2-2l10 10l-3 2z"/>
<path class="c13" d="M284 314l10 10"/>
<path class="c17" d="M311 310l2-2l10 13l-3 2z"/>
<path class="c16" d="M313 308l10 13"/>
<path class="c15" d="M340 313l2-1l10 14l-3 1z"/>
<path class="c13" d="M342 312l10 14"/>
<path class="c10" d="M369 322l2-1l10 17l-3 1z"/>
<path class="c8" d="M371 321l10 17"/>
<path class="c5" d="M378 339l3-1"/>
<path class="c7" d="M221 328l3-1l9 7l-3 1z"/>
<path class="c7" d="M221 328l9 7"/>
<path class="c9" d="M250 325l3-2l9 8l-2 2z"/>
<path class="c13" d="M279 319l3-3l9 10l-2 2z"/>
<path class="c16" d="M308 313l3-3l9 13l-2 2z"/>
<path class="c15" d="M311 310l9 13"/>
<path class="c15" d="M337 314l3-1l9 14l-2 1z"/>
<path class="c13" d="M340 313l9 14"/>
<path class="c11" d="M366 322l3 0l9 17l-2 1z"/>
<path class="c8" d="M369 322l9 17"/>
<path class="c5" d="M376 340l2-1"/>
<path class="c9" d="M247 326l3-1l10 8l-3 1z"/>
<path class="c12" d="M276 321l3-2l10 9l-3 2z"/>
<path class="c16" d="M305 315l3-2l10 12l-3 2z"/>
<path class="c15" d="M308 313l10 12"/>
<path class="c15" d="M334 315l3-1l10 14l-3 1z"/>
<path class="c13" d="M337 314l10 14"/>
<path class="c11" d="M363 323l3-1l10 18l-3 0z"/>
<path class="c8" d="M366 322l10 18"/>
<path class="c5" d="M373 340l3 0"/>
<path class="c8" d="M244 328l3-2l10 8l-3 2z"/>
<path class="c11" d="M273 323l3-2l10 9l-3 2z"/>
<path class="c15" d="M302 317l3-2l10 12l-3 2z"/>
<path class="c14" d="M305 315l10 12"/>
<path class="c15" d="M331 316l3-1l10 14l-3 1z"/>
<path class="c13" d="M334 315l10 14"/>
<path class="c11" d="M360 324l3-1l10 17l-3 1z"/>
<path class="c8" d="M363 323l10 17"/>
<path class="c5" d="M370 341l3-1"/>
<path class="c8" d="M242 330l2-2l10 8l-3 1z"/>
<path class="c11" d="M271 325l2-2l10 9l-3 2z"/>
<path class="c14" d="M300 319l2-2l10 12l-3 1z"/>
<path class="c13" d="M302 317l10 12"/>
<path class="c15" d="M329 318l2-2l10 14l-3 2z"/>
<path class="c13" d="M331 316l10 14"/>
<path class="c11" d="M358 324l2 0l10 17l-3 1z"/>
<path class="c8" d="M360 324l10 17"/>
<path class="c5" d="M367 342l3-1"/>
<path class="c8" d="M239 331l3-1l9 7l-3 2z"/>
<path class="c10" d="M268 327l3-2l9 9l-2 2z"/>
<path class="c14" d="M297 321l3-2l9 11l-2 2z"/>
<path class="c13" d="M300 319l9 11"/>
<path class="c15" d="M326 319l3-1l9 14l-2 1z"/>
<path class="c13" d="M329 318l9 14"/>
<path class="c11" d="M355 325l3-1l9 18l-2 1z"/>
<path class="c8" d="M358 324l9 18"/>
<path class="c5" d="M365 343l2-1"/>
<path class="c8" d="M236 332l3-1l9 8l-2 1z"/>
<path class="c10" d="M265 329l3-2l10 9l-3 2z"/>
<path class="c13" d="M294 324l3-3l10 11l-3 2z"/>
<path class="c12" d="M297 321l10 11"/>
<path class="c14" d="M323 321l3-2l10 14l-3 2z"/>
<path class="c13" d="M326 319l10 14"/>
<path class="c11" d="M352 326l3-1l10 18l-3 1z"/>
<path class="c8" d="M355 325l10 18"/>
<path class="c5" d="M362 344l3-1"/>
<path class="c7" d="M233 334l3-2l10 8l-3 1z"/>
<path class="c9" d="M262 331l3-2l10 9l-3 1z"/>
<path class="c12" d="M291 326l3-2l10 10l-3 2z"/>
<path class="c14" d="M320 323l3-2l10 14l-3 1z"/>
<path class="c12" d="M323 321l10 14"/>
<path class="c11" d="M349 327l3-1l10 18l-3 2z"/>
<path class="c8" d="M352 326l10 18"/>
<path class="c5" d="M359 346l3-2"/>
<path class="c7" d="M230 335l3-1l10 7l-3 2z"/>
<path class="c7" d="M230 335l10 8"/>
<path class="c9" d="M260 333l2-2l10 8l-3 2z"/>
<path class="c12" d="M289 328l2-2l10 10l-3 2z"/>
<path class="c11" d="M291 326l10 10"/>
<path class="c14" d="M318 325l2-2l10 13l-3 2z"/>
<path class="c12" d="M320 323l10 13"/>
<path class="c11" d="M347 328l2-1l10 19l-3 1z"/>
<path class="c8" d="M349 327l10 19"/>
<path class="c5" d="M356 347l3-1"/>
<path class="c8" d="M257 334l3-1l9 8l-3 1z"/>
<path class="c11" d="M286 330l3-2l9 10l-3 2z"/>
<path class="c13" d="M315 327l3-2l9 13l-3 1z"/>
<path class="c12" d="M318 325l9 13"/>
<path class="c11" d="M344 329l3-1l9 19l-2 1z"/>
<path class="c8" d="M347 328l9 19"/>
<path class="c5" d="M354 348l2-1"/>
<path class="c8" d="M254 336l3-2l9 8l-2 2z"/>
<path class="c10" d="M283 332l3-2l9 10l-2 2z"/>
<path class="c13" d="M312 329l3-2l9 12l-2 2z"/>
<path class="c11" d="M315 327l9 12"/>
<path class="c11" d="M341 330l3-1l10 19l-3 1z"/>
<path class="c8" d="M344 329l10 19"/>
<path class="c5" d="M351 349l3-1"/>
<path class="c8" d="M251 337l3-1l10 8l-3 1z"/>
<path class="c10" d="M280 334l3-2l10 10l-3 2z"/>
<path class="c9" d="M283 332l10 10"/>
<path class="c12" d="M309 330l3-1l10 12l-3 2z"/>
<path class="c11" d="M312 329l10 12"/>
<path class="c11" d="M338 332l3-2l10 19l-3 1z"/>
<path class="c8" d="M341 330l10 19"/>
<path class="c5" d="M348 350l3-1"/>
<path class="c8" d="M248 339l3-2l10 8l-3 2z"/>
<path class="c9" d="M278 336l2-2l10 10l-3 1z"/>
<path class="c12" d="M307 332l2-2l10 13l-3 1z"/>
<path class="c10" d="M309 330l10 13"/>
<path class="c11" d="M336 333l2-1l10 18l-3 2z"/>
<path class="c8" d="M338 332l10 18"/>
<path class="c5" d="M345 352l3-2"/>
<path class="c7" d="M246 340l2-1l10 8l-3 1z"/>
<path class="c9" d="M275 338l3-2l9 9l-3 2z"/>
<path class="c11" d="M304 334l3-2l9 12l-3 2z"/>
<path class="c10" d="M307 332l9 12"/>
<path class="c11" d="M333 335l3-2l9 19l-3 1z"/>
<path class="c8" d="M336 333l9 19"/>
<path class="c4" d="M342 353l3-1"/>
<path class="c7" d="M243 341l3-1l9 8l-2 1z"/>
<path class="c9" d="M272 339l3-1l9 9l-2 1z"/>
<path class="c8" d="M275 338l9 9"/>
<path class="c10" d="M301 336l3-2l9 12l-2 2z"/>
<path class="c9" d="M304 334l9 12"/>
<path class="c11" d="M330 336l3-1l9 18l-2 1z"/>
<path class="c8" d="M333 335l9 18"/>
<path class="c4" d="M340 354l2-1"/>
<path class="c7" d="M240 343l3-2l10 8l-3 1z"/>
<path class="c7" d="M240 343l10 7"/>
<path class="c8" d="M269 341l3-2l10 9l-3 2z"/>
<path class="c10" d="M298 338l3-2l10 12l-3 1z"/>
<path class="c9" d="M301 336l10 12"/>
<path class="c10" d="M327 338l3-2l10 18l-3 2z"/>
<path class="c7" d="M330 336l10 18"/>
<path class="c4" d="M337 356l3-2"/>
<path class="c8" d="M266 342l3-1l10 9l-3 1z"/>
<path class="c9" d="M295 340l3-2l10 11l-3 2z"/>
<path class="c10" d="M324 339l3-1l10 18l-3 1z"/>
<path class="c7" d="M327 338l10 18"/>
<path class="c4" d="M334 357l3-1"/>
<path class="c8" d="M264 344l2-2l10 9l-3 2z"/>
<path class="c7" d="M266 342l10 9"/>
<path class="c9" d="M293 342l2-2l10 11l-3 2z"/>
<path class="c8" d="M295 340l10 11"/>
<path class="c10" d="M322 341l2-2l10 18l-3 2z"/>
<path class="c7" d="M324 339l10 18"/>
<path class="c4" d="M331 359l3-2"/>
<path class="c8" d="M261 345l3-1l9 9l-2 1z"/>
<path class="c7" d="M264 344l9 9"/>
<path class="c9" d="M290 344l3-2l9 11l-2 1z"/>
<path class="c8" d="M293 342l9 11"/>
<path class="c9" d="M319 343l3-2l9 18l-2 1z"/>
<path class="c6" d="M322 341l9 18"/>
<path class="c3" d="M329 360l2-1"/>
<path class="c7" d="M258 347l3-2l10 9l-3 1z"/>
<path class="c8" d="M287 345l3-1l10 10l-3 2z"/>
<path class="c9" d="M316 344l3-1l10 17l-3 2z"/>
<path class="c6" d="M319 343l10 17"/>
<path class="c3" d="M326 362l3-2"/>
<path class="c7" d="M255 348l3-1l10 8l-3 1z"/>
<path class="c8" d="M284 347l3-2l10 11l-3 1z"/>
<path class="c7" d="M287 345l10 11"/>
<path class="c8" d="M313 346l3-2l10 18l-3 1z"/>
<path class="c6" d="M316 344l10 18"/>
<path class="c3" d="M323 363l3-1"/>
<path class="c7" d="M253 349l2-1l10 8l-3 2z"/>
<path class="c8" d="M282 348l2-1l10 10l-3 1z"/>
<path class="c7" d="M284 347l10 10"/>
<path class="c8" d="M311 348l2-2l10 17l-3 2z"/>
<path class="c5" d="M313 346l10 17"/>
<path class="c3" d="M320 365l3-2"/>
<path class="c7" d="M250 350l3-1l9 9l-2 1z"/>
<path class="c6" d="M250 350l10 9"/>
<path class="c7" d="M279 350l3-2l9 10l-2 2z"/>
<path class="c8" d="M308 349l3-1l9 17l-2 1z"/>
<path class="c5" d="M311 348l9 17"/>
<path class="c2" d="M318 366l2-1"/>
<path class="c7" d="M276 351l3-1l10 10l-3 1z"/>
<path class="c6" d="M279 350l10 10"/>
<path class="c7" d="M305 351l3-2l10 17l-3 2z"/>
<path class="c5" d="M308 349l10 17"/>
<path class="c2" d="M315 368l3-2"/>
<path class="c7" d="M273 353l3-2l10 10l-3 1z"/>
<path class="c6" d="M276 351l10 10"/>
<path class="c7" d="M302 353l3-2l10 17l-3 1z"/>
<path class="c5" d="M305 351l10 17"/>
<path class="c2" d="M312 369l3-1"/>
<path class="c7" d="M271 354l2-1l10 9l-3 2z"/>
<path class="c6" d="M273 353l10 9"/>
<path class="c7" d="M300 354l2-1l10 16l-3 1z"/>
<path class="c4" d="M302 353l10 16"/>
<path class="c2" d="M309 370l3-1"/>
<path class="c7" d="M268 355l3-1l9 10l-2 1z"/>
<path class="c6" d="M271 354l9 10"/>
<path class="c6" d="M297 356l3-2l9 16l-2 2z"/>
<path class="c4" d="M300 354l9 16"/>
<path class="c1" d="M307 372l2-2"/>
<path class="c6" d="M265 356l3-1l10 10l-3 1z"/>
<path class="c6" d="M294 357l3-1l10 16l-3 1z"/>
<path class="c4" d="M297 356l10 16"/>
<path class="c1" d="M304 373l3-1"/>
<path class="c6" d="M262 358l3-2l10 10l-3 1z"/>
<path class="c6" d="M291 358l3-1l10 16l-3 1z"/>
<path class="c4" d="M294 357l10 16"/>
<path class="c1" d="M301 374l3-1"/>
<path class="c6" d="M260 359l2-1l10 9l-3 1z"/>
<path class="c6" d="M260 359l9 9"/>
<path class="c6" d="M289 360l2-2l10 16l-3 2z"/>
<path class="c3" d="M291 358l10 16"/>
<path class="c1" d="M298 376l3-2"/>
<path class="c6" d="M286 361l3-1l9 16l-2 1z"/>
<path class="c3" d="M289 360l9 16"/>
<path class="c1" d="M296 377l2-1"/>
<path class="c5" d="M283 362l3-1l10 16l-3 1z"/>
<path class="c3" d="M286 361l10 16"/>
<path class="c1" d="M293 378l3-1"/>
<path class="c5" d="M280 364l3-2l10 16l-3 1z"/>
<path class="c3" d="M283 362l10 16"/>
<path class="c1" d="M290 379l3-1"/>
<path class="c5" d="M278 365l2-1l10 15l-3 1z"/>
<path class="c3" d="M280 364l10 15"/>
<path class="c1" d="M287 380l3-1"/>
<path class="c5" d="M275 366l3-1l9 15l-2 2z"/>
<path class="c3" d="M278 365l9 15"/>
<path class="c0" d="M285 382l2-2"/>
<path class="c5" d="M272 367l3-1l10 16l-3 1z"/>
<path class="c3" d="M275 366l10 16"/>
<path class="c0" d="M282 383l3-1"/>
<path class="c5" d="M269 368l3-1l10 16l-3 1z"/>
<path class="c3" d="M272 367l10 16"/>
<path class="c0" d="M279 384l3-1"/>
<path class="c3" d="M269 368l10 16"/>
</g>
<path class="k" d="M85 280L279 426L555 324M279 384V426M332 405l-1-1M387 385l-1-1M443 365l-1-1M498 344l-1-1"/>
</g>
</svg>
<svg width="640" height="480" viewBox="0 0 640 480" style="will-change:transform">
<text x="248" y="42" style="font-size:14.15px">TB2162_071112.ost</text>
<text x="12" y="294" style="font-size:14.1px">Anterior</text>
<text x="199" y="440">Posterior</text>
<text x="281.5" y="439.5">0</text>
<text x="330" y="418">20</text>
<text x="385" y="398">40</text>
<text x="440.5" y="377">60</text>
<text x="495.5" y="357">80</text>
<text x="548" y="335.5">100</text>
<text x="436" y="416.5" style="font-size:13.9px">Time [s]</text>
</svg>
</body></html>
